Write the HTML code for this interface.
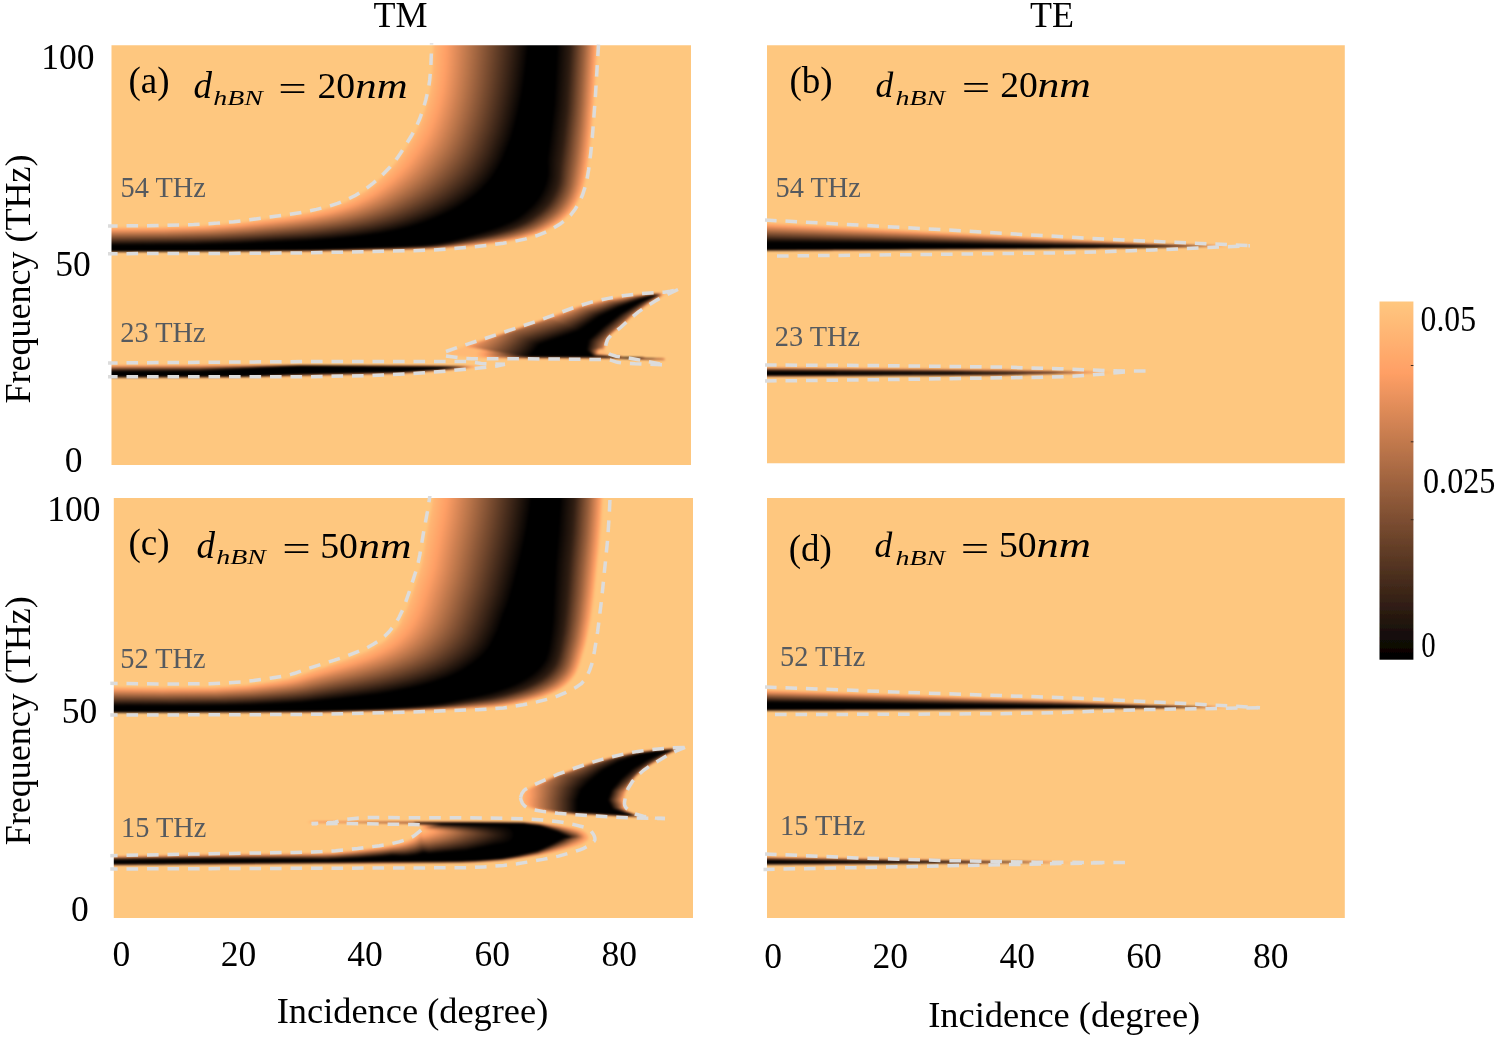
<!DOCTYPE html>
<html lang="en"><head><meta charset="utf-8"><title>Figure</title>
<style>
html,body{margin:0;padding:0;background:#fff;}
body{width:1498px;height:1038px;overflow:hidden;}
svg{display:block;position:absolute;left:0;top:0;}
text{font-family:"Liberation Serif","Times New Roman",serif;fill:#000;}
.t{font-size:36px;}
.k{font-size:35.5px;}
.g{font-size:29px;fill:#565a5e;}
.e{font-size:36px;}
.i{font-style:italic;}
.s{font-size:22px;font-style:italic;}
.p{font-size:37px;}
.dash{fill:none;stroke:#dcdcdc;stroke-width:3.5;stroke-dasharray:11.6 8.9;}
</style></head>
<body>
<svg width="1498" height="1038" viewBox="0 0 1498 1038">
<defs>
<filter id="bl" x="-2%" y="-2%" width="104%" height="104%" color-interpolation-filters="sRGB"><feGaussianBlur stdDeviation="0.8"/></filter>
<filter id="tb" x="-5%" y="-20%" width="110%" height="140%"><feGaussianBlur stdDeviation="0.45"/></filter>
<filter id="db" x="-2%" y="-2%" width="104%" height="104%"><feGaussianBlur stdDeviation="0.35"/></filter>
<linearGradient id="cb" x1="0" y1="1" x2="0" y2="0"><stop offset="0" stop-color="#000"/><stop offset="0.8" stop-color="#ff9f65"/><stop offset="1" stop-color="#ffc77f"/></linearGradient>
<clipPath id="cpa"><rect x="111.5" y="45.2" width="579.5" height="419.8"/></clipPath>
<clipPath id="cda"><rect x="108" y="43.2" width="584.5" height="423.8"/></clipPath>
<clipPath id="cpb"><rect x="767" y="45.2" width="577.8" height="418"/></clipPath>
<clipPath id="cdb"><rect x="763.5" y="43.2" width="582.8" height="422"/></clipPath>
<clipPath id="cpc"><rect x="113.8" y="497.9" width="579.2" height="420"/></clipPath>
<clipPath id="cdc"><rect x="110.3" y="495.9" width="584.2" height="424"/></clipPath>
<clipPath id="cpd"><rect x="767" y="497.9" width="577.8" height="420"/></clipPath>
<clipPath id="cdd"><rect x="763.5" y="495.9" width="582.8" height="424"/></clipPath>
</defs>
<g clip-path="url(#cpa)"><g filter="url(#bl)">
<rect x="103.5" y="37.2" width="595.5" height="435.8" fill="#fec77f"/>
<path fill="#ffc57e" d="M433 40.5l1 -0.4 6 0 115 -0.1 40 0 2 0.1 1.5 0.4 -0.5 4.3 -0.5 13.7 -0.5 4.4 -1.5 28.6 -0.5 3.7 -0.5 11.3 -0.5 3.5 -0.5 9.5 -0.5 3.6 -0.5 8.4 -0.5 3 -0.5 7.5 -0.5 2.6 -0.5 6.4 -0.5 2.5 -0.5 6 -0.5 1.9 -0.5 5.6 -0.5 1.5 -0.5 4.5 -0.5 1.6 -0.5 3.9 -0.5 1.2 -0.5 3.3 -0.5 0.9 -0.5 2.6 -0.5 0.9 -1.4 5.1 -0.6 0.9 -0.6 2.1 -0.4 0.4 -1.5 4.1 -0.5 0.5 -0.5 1.5 -0.5 0.4 -1.5 3.1 -3.1 4.5 -3.8 4.5 -4.1 4 -6 4.5 -8 5 -9.5 4.7 -12 4 -15 3.6 -14 2.4 -20 2.6 -14 1.1 -6 0.9 -5.7 0.2 -15.3 1.3 -7.1 0.2 -1.9 0.4 -8 0.4 -2 0 -1 -0.3 -7 0.4 -9 0 -3 0.5 -2 -0.4 -5 0.4 -4 -0.4 -2 0.5 -9 -0.1 -2 0.3 -2 -0.2 -1 0.3 -3 -0.3 -1 0.4 -5 0 -1 -0.4 -2 0.5 -6 -0.1 -1 0.4 -0.7 -0.3 -1.3 -0.1 -1 0.4 -0.7 -0.3 -1.3 0 -2 0.4 -1 -0.4 -2 0.4 -1 -0.4 -1 0.4 -11 0.1 -1 0.3 -1 -0.3 -1.4 0 -0.6 0.3 -0.6 -0.3 -1.4 0 -1 0.4 -1 -0.4 -2 0.4 -1 -0.4 -1 0.4 -2 -0.4 -1 0.4 -3 0 -1 -0.2 -2 0.2 -1 -0.4 -1 0.4 -12 -0.1 -1 0.2 -28 0 -1 0.2 -1 -0.2 -11 0 -1 0.2 -5 -0.2 -1 0.2 -1 -0.2 -1 0.2 -1 -0.2 -1 0.3 -1 -0.3 -9 0 -1 0.3 -1 -0.3 -1 0.4 -1 -0.4 -1 0.3 -1 -0.3 -1 0.2 -1.4 -0.2 -0.6 0.3 -1 -0.3 -1 0.3 -3.4 -0.3 -0.6 0.3 -1.2 -0.3 -4.8 0 -1 0.3 -0.7 -0.3 -1.3 0.3 -1 -0.3 -1 0.4 -1 -0.4 -1 0.2 -2.5 -0.2 -0.5 0.3 -0.5 -0.3 -1.5 0.3 -1 -0.3 -1 0.3 -4 -0.3 -1 0.4 -1 -0.4 -1 0.2 -1.3 -0.2 -0.7 0.3 -0.7 -0.3 -2.3 0.2 -1 -0.2 -1 0.3 -0.7 -0.3 -1.3 0.3 -1 -0.3 -1 0.3 -2 -0.2 -1 0.3 -1 -0.4 -1 0.4 -1 -0.4 -2 0.3 -1 -0.3 -1 0.3 -51 0.2 -13 0 -0.9 -0.5 0 -23 0.3 -1.5 0.6 -0.3 52 -0.1 6 -0.4 15 -0.1 5 -0.5 11 -0.1 2 -0.3 5 -0.2 1 -0.3 6 -0.2 2 -0.4 4 0 2 -0.4 10 -0.6 1 -0.4 5 -0.1 2 -0.5 3 0 2 -0.5 3 -0.1 1 -0.3 3 -0.1 4 -1 6 -0.5 4 -0.8 8 -0.7 1 -0.4 3 -0.1 2 -0.5 12 -1.5 1 -0.5 5 -0.9 6 -0.7 3 -0.8 5.6 -0.7 2.4 -0.8 9 -1.6 2 -1 3 -0.5 7 -2 9 -3 6.4 -2.6 1.2 -1 5.4 -2.6 11.1 -6.4 5.1 -3.5 6.9 -5.5 0.4 -1.5 3.6 -3 5.9 -5.7 8 -8.8 4.2 -5.5 6 -9 8.8 -14.2 4.1 -7.8 0.4 -1.5 0.5 -0.5 0.4 -1.5 0.9 -1.5 0.1 -1 0.7 -1 0.5 -2 0.4 -0.4 1.6 -5.1 0.6 -1 0.4 -2 0.5 -1 0.4 -2 0.7 -1.5 0.3 -2 0.7 -2 0.3 -2 0.6 -1.5 0.4 -2.5 0.7 -2 0.3 -3 0.7 -2 0.3 -4 0.7 -3.5 0.3 -6 0.7 -5.5zM669.2 292l1.9 0 -9.1 4.6 -5 2.9 -10 6.4 -8 5.5 -0.4 0.6 -1.6 1 -0.3 0.5 -2.7 1.9 -0.4 0.6 -2.6 2 -0.3 0.5 -0.7 0.4 -0.4 0.6 -0.6 0.3 -1.6 1.7 -1.4 1 -0.2 0.5 -0.9 0.5 -0.2 0.5 -0.7 0.4 -1.4 1.6 -10.6 8.4 -1.3 1.6 -0.7 0.3 -0.2 0.7 -0.9 0.5 -0.3 1 -0.7 0.5 -0.4 1.5 -0.5 0.2 -0.3 2.3 -0.7 1 -0.3 4 -0.7 0.5 0.9 2.5 2.7 3 0.5 1.5 0.7 0.5 1.2 0 0.9 0.5 10.1 0 1 0.5 11 0.1 1 0.4 10 0 1 0.5 10 0 1.8 0.5 6.2 0 1 0.5 -0.1 1 -0.9 0.5 -8 -0.1 -2 -0.4 -11 -0.1 -3 -0.4 -11 -0.1 -2 -0.4 -11 -0.1 -3 -0.4 -3.1 0 -0.2 0.5 -0.7 0.3 -20 -0.3 -100 -0.3 -24 -1 -14 -1.5 -4 -0.4 -0.3 -0.3 -0.1 -3 0.4 -0.8 15 -5.3 1 -0.7 74.3 -24.7 23.7 -8.5 15 -5.7 8 -2.5 13 -3.5 9 -2 26 -4.1 22 -2 7 -0.1 3 0.1zM197.2 365l0.8 -0.4 121 0 2 0 1 0.4 73 0.1 5 0 1 0.4 71 0.1 10 0.4 0.7 0.5 -10.9 1.5 -0.8 0.3 -8.5 0.7 -1.5 0.4 -3.4 0.1 -1.6 0.4 -3.4 0.1 -1.6 0.4 -10.5 0.6 -1.5 0.4 -5 0.1 -1 0.3 -5.5 0.2 -1.5 0.4 -11 0.6 -1 0.3 -5.5 0.2 -1.5 0.4 -4.9 0.1 -2.1 0.4 -38.1 0.6 -4.9 0.4 -17.9 0.1 -5.1 0.4 -17.6 0.1 -5.4 0.4 -20.2 0.1 -5.8 0.4 -27.4 0.1 -6.6 0.4 -32.9 0.1 -19.1 0.4 -55 0.1 -38 0 -1 -0.5 0.1 -11.5 0 -0.5 0.9 -0.4z"/>
<path fill="#ffc17b" d="M433.1 40.5l0.9 -0.4 8 0 113 -0.1 40 0 2 0.1 1.3 0.4 -2.9 49.5 -3 41 -3 28 -3 19 -2 8.5 -2 6 -2.9 7 -3.2 6 -3.8 5.5 -3 3.5 -4.2 4 -5.9 4.5 -4.7 3 -6.7 3.8 -9 4 -11 3.4 -11 2.6 -16 2.8 -21 2.7 -13 1.1 -6 0.8 -22 1.6 -6.4 0.2 -1.6 0.4 -27 0.5 -3 0.4 -2 -0.3 -5 0.4 -4 -0.4 -2 0.4 -3 -0.1 -8 0.4 -2 -0.2 -1 0.2 -3 -0.2 -1 0.3 -2 -0.1 -3 0.2 -1 -0.4 -2 0.5 -6 -0.1 -1 0.4 -0.6 -0.3 -1.4 -0.1 -1 0.4 -0.6 -0.3 -1.4 0 -2 0.3 -1 -0.3 -2 0.4 -1 -0.4 -2 0.4 -1 -0.2 -2 0.2 -7 0 -1 0.3 -2 -0.3 -1 0.3 -2 -0.2 -1 0.4 -1 -0.4 -2 0.3 -1 -0.3 -1 0.3 -2 -0.3 -1 0.3 -2 -0.2 -1 0.3 -1 -0.3 -2 0.3 -1 -0.4 -1 0.4 -2 -0.2 -1 0.2 -4 -0.2 -4 0.2 -1 -0.2 -1 0.2 -29 0.2 -33 -0.1 -1 0.3 -1 -0.3 -1 0.3 -1 -0.3 -1 0.2 -1 -0.2 -3 0.2 -1 -0.2 -5 0.2 -6 -0.2 -1 0.3 -0.6 -0.3 -1.4 0.2 -1 -0.2 -1 0.3 -1 -0.3 -4 0.2 -3 -0.2 -1 0.3 -0.9 -0.3 -3.1 0 -1 0.3 -1 -0.3 -3 0.2 -4 -0.2 -1 0.3 -0.6 -0.3 -1.4 0.2 -1.5 -0.2 -0.5 0.2 -2 -0.2 -1 0.3 -1 -0.3 -1 0.3 -0.8 -0.3 -2.2 0.2 -1 -0.2 -1 0.3 -1 -0.2 -10 0.2 -40 0.1 -13 0 -0.9 -0.4 0 -22.5 0.1 -1.5 0.8 -0.7 52 -0.2 7 -0.4 14 -0.1 6 -0.4 10 -0.1 2 -0.4 5 -0.1 1 -0.4 6 -0.1 2 -0.4 5 -0.2 2 -0.3 9 -0.6 1 -0.3 5 -0.2 2 -0.4 3 -0.1 2 -0.4 7 -0.6 4 -0.9 2 -0.1 2 -0.4 2 -0.1 4 -0.7 8 -0.8 1 -0.4 3 -0.1 2 -0.5 6 -0.6 6 -0.9 1 -0.5 8 -1.3 3 -0.2 3 -0.8 5.9 -0.8 2.1 -0.7 7 -1.2 2 -0.5 2 -0.9 3 -0.6 9 -2.6 6 -2 7.5 -3 1.2 -1 6.3 -3 10.2 -6 5.1 -3.5 6.9 -5.5 0.1 -1 0.4 -0.5 9.3 -8.5 8 -8.9 5 -6.6 5.3 -8 8.7 -14.1 4.2 -7.9 3.8 -9.2 3.2 -9.3 3 -11 2 -9.5 1.1 -7.5 0.9 -11.5zM667.3 292.5l1.7 -0.3 0.6 0.3 -8.6 4.5 -12 7.5 -8 5.4 -7.2 5.6 -13.1 12 -8.7 6.8 -1.5 1.7 -0.5 0.3 -0.3 0.7 -0.8 0.5 -0.4 1 -0.6 0.5 -0.2 1 -0.7 0.7 -0.4 2.3 -0.7 1 -0.2 4 -0.9 0.5 0.9 2.5 2.7 3 0.6 1.5 0.7 0.5 1.3 0.1 0.9 0.4 10.1 0 1 0.5 10 0 1 0.1 1 0.4 10 0 1 0.5 10 0 1.7 0.5 6.3 0 1 0.5 -0.1 1 -0.9 0.4 -8 -0.1 -2 -0.3 -11 -0.1 -3 -0.4 -10 -0.1 -3 -0.4 -11 -0.1 -3 -0.4 -3.2 0 -0.8 0.8 -9.9 -0.3 -108.1 -0.3 -28 -1.4 -16 -1.7 -0.3 -0.6 0 -2.5 0.3 -0.6 15.3 -5.4 0.7 -0.7 74.4 -24.8 12.8 -4.5 25.8 -9.7 8 -2.5 12 -3.1 10 -2.3 26 -4.1 23 -2.1 6 -0.1 3 0.3zM197.3 365l0.7 -0.4 118 0 5 0 1 0.4 70 0.1 8 0 1 0.4 69 0.2 10 0.3 2 0.2 0.4 0.3 -11.4 1.7 -13.6 1.3 -1.4 0.4 -3.5 0.1 -1.5 0.4 -10.6 0.6 -1.4 0.3 -5.1 0.2 -1.9 0.4 -4.6 0.1 -1.4 0.3 -5 0.2 -1 0.3 -5 0.2 -2 0.4 -4.7 0.1 -1.3 0.3 -5 0.2 -2 0.4 -14 0.1 -7 0.3 -16 0.2 -6 0.3 -17 0.2 -5 0.3 -19.2 0.2 -5.8 0.4 -20 0.1 -6 0.3 -26.8 0.2 -7.2 0.4 -111 0.6 -33 0 -0.9 -0.5 0 -11.5 0.1 -0.5 0.8 -0.4z"/>
<path fill="#ffbd79" d="M433.4 40.5l1.6 -0.3 11 -0.1 85 -0.1 61 0.1 4 0 1.8 0.4 -2.6 46 -3 42 -3 28.5 -2 14 -2 10.5 -2.1 7.5 -1.9 5.5 -2.9 6.5 -3.1 5.5 -4 5.5 -3.1 3.5 -3.9 3.5 -6.1 4.5 -9.2 5.5 -8.9 4.1 -11 3.6 -15 3.5 -21 3.3 -19 2.3 -15 1.4 -21 1.6 -6 0.2 -1 0.2 -16.5 0.3 -1.5 0.3 -12 0.3 -4 -0.2 -3 0.4 -4 -0.4 -2 0.4 -3 -0.2 -2 0.3 -12 0 -1 0.3 -3 -0.2 -2 0.3 -1 -0.3 -2 0.4 -2 -0.3 -1 0.3 -3 -0.1 -1 0.3 -2 -0.2 -5 0.3 -1 -0.3 -2 0.4 -1 -0.4 -2 0.4 -1 -0.3 -2 0.4 -1 -0.2 -12 0.2 -1 0.3 -1 -0.3 -2 0.3 -1 -0.3 -1 0.3 -2 -0.3 -2 0.3 -1 -0.2 -1 0.3 -1 -0.3 -2 0.3 -1 -0.4 -1 0.4 -2 -0.3 -1 0.4 -1 -0.4 -2 0.4 -1 -0.4 -1 0.3 -3 0.1 -1 -0.4 -1 0.4 -4 -0.2 -1 0.2 -60 0.2 -59 -0.1 -52 0.4 -13 0 -0.8 -0.4 0 -21 0.2 -3 0.6 -0.5 52 -0.3 37 -1 7 -0.5 2 -0.4 5 -0.1 9 -0.9 4 -0.1 2 -0.4 14 -1.1 7 -0.9 2 -0.1 4 -0.9 2 0 28 -3.7 6 -0.9 1 -0.4 20 -3.2 7 -1.4 18 -5 6 -2 8 -3.2 1 -0.9 8.2 -4.1 9.1 -5.5 5 -3.5 6.2 -5 0.1 -1 10.7 -10 8 -9 6.8 -9.5 9.1 -14.5 3.8 -6.5 3.2 -6.5 4 -10 3 -9 2.9 -11.5 1.5 -7 0.7 -4.5 1.2 -14.5 0.7 -15zM654.6 293l6.4 -0.2 2 0.4 1.9 0.8 -0.9 0.5 -0.2 0.5 -1.3 1 -8.5 5 -9 6 -8 5.8 -8 6.7 -8.6 8 -8.4 6.7 -3.3 3.3 -1.7 2.8 -1.2 3.7 -0.5 4 -1.3 0.5 0.1 0.5 1 2.5 2.9 3.5 1.4 1 1.6 0.1 0.7 0.4 10.3 0.1 1 0.4 10 0.1 2 0.4 9 0 1 0.1 1 0.4 9 0 3 0.5 6 0 0.9 0.5 -0.2 1 -0.7 0.4 -33 -1.1 -4 -0.3 -9 -0.1 -5 -0.4 -3 -0.1 -1 0.6 -87 -0.2 -34 -0.5 -8 -0.4 -5 -0.8 -14 -0.7 -13 -1.5 -0.5 -0.4 0 -1.5 0.5 -0.7 16.7 -5.8 -1.3 -0.5 74.5 -25 42.1 -15.2 15 -4.1 13 -2.9 25 -3.9zM197.6 365l0.4 -0.2 110 -0.2 13 0.2 1 0.2 62 0.1 16 0.2 1 0.2 61 0.2 16 0.4 3.2 0.4 -11.2 1.7 -19 2 -51 4 -93 2.1 -51.6 0.7 -9.4 0.4 -140 0.5 -0.9 -0.4 -0.1 -0.5 0.2 -10.5 0.2 -1 0.6 -0.3z"/>
<path fill="#ffb976" d="M433.7 40.5l17.3 -0.4 80 -0.1 59 0.1 5 0 2.5 0.4 -3.2 54.5 -2.5 33.5 -3.2 30 -1.6 11.5 -1.7 9.5 -1.9 7.5 -2.4 7 -2.6 6 -3 5.5 -3.4 5 -3.9 4.5 -4.3 4 -5.4 4 -9.4 5.7 -9 4.2 -11 3.6 -13 3.1 -15 2.7 -19 2.4 -21 2.2 -30 2.2 -17 0.4 -4 0.3 -13 0.1 -3 0.2 -4 -0.2 -2 0.4 -3 -0.3 -2 0.3 -16 0.2 -2 0.3 -1 -0.4 -2 0.4 -2 -0.3 -1 0.3 -12 0.1 -2 0.3 -1 -0.3 -2 0.3 -1 -0.2 -2 0.3 -1 -0.3 -2 0.3 -10 0.1 -1 0.2 -1 -0.2 -6 0 -7 0.3 -1 -0.3 -1 0.3 -2 -0.2 -1 0.3 -1 -0.3 -2 0.3 -1 -0.3 -1 0.2 -3 0.1 -1 -0.3 -1 0.3 -2 -0.2 -1 0.2 -1 -0.3 -1 0.3 -3 0 -1 -0.2 -1 0.2 -134 0.2 -45 0.3 -0.7 -0.3 -0.2 -1 0.1 -18.5 0.2 -3.5 0.2 -1 0.4 -0.3 52 -0.4 38 -1.1 38 -2.9 13 -1.5 4 -0.8 23 -2.7 1 -0.4 10 -1.2 3 -0.8 3 -0.2 17 -2.9 1 -0.4 9 -1.8 3.3 -1.1 8.7 -2.2 8 -2.6 9 -3.5 1 -0.8 8.6 -4.4 6.8 -4 5.9 -4 7 -5.5 0.4 -0.5 0.2 -1 3.7 -3 5.7 -5.5 8.2 -9 5 -6.5 6.9 -10.5 8 -13 4.1 -8 4 -10 2.9 -9 3 -11.5 1.9 -9.5 1.2 -10 0.8 -14zM656 293l6 0.1 1.8 0.9 0 0.5 -1 1 -13.8 8.6 -12 8.5 -8 6.8 -7.7 7.1 -9.3 7.5 -3 3 -2 3 -1.2 3.5 -0.8 4.5 -1.6 1 0 0.5 0.2 1 1.2 2 2.4 2.5 0.8 0.2 1 0.8 2 0.2 0.6 0.3 9.4 0.1 2 0.4 10 0.1 2 0.4 9 0.1 2 0.4 9 0.1 3 0.5 6 0 0.9 0.4 -0.3 1 -0.6 0.3 -19 -0.5 -32 -1.4 -3 0 -1 0.5 -1 0 -48 -0.3 -33 0.2 -36 -0.5 -10 -0.6 -3 -0.5 -3 -0.8 -13 -0.7 -13 -1.4 -0.6 -0.3 0.1 -1 0.5 -0.2 16.6 -5.8 -0.6 -0.8 -0.7 -0.2 84.7 -28.7 26 -9.7 7 -2.2 12 -3.2 13 -3.1 26 -4zM197.9 365l104.1 -0.3 20 0.4 135 0.6 19 0.4 4.2 0.4 -10.2 1.6 -20 2.1 -52 4 -155 3.1 -137 0.6 -0.8 -0.4 -0.1 -0.5 0.1 -10 0.3 -1.5 0.5 -0.2 91 -0.1z"/>
<path fill="#ffb573" d="M434.3 40.5l20.7 -0.4 76 -0.1 57 0.1 7 0.1 2.1 0.3 -3.2 54.5 -2.5 33.5 -3.3 31.5 -1.6 11 -1.7 9 -1.9 7.5 -2.4 7 -2.6 6 -3.1 5.5 -3.5 5 -3.5 4 -4.5 4 -5.3 4 -9.1 5.5 -8.4 4 -10.4 3.5 -11.8 3 -14.3 2.7 -16 2.2 -27 2.9 -18 1.4 -18 1.1 -11 0.1 -4 0.3 -20 0.2 -3 0.3 -2 -0.3 -2 0.3 -16 0.2 -2 0.3 -1 -0.3 -2 0.3 -2 -0.2 -2 0.3 -2 -0.2 -1 0.3 -2 -0.2 -8 0.4 -1 -0.2 -2 0.3 -1 -0.3 -2 0.3 -1 -0.2 -2 0.2 -2 -0.1 -9 0.4 -14 0.1 -1 -0.2 -1 0.2 -2 -0.2 -1 0.3 -1 -0.3 -2 0.3 -1 -0.3 -4 0.3 -1 -0.3 -1 0.3 -2 -0.2 -1 0.3 -1 -0.3 -1 0.3 -3 0 -1 -0.3 -1 0.3 -134 0.2 -45 0.3 -0.6 -0.3 -0.3 -1 0.1 -17 0.3 -4.5 0.5 -1.6 56 -0.5 35 -1.1 2 -0.3 18 -1.1 22 -2 47 -6.1 2 -0.6 4 -0.4 14 -2.5 3.4 -0.8 2.6 -0.3 2 -0.7 4 -0.6 14 -3.9 9 -3.1 6 -2.4 8.6 -4.5 9.3 -5.5 5 -3.5 6.9 -5.5 0.2 -0.5 10.1 -9.5 7.8 -8.5 4.9 -6.5 0.2 -0.6 0.9 -0.9 2.1 -3.6 0.8 -0.9 0.2 -0.6 0.8 -0.9 0.2 -0.8 0.8 -0.7 0.3 -1 0.6 -0.5 0.3 -1 0.7 -0.5 0.3 -1 0.6 -0.5 0.4 -1.1 1.8 -2.4 0.2 -0.9 0.7 -0.6 0.3 -1 0.7 -0.5 0.3 -1.1 1.7 -2.4 0.3 -1.1 0.6 -0.4 0.4 -1.4 0.7 -0.6 0.3 -1.2 0.7 -0.8 0.3 -1.4 0.6 -0.6 0.4 -1.6 0.7 -0.9 0.3 -1.6 0.8 -0.9 0.2 -1.5 0.8 -1 0.2 -1.6 0.7 -0.9 0.3 -1.7 0.8 -1.3 0.2 -1.7 0.8 -1.3 0.2 -1.7 0.7 -1.3 0.3 -2.1 0.7 -1.4 0.3 -2.3 0.7 -1.2 0.3 -2.7 0.7 -1.3 0.3 -3.1 0.7 -1.4 0.3 -3.3 0.7 -1.7 0.3 -5.1 0.8 -3.4 0.2 -7.5 0.7 -4.5zM658 293l4 0.2 1.5 0.8 0.1 0.5 -1 1 -13.6 8.4 -12 8.6 -6 4.9 -9.9 9.1 -9.1 7.3 -3 3.1 -2 2.9 -1.4 3.7 -0.8 4.5 -1.8 1 -2.1 0 -0.9 0.5 -0.3 1.5 -0.8 0.5 0 1.5 -0.9 0.5 -0.1 0.5 9.1 1.1 1.9 0.9 3.1 0.5 9 0.1 2 0.4 9 0.1 3 0.4 9 0.1 2 0.4 8 0.1 4 0.5 6 0 0.8 0.4 -0.3 1 -0.5 0.2 -18 -0.4 -33 -1.4 -3 0 -2 0.5 -48 -0.4 -30 0.2 -32 -0.4 -13 -0.5 -6 -0.8 -2.8 -1 0.6 -3 1 -2 1.4 -2 -1.2 -0.5 -2 0 -1 -0.5 -2 0 -1 -0.5 -3 0 -1 -0.5 -2 -0.1 -0.9 -0.9 40.6 -14 43.3 -14.5 28 -10.4 8 -2.4 22 -5.4 26 -4zM223 365l77 -0.3 22 0.4 134 0.7 20 0.4 3.3 0.3 -10.3 1.6 -19 2.1 -45 3.5 -9 0.4 -155 3.2 -135 0.6 -0.7 -0.4 -0.2 -0.5 0.1 -9.5 0.2 -1.5 0.6 -0.6 91 -0.1 1 -0.2z"/>
<path fill="#ffb171" d="M436.2 40.5l22.8 -0.3 72 -0.2 55 0.1 9 0.1 1.8 0.3 -3.2 54.5 -2.5 33.5 -3.4 31.5 -1.7 11.5 -1.7 9 -1.9 7.5 -2.5 7 -2.6 6 -3.3 5.6 -3.5 4.9 -3.6 4 -5.2 4.5 -5.7 4 -9 5.3 -8.3 3.7 -11.7 3.7 -13 3.1 -17 2.8 -17 2.1 -25 2.5 -24 1.7 -23 0.8 -18 0.1 -3 0.3 -2 -0.2 -2 0.3 -3 -0.2 -15 0.6 -1 -0.2 -6 0.3 -2 -0.2 -1 0.3 -2 -0.2 -17 0.6 -2 -0.2 -9 0.4 -18 0 -1 0.2 -1 -0.2 -2 0.3 -1 -0.3 -4 0.3 -1 -0.3 -1 0.3 -2 -0.2 -1 0.2 -1 -0.2 -4 0.2 -1 -0.2 -1 0.2 -179 0.5 -0.9 -0.7 0.2 -18 0.2 -3.5 0.5 -1.9 53 -0.5 39 -1.1 16 -1.1 21 -1.8 40 -4.9 30 -4.7 13 -2.6 11.2 -2.9 9.8 -3.1 9.7 -3.9 8.1 -4 7.6 -4.5 7.2 -5 8 -6.5 8.6 -8 6.9 -7.5 5.5 -7 5.7 -8.5 9.1 -14.5 4.2 -8 4 -9.5 3.2 -9.5 3.2 -11.5 2.1 -9.5 1.1 -8.5 1 -11.5zM651.8 293.5l5.2 -0.4 4 0.1 2 0.7 0.3 0.6 -0.9 1 -12.4 7.6 -13 9.2 -5 4.1 -12.3 11.1 -8.7 7.1 -3 3.3 -1.2 2.1 -1.3 3.5 -0.8 4.5 -1.7 0.9 -2.4 0.1 -0.8 0.5 -1.1 2 0 1.5 -0.7 0.4 -0.5 0.6 9.5 1.1 1.7 0.9 3.3 0.6 9 0 2 0.5 9 0 3 0.5 8 0 3 0.5 8 0 4 0.5 6 0 0.8 0.4 -0.1 0.5 -0.7 0.7 -51 -1.8 -3 -0.1 -2 0.5 -48 -0.4 -30 0.3 -30 -0.5 -13 -0.5 -6 -0.6 -3.6 -1.1 0.9 -3.5 2.1 -3.5 -1.4 0 -1 -0.6 -2 0 -1 -0.5 -2 0 -1 -0.5 -3 0 -1 -0.5 -2 -0.1 -0.4 -0.3 0.2 -0.5 1.2 -0.4 39 -13.6 43.5 -14.5 27.5 -10.2 5 -1.6 11 -2.9 14 -3.3 27 -4.2zM251.7 365l48.3 -0.2 22 0.3 122 0.6 29 0.4 5.5 0.4 -8.5 1.4 -21 2.3 -45 3.5 -9 0.4 -156 3.2 -133 0.5 -0.7 -0.3 -0.2 -0.5 0.1 -9 0.3 -2 0.5 -0.6z"/>
<path fill="#ffad6e" d="M438.3 40.5l23.7 -0.3 69 -0.1 54 0 11.5 0.4 -3.3 55 -2.4 33 -3.4 31.5 -1.7 11.5 -1.8 9.5 -2 7.5 -2.5 7 -2.8 6 -3.2 5.5 -3.7 5 -3.8 4 -4.9 4.2 -6.2 4.3 -8.7 5 -8.1 3.6 -12 3.7 -13 3 -16.1 2.7 -16.9 2.1 -25 2.5 -24 1.7 -23 0.8 -23 0.3 -3 0.2 -2 -0.1 -15 0.5 -1 -0.2 -6 0.3 -2 -0.1 -1 0.2 -2 -0.1 -8 0.3 -38 0.5 -1 0.2 -4 -0.2 -4 0.2 -1 -0.2 -1 0.2 -4 -0.2 -4 0.3 -1 -0.3 -1 0.3 -1 -0.2 -8 0.2 -170 0.5 -0.8 -0.7 0.1 -17.5 0.2 -3.5 0.5 -2 54 -0.5 41 -1.3 35 -2.7 42 -5.2 29 -4.5 13.4 -2.8 10.6 -2.7 10 -3.3 8.9 -3.5 8.1 -4 8.5 -5 7.8 -5.5 8.5 -7 7.5 -7 7 -7.5 5.1 -6.5 5.8 -8.5 8.5 -13.5 4.6 -8.5 4 -9.5 3.4 -10 3.2 -11.5 2.1 -9.5 1.2 -8.5 1 -11.5zM652.7 293.5l7.3 -0.3 2 0.3 0.9 0.5 0.2 0.5 -0.9 1 -12.2 7.4 -13 9.3 -5 4.1 -11.3 10.2 -9.7 8 -3 3.3 -1.3 2.2 -1.5 4 -0.7 4 -1.5 0.9 -2.6 0.1 -0.8 0.5 -1.1 2 0 1.5 -1.4 1 9.9 1.2 1.6 0.8 3.4 0.6 8 0 3 0.5 9 0 3 0.5 8 0 3 0.5 8 0 3 0.4 7 0.1 0.7 0.4 -0.1 0.5 -0.6 0.6 -54 -1.8 -2 0.4 -48 -0.3 -30 0.2 -28 -0.4 -14 -0.6 -6 -0.7 -3.5 -0.9 1 -3.5 1.8 -3 -0.3 -0.5 -2 -0.1 -1 -0.5 -2 0 -1 -0.5 -2 0 -1 -0.5 -3 0 -1 -0.6 -2.2 -0.3 0.2 -0.3 38 -13.4 46 -15.3 26 -9.7 6 -1.9 25 -6.3 26 -4zM267.7 365l32.3 -0.2 142 0.9 29 0.5 6.8 0.3 -7.8 1.3 -21 2.3 -49 3.8 -163 3.4 -131 0.5 -0.6 -0.3 -0.2 -0.5 0.1 -9 0.2 -1.5 0.5 -0.9z"/>
<path fill="#ffa96c" d="M440.4 40.5l24.6 -0.3 66 -0.1 54 0 11.1 0.4 -3.2 54.5 -2.4 33 -3.5 32 -1.7 11.5 -1.8 9.5 -2 7.5 -2.7 7.5 -2.8 6 -3.3 5.5 -3.8 5 -3.9 4 -5 4.1 -6 4.1 -8.4 4.8 -7.9 3.5 -11.7 3.7 -13 3 -15 2.5 -18 2.3 -25 2.6 -24 1.7 -23 0.8 -102 1.9 -199 0.6 -0.8 -0.6 0.1 -16.5 0.3 -4 0.4 -2.1 55 -0.5 41 -1.3 35 -2.8 43.6 -5.3 17.2 -2.5 12.2 -2.1 13 -2.8 9.9 -2.6 9.3 -3 8.9 -3.5 8.1 -4 8.8 -5.1 8 -5.6 8.4 -6.8 7.1 -6.5 7.1 -7.5 5.9 -7.5 6.2 -9 8 -12.5 4.3 -8 4 -9.5 3.5 -10 3.1 -11 2.2 -10 1.3 -9 1.1 -11.5zM653.6 293.5l6.4 -0.2 2 0.4 0.9 0.8 -0.9 1 -11 6.6 -14 9.9 -5 4.1 -11.4 10.4 -9.6 7.8 -3 3.3 -1.5 2.4 -1.5 4.4 -0.6 3.6 -1.4 0.9 -2.8 0.1 -0.8 0.5 -1.1 2 0.1 1.5 -1.4 1 10 1.3 1.5 0.7 3.5 0.6 8 0 3 0.5 9 0 3 0.5 8 0 3 0.5 8 0 3 0.5 7 0.1 0.7 0.3 -0.1 0.5 -0.6 0.5 -54 -1.7 -2 0.3 -48 -0.3 -30 0.2 -26 -0.4 -14 -0.5 -6 -0.6 -4.3 -1 1 -3.5 1.8 -3 -1.5 -0.6 -2 0 -1 -0.5 -2 0 -1 -0.5 -2 -0.1 -1 -0.5 -3 0 -1 -0.5 -2.1 -0.3 40.1 -14.2 44 -14.7 27 -10 4 -1.3 12 -3.2 14 -3.3 26 -4.1zM277.9 365l22.1 -0.1 140 0.9 37.1 0.7 -7.1 1.2 -20 2.2 -50 3.9 -166 3.5 -128 0.5 -0.5 -0.3 -0.4 -1 0.2 -8.5 0.3 -1.5 0.4 -0.8z"/>
<path fill="#ffa569" d="M442.5 40.5l25.5 -0.3 63 -0.1 52 0 12.8 0.4 -3.2 54.5 -2.5 33 -1.8 18.5 -1.9 15.5 -1.4 9.4 -1.9 10.1 -2.1 7.5 -2.7 7.5 -2.9 6 -3.4 5.5 -3.5 4.5 -3.9 4 -5.5 4.5 -6 4 -7.9 4.5 -8.2 3.6 -12.9 3.9 -13.4 3 -15.4 2.5 -17.3 2.2 -24 2.4 -23 1.6 -23 0.8 -102 2 -199 0.6 -0.8 -0.6 0.1 -16 0.7 -6.3 55 -0.4 41 -1.3 35 -2.7 44 -5.3 17.5 -2.5 12.5 -2.2 12 -2.5 11 -2.8 9.3 -3 8.9 -3.5 8.3 -4 8.7 -5 7.8 -5.3 8.3 -6.7 7.3 -6.5 7.3 -7.5 6 -7.5 6.4 -9 8 -12.5 4.4 -8 4.2 -10 3.3 -9.5 3.2 -11 2.3 -10.5 1.5 -10.5 1 -10zM654.3 293.5l5.7 -0.1 2 0.4 0.8 0.7 -1 1 -10.8 6.5 -14 9.9 -5 4.1 -11.6 10.5 -9.4 7.7 -3 3.2 -1.6 2.6 -1.4 3.9 -0.8 4.1 -1.2 0.8 -3.1 0.2 -0.7 0.5 -1.1 2 0.1 1.5 -1.3 1 10.1 1.4 1.3 0.6 3.7 0.6 8 0 3 0.5 8 0 4 0.5 8 0 3 0.5 8 0 3 0.5 7 0.1 0.6 0.3 -0.6 1 -54 -1.8 -2 0.4 -48 -0.3 -30 0.2 -25 -0.5 -14 -0.5 -6 -0.6 -4.1 -0.9 1 -3.5 1.8 -3 -1.7 -0.1 -1 -0.5 -2 0 -1 -0.6 -2 0 -1 -0.5 -2 0 -1 -0.5 -3 -0.1 -1 -0.5 -1.6 -0.2 42.2 -15 40.1 -13.5 1.3 -0.2 27 -10.1 5 -1.5 13 -3.4 13 -3.1 26 -4zM284.9 365l155.1 0.8 36.4 0.7 -6.4 1.1 -20 2.3 -50 3.9 -168 3.5 -126 0.4 -0.5 -0.2 -0.3 -1 0.1 -8 0.2 -1.5 0.5 -1.2 94 -0.2z"/>
<path fill="#ffa167" d="M444.5 40.5l86.5 -0.4 50 0.1 14.4 0.3 -3.1 54 -2.3 31.3 -3 28.9 -2 14.3 -2 11.2 -1.9 7.3 -2.1 6.4 -2.9 6.6 -3.1 5.4 -4 5.6 -3.7 4 -5.3 4.5 -6 4.2 -9 5.1 -8.4 3.7 -11.2 3.5 -15.4 3.5 -12 2 -20 2.6 -24 2.4 -24 1.7 -22 0.7 -102 2 -199 0.6 -0.7 -0.5 0 -15 0.7 -6.9 55 -0.4 42 -1.3 35 -2.7 46 -5.5 16 -2.3 13 -2.3 12 -2.5 10 -2.6 10 -3.2 9 -3.6 8 -3.8 8.6 -4.9 7.4 -5 10 -7.9 7.3 -6.6 6.8 -7 5.6 -7 7.1 -10 7.5 -11.5 4.1 -7.5 4.1 -9.5 3.5 -10 3.2 -11 2.3 -10.5 1.4 -9 1.2 -12zM655 293.5l5 -0.1 2 0.5 0.6 0.6 -0.9 1 -10.7 6.4 -13 9.1 -6 4.8 -11.7 10.7 -9.3 7.6 -3 3.2 -1.7 2.7 -1.3 3.5 -0.9 4.5 -1.1 0.8 -3.3 0.2 -0.7 0.5 -1.1 2 0.1 1.5 -1.2 1 10.2 1.5 1.2 0.5 2.8 0.5 9 0.1 3 0.5 8 0 4 0.5 8 0 3 0.5 8 0.1 3 0.4 7 0.1 0.6 0.3 -0.6 0.9 -54 -1.7 -2 0.3 -48 -0.3 -30 0.2 -24 -0.4 -14 -0.6 -6 -0.6 -4 -0.8 0.8 -3 1.8 -3 -0.6 -0.5 -2 -0.1 -1 -0.5 -2 -0.1 -1 -0.5 -2 0 -1 -0.5 -2 -0.1 -1 -0.5 -3 0 -1 -0.6 -0.9 -0.1 41.9 -15 40 -13.5 1 -0.1 27 -10 4 -1.3 12 -3.2 15 -3.6 26 -4zM228.3 365.5l71.7 -0.5 140 0.8 35.5 0.7 -5.5 1 -20 2.3 -50 3.9 -167 3.5 -127 0.5 -0.8 -0.7 0.1 -8 0.3 -2 0.4 -1z"/>
<path fill="#fc9d64" d="M446.6 40.5l84.4 -0.4 49 0.1 15.1 0.3 -4.1 68.4 -2 23.6 -2 19 -2 15.3 -3 16 -2 7.1 -3 7.9 -3 5.8 -3 4.7 -3 3.8 -4 4.1 -5 4.1 -6 4.2 -8 4.6 -9 3.9 -9.5 3 -12.4 3 -17 3 -19.1 2.5 -24.9 2.5 -23.1 1.7 -22 0.7 -102 2 -199 0.6 -0.7 -0.5 0.1 -14.5 0.6 -7 56 -0.4 42 -1.4 35.2 -2.7 47.8 -5.7 16 -2.3 13 -2.3 12 -2.6 9.8 -2.6 9.1 -3 8.1 -3.2 9 -4.3 9 -5.1 8 -5.5 9.3 -7.4 7.7 -7 5.8 -6 5.8 -7 7.5 -10.5 6.5 -10 4.4 -8 4.2 -9.5 3.7 -10.5 3.2 -11 2.4 -10.5 1.6 -11 1.1 -11zM655.7 293.5l4.3 0 1.8 0.5 0.6 0.5 -0.9 1 -12.4 7.5 -12.1 8.7 -5.9 4.8 -10.4 9.5 -9.7 8 -3 3.1 -1.8 2.9 -1.3 3.5 -0.9 4.5 -1 0.8 -3.5 0.2 -0.8 0.5 -1 2 0.1 1.5 -1 1 2.2 0.5 8 1 1.1 0.5 2.9 0.5 9 0.1 3 0.5 8 0 4 0.5 8 0 3 0.5 8 0.1 3 0.4 7 0.1 0.6 0.3 -0.6 0.9 -15 -0.3 -39 -1.4 -2 0.2 -48 -0.3 -30 0.2 -23 -0.4 -14 -0.6 -6 -0.6 -3.8 -0.7 0.8 -3 1.8 -3 -0.8 0 -1 -0.6 -2 0 -1 -0.6 -2 0 -1 -0.5 -2 -0.1 -1 -0.5 -2 0 -1 -0.5 -3 -0.1 -1.4 -0.6 41.4 -14.9 40 -13.4 1.3 -0.2 30.7 -11.2 14 -3.8 14 -3.2 25 -3.9zM239.5 365.5l60.5 -0.5 140 0.9 34.1 0.6 -4.5 1 -19.6 2.3 -50 3.9 -170 3.5 -124 0.5 -0.8 -0.7 0 -0.5 0.1 -7.5 0.7 -2.9z"/>
<path fill="#f59962" d="M448.7 40.5l82.3 -0.4 47 0.1 16.4 0.3 -3.4 58.5 -2.2 28.5 -1.8 18.5 -2 16.1 -1.6 10.4 -1.9 9.5 -1.8 7 -2.8 7.5 -2.9 6 -3.1 5 -3.9 5 -4 4 -6 4.8 -6 3.9 -8.7 4.8 -8.7 3.5 -11.9 3.5 -13.7 3 -15.6 2.5 -15.4 2 -24.7 2.5 -22.3 1.6 -22 0.7 -102 2 -199 0.7 -0.7 -0.5 0.1 -14 0.6 -7.1 56 -0.5 42 -1.3 35 -2.6 48 -5.6 16 -2.3 13 -2.2 12 -2.5 10 -2.7 10 -3.2 8 -3.1 9 -4.2 9 -5.1 8.3 -5.6 9 -7 6.7 -5.8 7 -7.1 5.6 -6.6 7.4 -10 7.3 -11 4.4 -8 4.4 -10 3.9 -11 3 -10.5 2.3 -10 1.7 -11.5 1.1 -11zM656.4 293.5l3.6 0.1 1.6 0.4 0.7 0.5 -1 1 -12.3 7.5 -12 8.5 -6 4.9 -10.5 9.6 -9.5 7.8 -3 3.2 -1.9 3 -1.3 3.5 -1 4.5 -0.8 0.7 -3.7 0.3 -0.8 0.5 -1 2 0.1 1.5 -0.9 1 0.3 0.3 10 1.3 0.9 0.4 3.1 0.5 9 0.2 3 0.4 8 0 4 0.5 7 0 4 0.5 7 0 4 0.5 7 0.1 0.5 0.3 -0.5 0.8 -14 -0.2 -40 -1.5 -2 0.3 -48 -0.3 -31 0.2 -22 -0.5 -13 -0.6 -6 -0.5 -3.6 -0.7 0.8 -3 1.8 -3 -2 -0.1 -1 -0.5 -2 -0.1 -1 -0.5 -2 0 -1 -0.6 -2 0 -1 -0.5 -2 0 -1 -0.6 -3 0 -0.6 -0.6 34.6 -12.7 46 -15.5 1.7 -0.3 30.3 -11.1 16 -4.2 12 -2.8 26 -4.1zM248.4 365.5l51.6 -0.4 140 0.8 32.7 0.6 -0.6 0.5 -2.1 0.4 -20 2.3 -50 3.9 -171 3.6 -123 0.4 -0.7 -0.6 -0.1 -0.5 0.2 -7.5 0.6 -2.7 94 -0.3z"/>
<path fill="#ef955f" d="M450.8 40.5l80.2 -0.4 46 0.1 16.8 0.3 -3.4 58 -2.2 29 -2 19.5 -1.8 14.5 -1.7 11 -2.1 10.5 -2.1 7.5 -2.5 6.6 -3 5.9 -3.6 5.5 -3.6 4.5 -4.2 4 -5.6 4.4 -6.3 4.1 -8.4 4.5 -7.4 3 -11.5 3.5 -13.2 3 -17.2 2.9 -20 2.5 -20.6 2.1 -21.4 1.5 -22 0.8 -102 2 -199 0.7 -0.6 -0.5 0 -13 0.6 -7.7 56 -0.5 42 -1.2 35 -2.6 48 -5.5 17 -2.4 13 -2.2 12 -2.5 10 -2.6 10 -3.2 8 -3.1 8.7 -4 9.3 -5.1 8 -5.3 8.1 -6.1 7.9 -6.7 7 -6.8 6.4 -7.5 7.8 -10.5 7.1 -10.5 4.4 -8 4.3 -9.9 4 -11.6 3 -10.5 2.2 -9.5 1.7 -11.5 1.2 -10.5 1 -16zM651.9 294l6.1 -0.5 3 0.4 1.1 0.6 -0.9 1 -10.2 6 -14 9.9 -6 4.9 -10.6 9.7 -9.4 7.7 -3 3.1 -2 3.1 -1.3 3.6 -1 4.5 -0.7 0.7 -4 0.3 -0.7 0.5 -1 2 0.2 1.5 -0.9 1 0.4 0.4 10 1.2 4 0.9 8 0.1 4 0.5 8 0.1 4 0.4 7 0 4 0.5 7 0.1 4 0.5 7 0.1 0.5 0.2 -0.5 0.8 -19 -0.4 -35 -1.3 -2 0.3 -49 -0.4 -29 0.2 -34 -1 -7 -0.6 -3.4 -0.6 0.8 -3 1.5 -2.5 -0.9 -0.5 -2 -0.1 -1 -0.5 -2 -0.1 -1 -0.5 -2 -0.1 -1 -0.5 -2 0 -1 -0.6 -2 0 -1 -0.5 -2.9 -0.1 1.4 -1 2.4 -1 28.1 -10.4 48 -16.2 2 -0.4 29 -10.7 13 -3.5 15 -3.6 26 -4.2zM255.6 365.5l44.4 -0.4 138 0.8 31 0.5 2.3 0.1 0.3 0.5 -21.6 2.7 -50 3.9 -173 3.6 -121 0.4 -0.7 -0.6 -0.1 -0.5 0.2 -7 0.6 -3.1 94 -0.3z"/>
<path fill="#e9915d" d="M452.9 40.5l78.1 -0.4 45 0.1 17.1 0.3 -3.6 60.5 -2 26 -1.8 18.5 -1.9 15.5 -1.7 11 -2.1 10.5 -2 7.5 -2.6 7 -3.1 6 -3.6 5.5 -3.7 4.5 -4.2 4 -5.8 4.5 -6.2 4 -7.8 4.2 -8.1 3.3 -11.9 3.6 -13 2.9 -16 2.6 -21 2.7 -20.6 2.2 -20.4 1.5 -22 0.7 -102 2.1 -199 0.6 -0.6 -0.4 0 -12.5 0.6 -7.8 57 -0.5 42 -1.3 35 -2.6 48 -5.4 16 -2.2 13.2 -2.2 12.2 -2.5 9.9 -2.5 9.7 -3 8.1 -3 9.9 -4.5 9 -4.8 8 -5.2 10 -7.5 7.1 -6 6.7 -6.5 6.9 -8 6.4 -8.5 7.5 -11 4.5 -8 4.7 -10.5 4 -11.5 2.9 -10 2.3 -10 1.9 -12 1.1 -10.5 1.2 -16.5zM652.5 294l5.5 -0.4 2 0.2 1.9 0.7 -0.2 0.5 -0.7 0.5 -12 7.3 -12 8.5 -6 4.9 -10.7 9.8 -9.3 7.6 -3 3.1 -2 3 -1.2 2.8 -1.5 6 -4.5 0.5 -0.7 0.5 -1 2 0 2 -0.5 0.5 0.4 0.4 10 1.3 4 0.9 8 0 4 0.5 8 0.1 4 0.4 7 0 4 0.5 7 0.1 4 0.5 7 0.1 0.4 0.2 -0.4 0.7 -19 -0.3 -36 -1.3 -1 0.2 -48 -0.3 -30 0.2 -33 -1 -7 -0.6 -3.3 -0.6 0.9 -3 1.6 -2.5 -1.2 0 -1 -0.6 -2 0 -1 -0.6 -2 0 -1 -0.6 -2 0 -1 -0.5 -2 -0.1 -1 -0.5 -2 0 -1 -0.6 -1 0 3.9 -2.5 25.5 -9.5 48.7 -16.5 1.9 -0.3 29 -10.8 28 -7.1 26 -4.2zM261.5 365.5l38.5 -0.4 136 0.8 31 0.5 3 0.1 1.1 0.5 -21.1 2.6 -50 3.9 -174 3.7 -120 0.4 -0.7 -0.6 0 -0.5 0.1 -7 0.6 -3 94 -0.2z"/>
<path fill="#e28d5a" d="M454.9 40.5l76.1 -0.4 43 0.1 18.4 0.3 -3.5 60.5 -2 26 -2 19.5 -1.8 14.5 -1.9 12 -2.1 10.5 -1.9 7 -2.5 6.5 -3.1 6 -3.6 5.5 -3.8 4.5 -4.2 4 -5.9 4.5 -6.1 3.9 -7.5 4.1 -7.5 3.1 -11 3.4 -12 2.8 -16 2.8 -17 2.4 -22.5 2.5 -17.5 1.5 -29 1.2 -102 2 -197 0.7 -2 0 -0.6 -0.4 0 -12 0.6 -7.9 57 -0.5 42 -1.3 36 -2.6 49 -5.5 15 -2 14 -2.4 11.5 -2.3 11.5 -3 10 -3.1 8 -3.1 10 -4.6 8 -4.4 7.5 -4.8 9.5 -7 9 -7.6 6.5 -6.4 6 -7 7.6 -10 6.2 -9 4.5 -8 4.7 -10.5 4 -11.5 3 -10 2.4 -10.5 1.9 -12 1.2 -10.5 1.2 -16.5zM653 294l5 -0.4 2 0.2 1.7 0.7 -0.1 0.5 -0.7 0.5 -10.2 6 -13.7 9.7 -6 4.9 -11.5 10.4 -8.5 7 -3 3.1 -2 2.9 -1.3 3 -1.5 6 -4.6 0.5 -0.8 0.5 -0.9 2 0.1 2 -0.5 0.5 0.5 0.5 10 1.2 4 0.9 8 0.1 4 0.4 8 0.1 4 0.4 7 0.1 4 0.5 7 0 4 0.5 7 0.1 0.4 0.2 -0.4 0.7 -19 -0.4 -36 -1.3 -1 0.3 -48 -0.4 -30 0.2 -32 -1 -7 -0.6 -3.1 -0.5 0.5 -2 1.6 -3 0 -0.5 -2 -0.1 -1 -0.5 -2 -0.1 -1 -0.5 -2 -0.1 -1 -0.5 -2 -0.1 -1 -0.5 -2 0 -1 -0.5 -2 -0.1 0 -0.5 5 -3.5 19 -7.1 19 -6.7 33.5 -11.2 1.5 -0.2 29.1 -10.8 13.9 -3.7 15 -3.6 25 -4zM266.5 365.5l33.5 -0.4 140 0.9 28 0.5 2.6 0.5 -20.6 2.6 -50 3.9 -174 3.7 -120 0.3 -0.6 -0.5 -0.1 -0.5 0.1 -6.5 0.6 -3.3 94 -0.3z"/>
<path fill="#dc8958" d="M457 40.5l74 -0.3 42 0 18.8 0.3 -3.7 62 -1.9 24.5 -2 19 -1.8 14.5 -1.7 11.5 -2.3 11.5 -1.9 7 -2.5 6.5 -3.1 6 -3.7 5.5 -3.3 4 -4.8 4.5 -5.1 4 -6.1 4 -7.9 4.3 -7.8 3.2 -12.2 3.7 -11 2.6 -15 2.6 -17 2.4 -23.6 2.7 -17.6 1.5 -27.8 1.1 -99 2 -191 0.8 -11 0 -0.6 -0.4 0 -11 0.6 -8.6 57 -0.4 42 -1.2 36 -2.6 52 -5.7 13 -1.8 14 -2.4 11 -2.2 12 -3 10 -3.1 8 -3 9.8 -4.5 8.4 -4.5 10.1 -6.5 8 -6 7.8 -6.5 6.8 -6.5 6.9 -8 8 -10.5 5.4 -8 4.5 -8 4.5 -10 4.3 -12 2.9 -10 2.5 -10.5 1.9 -12 1.2 -10.5 1.3 -17zM653.6 294l3.4 -0.3 2 0.1 2 0.4 0.5 0.3 0 0.5 -12.5 7.5 -12 8.6 -6 4.8 -11.6 10.6 -8.4 6.8 -3 3.1 -2.1 3.1 -1.6 4 -1.1 5 -4.9 0.5 -0.7 0.5 -0.9 2 0.2 2 -0.5 0.5 0.6 0.5 10 1.3 4 0.8 8 0.1 4 0.5 7 0 5 0.5 8 0 3 0.5 8 0.1 3 0.4 7 0.1 0.3 0.2 -0.3 0.6 -19 -0.3 -36 -1.3 -1 0.2 -48 -0.3 -30 0.2 -31 -1 -9.9 -1.1 0.7 -2.5 1.5 -2.5 -1.3 -0.6 -2 0 -1 -0.6 -2 0 -1 -0.6 -2 0 -1 -0.5 -2 -0.1 -1 -0.5 -2 -0.1 -1 -0.5 -0.7 0 7 -5 15.7 -6 18 -6.4 34.8 -11.6 1.2 -0.1 29.5 -10.9 13.5 -3.6 15 -3.6 26 -4.2zM270.8 365.5l29.2 -0.3 140 0.8 27 0.5 3.1 0.5 -20.1 2.5 -50 3.9 -175 3.8 -119 0.3 -0.6 -0.5 -0.1 -0.5 0.1 -6.5 0.6 -3.2 94 -0.3z"/>
<path fill="#d68555" d="M459.1 40.5l71.9 -0.3 41 0 19.1 0.3 -3.7 62 -1.8 24 -2.2 20.5 -1.9 15.5 -2.3 14 -1.7 8 -1.9 6.5 -2.5 6.5 -3.2 6 -3.4 5 -3.3 4 -4.3 4 -5.1 4 -6.8 4.5 -7.3 4 -7.7 3.2 -12 3.7 -11 2.6 -15 2.7 -17 2.4 -24 2.8 -18.4 1.6 -26.6 1 -99 2.1 -187 0.7 -15 0.1 -0.5 -0.4 -0.1 -10.5 0.6 -8.7 57 -0.4 43 -1.3 35 -2.5 31 -3.1 24 -2.8 15 -2.2 14 -2.4 11 -2.4 10 -2.6 10 -3.2 8.6 -3.4 8.7 -4 8.7 -4.8 8.1 -5.2 8.9 -6.5 7.9 -6.5 6.8 -6.5 8.2 -9.5 8.3 -11 4.9 -7.5 4.3 -8 4.3 -10 4.2 -12 2.8 -10 2.2 -9.5 1.8 -11.5 1.4 -11.5 1.2 -16zM654.1 294l2.9 -0.3 2 0.1 2 0.5 0.4 0.7 -12.4 7.4 -12 8.6 -6 4.8 -11.2 10.2 -8.8 7.2 -3 3.1 -2.2 3.2 -1.9 5 -0.8 4 -5 0.5 -0.7 0.5 -0.9 2 0.2 2 -0.3 0.5 0.6 0.6 10 1.2 4 0.8 8 0.1 4 0.5 7 0 5 0.5 8 0 3 0.5 8 0.1 3 0.4 7 0.2 0.3 0.1 -0.3 0.6 -19 -0.3 -36 -1.4 -1 0.3 -48 -0.3 -30 0.1 -30 -1 -9.7 -1 0.7 -2.5 1.5 -2.5 -1.5 -0.1 -1 -0.5 -2 -0.1 -1 -0.5 -2 -0.1 -1 -0.5 -2 -0.1 -1 -0.5 -2 0 -1 -0.6 -2 0 0 -0.3 7.1 -5.2 3.7 -2 25.2 -9.3 38 -12.7 1.2 0 3.8 -1.3 25 -9.4 29 -7.4 26 -4.2zM274.4 365.5l25.6 -0.3 140 0.9 25.6 0.4 4 0.5 -19.6 2.5 -50 3.9 -175 3.7 -119 0.4 -0.6 -0.5 -0.1 -0.5 0.1 -6 0.6 -3.5 94 -0.3z"/>
<path fill="#cf8152" d="M461.2 40.5l69.8 -0.3 40 0 19.4 0.3 -3.6 62 -1.9 24 -2.1 20.5 -2 15 -2.3 14.5 -1.5 7.5 -2 6.9 -2.4 6.1 -3.1 6 -3.7 5.5 -3.4 4 -4.4 4.1 -5 3.9 -6.9 4.5 -8.1 4.3 -8 3.2 -11 3.4 -11.3 2.6 -14.7 2.6 -18 2.6 -23 2.7 -18.6 1.6 -25.7 1 -98.7 2.1 -187 0.7 -15 0 -0.5 -0.3 -0.1 -9.5 0.6 -9.3 57 -0.4 43 -1.3 35 -2.4 55 -5.9 13 -1.7 16 -2.7 11 -2.3 11 -2.9 10 -3.1 9 -3.5 8 -3.6 9 -4.9 8.7 -5.5 8.4 -6 7.9 -6.4 7.5 -7.1 7.5 -8.5 8.8 -11.5 5.3 -8 4.2 -8 4.2 -9.5 4.3 -12.5 2.7 -9.5 2.2 -9.5 1.9 -11.5 1.4 -12 1.3 -16.5zM654.5 294l2.5 -0.3 2 0.2 2 0.6 0.3 0.5 -12.3 7.3 -12 8.6 -6 4.8 -11.3 10.3 -8.7 7.1 -3 3 -2.3 3.4 -1.9 5 -0.8 4 -5 0.5 -0.9 0.5 -0.8 2 0.3 2 -0.3 0.5 0.7 0.7 14 1.9 8 0.1 4 0.5 7 0 5 0.5 7 0 4 0.5 8 0.1 3 0.5 7 0.1 0.2 0.1 -0.2 0.5 -19 -0.2 -36 -1.4 -1 0.2 -48 -0.3 -30 0.2 -28.9 -1 -9.7 -1 0.8 -2.5 1.1 -2 -0.3 -0.5 -2 -0.1 -1 -0.5 -2 -0.1 -1 -0.6 -2 0 -1 -0.5 -2 -0.1 -1 -0.5 -2 -0.1 -1.5 -0.5 10.2 -7.5 2.1 -1 25.2 -9.2 35 -11.6 1.6 -0.2 3.4 -1.1 25 -9.5 29.2 -7.4 8.8 -1.3 17 -2.9zM277.6 365.5l22.4 -0.3 140 0.9 24.2 0.4 4.9 0.5 -19.1 2.4 -50 3.9 -175 3.8 -119 0.4 -0.6 -0.5 -0.1 -0.5 0.1 -6 0.6 -3.4 94 -0.3z"/>
<path fill="#c97d50" d="M463.2 40.5l67.8 -0.3 40 0 18.7 0.3 -3.6 62 -1.8 23.5 -2.2 20.5 -2 15.5 -2.2 14 -1.6 8 -1.8 6.5 -2.3 6 -3.1 6 -3.7 5.5 -3.3 4 -4.2 4 -5.1 4 -6.8 4.5 -8.2 4.5 -7.4 3 -11.2 3.5 -12.2 2.9 -14 2.5 -21.6 3.1 -21.1 2.5 -18.2 1.5 -26.6 1 -92.5 2 -135 0.7 -71 0.1 -0.5 -0.3 -0.1 -9 0.6 -9.4 58 -0.4 43 -1.3 34 -2.3 37 -3.7 21 -2.4 15 -2.2 14 -2.4 11 -2.4 11.4 -3 9.6 -3.1 8.5 -3.4 9.5 -4.4 8.3 -4.6 9.7 -6.3 7.8 -5.7 9 -7.5 6 -6 7.8 -9 6.8 -9 5.7 -8.5 4.2 -8 4.1 -9.5 4.2 -12 2.7 -9.5 2.3 -10 1.9 -11.5 1.5 -12 1.3 -16.5zM655 294l4 -0.1 1.9 0.6 0.2 0.5 -12.1 7.3 -12 8.5 -6 4.8 -11.4 10.4 -8.6 7 -3 3 -2.1 3 -2.1 5 -1 4.5 -4.8 0.4 -1.1 0.6 -0.8 2 0.3 2 -0.2 0.5 0.8 0.7 14 1.9 8 0.1 4 0.5 7 0 5 0.5 7 0 4 0.5 7 0 4 0.6 7 0.1 0.2 0.1 -0.2 0.4 -19 -0.2 -36 -1.3 -1 0.2 -48 -0.3 -30 0.1 -27.3 -0.9 -10.1 -1 0.7 -2.5 1.3 -2 -1.6 -0.6 -2 0 -1 -0.6 -2 -0.1 -1 -0.5 -2 0 -1 -0.6 -2 0 -1 -0.6 -2 0 11.8 -9 2 -1 22.2 -8.1 35 -11.6 3 -0.5 6 -2 10.2 -3.8 10.8 -4.5 28 -7.2 10 -1.4 17 -3zM280.4 365.5l19.6 -0.3 140 0.9 22.9 0.4 5.7 0.5 -18.6 2.4 -50 3.9 -175 3.8 -119 0.3 -0.6 -0.4 0 -0.5 0 -5.5 0.6 -3.7 94 -0.4z"/>
<path fill="#c27a4d" d="M465.3 40.5l65.7 -0.3 58.1 0.3 -3.7 63.5 -1.8 22 -2.2 20.5 -1.9 15 -2.6 16 -1.6 8 -1.8 6 -2.7 6.5 -3.1 5.5 -3.8 5.5 -3.6 4 -4.4 4 -5.9 4.4 -6.5 4.1 -7.8 4 -7.8 3 -11.8 3.5 -11 2.5 -17.1 3 -21 2.9 -20 2.3 -16 1.3 -27 1 -94 2 -132 0.6 -71 0.2 -0.4 -0.3 -0.2 -8 0.6 -10 58 -0.4 43 -1.3 35 -2.3 37 -3.7 20.5 -2.3 15.5 -2.2 13 -2.2 12 -2.5 11 -2.9 10 -3.2 10 -3.9 7.7 -3.6 8.3 -4.5 10 -6.3 8 -5.8 7.9 -6.4 6.3 -6 8.1 -9 7.8 -10 5 -7.5 5.1 -9.5 3.9 -9 4.4 -12.5 2.7 -9.5 2.3 -10 2 -11.5 1.5 -12 1.4 -17zM655.4 294l3.6 0 1.6 0.5 0.4 0.5 -12 7.2 -12 8.5 -6 4.8 -11.6 10.5 -8.4 6.9 -3 3 -2.2 3.1 -2.2 5 -0.6 3.2 -0.6 1.3 -4.4 0.4 -1.3 0.6 -0.8 2 0.3 2.5 0.8 0.8 14 1.8 8 0.1 4 0.5 7 0 5 0.5 7 0 4 0.5 7 0.1 4 0.5 7 0.1 0 0.4 -19 -0.1 -36 -1.3 -1 0.2 -48 -0.4 -30 0.2 -26 -0.9 -10.2 -1 0.7 -2.5 1.3 -2 -1.8 -0.1 -1 -0.5 -2 -0.1 -1 -0.5 -2 -0.1 -1 -0.5 -2 -0.1 -1 -0.5 -2 -0.1 -1.3 -0.5 13.1 -10 2 -1 17.2 -6.3 37 -12.3 2.6 0.1 6.4 -2.1 14 -5.4 3.4 -1.5 2.6 -1.5 15 -3.5 14 -4.1 10 -1.3 17 -3.2zM282.9 365.5l17.1 -0.2 140 0.8 22 0.4 6 0.5 -18 2.3 -50 3.9 -175 3.9 -119 0.3 -0.5 -0.4 -0.1 -0.5 0 -5.5 0.6 -3.6 94 -0.3z"/>
<path fill="#bc764b" d="M467.4 40.5l63.6 -0.3 57.4 0.3 -3.7 63.5 -1.7 21.5 -2.2 20.5 -2 15.5 -2.5 15.5 -1.7 8.5 -2 6.5 -2.5 6 -3.4 6 -3.5 5 -3.2 3.5 -4.9 4.5 -5.4 4 -6.7 4.3 -8 4.1 -8.2 3.1 -10.8 3.2 -12.2 2.8 -16.8 2.9 -23 3.3 -17 1.9 -16 1.3 -30 1.1 -96 2 -182 0.8 -16 0 -0.4 -0.3 -0.2 -7 0.6 -10.6 58 -0.5 43 -1.2 35 -2.3 37 -3.5 21 -2.4 15 -2 14 -2.4 11 -2.3 12 -3 10 -3.2 8.2 -3.1 9 -4 9.4 -5 11.4 -7.2 8.7 -6.3 8.3 -7 6 -6 7.5 -8.5 7.6 -10 4.9 -7.5 3.9 -7.5 3.8 -8.5 4.6 -13 2.7 -9.5 2.4 -10 2 -12 1.5 -11.5 1.5 -18zM655.8 294l3.2 0.1 1.4 0.4 0.5 0.5 -11.9 7.1 -12 8.5 -6 4.8 -11.7 10.6 -8.3 6.8 -3 3 -2.1 2.7 -2.3 5 -0.6 3.1 -1 1.9 -4 0.3 -1.6 0.7 -0.6 2.5 0.3 2 0.3 0.5 0.6 0.3 14 1.8 8 0.1 4 0.5 7 0 5 0.5 7 0 4 0.5 7 0.1 4 0.5 7 0.1 0 0.3 -19 0 -36 -1.3 -79 -0.1 -24 -0.8 -11.1 -1 0.6 -2 1.2 -2 -0.7 -0.5 -2 -0.1 -1 -0.6 -2 0 -1 -0.6 -2 0 -1 -0.6 -2 0 -1 -0.6 -2 0 14.7 -11.5 2 -1 16.3 -5.9 35 -11.6 1 -0.1 2 0.6 3.1 -1 13.9 -5.2 7 -3 4 -2.1 13 -2.9 14.4 -4.3 9.6 -1.2 17.1 -3.3zM285.1 365.5l14.9 -0.2 140 0.9 21 0.3 6.5 0.5 -17.5 2.3 -50 3.9 -175 3.8 -119 0.4 -0.5 -0.4 -0.1 -0.5 0.1 -5.5 0.5 -3.5 94 -0.3z"/>
<path fill="#b67248" d="M469.5 40.5l61.5 -0.3 56.7 0.3 -3.6 63 -1.8 22 -2.2 20.5 -1.9 15 -2.5 16 -1.8 8.5 -2 6.5 -2.5 6 -3.1 5.5 -3.9 5.5 -4.2 4.5 -4.6 4 -5.5 4 -6.4 4 -7.7 3.9 -9 3.4 -10 2.9 -12.4 2.8 -17.6 3.1 -21 2.9 -17 2 -16 1.3 -30 1.1 -96 2.1 -127 0.6 -71 0.2 -0.4 -0.3 -0.2 -6.5 0.6 -10.7 59 -0.5 44 -1.2 38 -2.6 32 -3.1 24 -2.6 15 -2.1 15 -2.6 12 -2.7 11 -2.9 9 -2.9 10.2 -4.1 7.8 -3.6 8.9 -4.9 9.1 -5.7 8.8 -6.3 8.2 -6.7 6.9 -6.8 8 -9 6.9 -9 4.6 -7 4.2 -8 4 -9 4.8 -13.5 2.5 -9 2.4 -10 2 -12 1.7 -12.5 1.4 -17zM656.2 294l2.8 0.1 1.2 0.4 0.5 0.5 -11.7 7 -12.1 8.5 -5.9 4.8 -11.3 10.2 -10.7 9.1 -2.1 2.4 -2.2 3.5 -1.3 3 -0.4 2.3 -1.5 2.7 -3.5 0.3 -1.8 0.7 -0.7 2 0.7 3 0.8 0.4 14 1.8 8 0 4 0.5 7 0 5 0.5 7 0 4 0.5 7 0.1 4 0.5 7 0.3 -6 0.2 -13 -0.1 -36 -1.4 -79 0 -24 -0.9 -9.9 -0.9 0.6 -2 1.2 -2 -0.9 0 -1 -0.6 -2 -0.1 -1 -0.5 -2 -0.1 -1 -0.5 -2 -0.1 -1 -0.5 -2 -0.1 -1 -0.5 12.7 -10 2.5 -2.5 13.8 -5.1 36 -11.9 2 -0.5 2 0.6 1.7 -0.1 2.3 -0.7 13.9 -5.3 6.9 -3 3.6 -2 14.6 -3.4 13.5 -4.1 10.5 -1.4 15.5 -3.1zM287.1 365.5l12.9 -0.2 140 0.9 20 0.3 7 0.5 -17 2.2 -50 3.9 -175 3.9 -119 0.4 -0.5 -0.4 -0.1 -0.5 0 -5 0.6 -3.8 94 -0.4z"/>
<path fill="#af6e46" d="M471.6 40.5l59.4 -0.3 56 0.3 -3.6 63 -1.8 21.5 -2.1 20.5 -2 15.5 -2.7 17 -1.7 8 -1.8 6 -2.6 6 -3.1 5.5 -3.6 5.1 -4.5 4.9 -4.5 3.8 -5.7 4.2 -6.4 4 -6.9 3.5 -9.3 3.5 -10.1 3 -12.6 2.9 -15 2.6 -23.9 3.5 -16.7 2 -15.4 1.3 -34.4 1.2 -91.6 1.9 -127 0.7 -71 0.1 -0.4 -0.2 -0.1 -6.5 0.5 -10.4 59 -0.4 44 -1.2 38 -2.6 32 -2.9 24 -2.6 15 -2.1 15 -2.5 11 -2.3 12 -3.1 10 -3.2 10 -3.9 8 -3.6 9 -4.9 9 -5.6 9 -6.2 8.6 -7 6.3 -6 7.7 -8.5 7.8 -10 5 -7.5 3.9 -7.5 4 -9 4.8 -13.5 2.6 -9 2.4 -10 2.2 -12.5 1.6 -12.5 1.6 -17.5zM656.7 294l2.3 0.2 1 0.3 0.6 0.5 -11.8 7 -10 7 -7 5.5 -12.2 11 -10.7 9 -3.2 4 -1.1 2 -0.6 1.8 -0.6 0.7 -0.4 1.9 -2.1 3.6 -2.9 0.2 -1 0.6 -1.1 0.2 -0.6 2 0.8 3 0.9 0.5 14 1.7 8 0 4 0.5 7 0 5 0.5 7 0 4 0.5 7 0.1 4 0.5 7 0.3 -6 0.2 -13 -0.2 -36 -1.3 -79 -0.1 -22 -0.8 -10.7 -0.9 0.6 -2 1.1 -2 -2 -0.1 -1 -0.6 -2 0 -1 -0.6 -2 0 -1 -0.6 -2 0 -1 -0.6 -1.8 0 11.4 -9 5.4 -5 13 -4.6 33 -10.8 3 -0.8 4 0.7 2 -0.6 14 -5.4 7 -3 4 -2.2 14 -3.3 14 -4.3 10 -1.4 16 -3.3zM288.9 365.5l11.1 -0.2 140 0.9 19 0.3 7.6 0.5 -16.6 2.2 -50 3.9 -175 3.9 -119 0.4 -0.5 -0.4 -0.1 -0.5 0.1 -5 0.5 -3.7 94 -0.3z"/>
<path fill="#a96a43" d="M473.6 40.5l57.4 -0.3 55.4 0.3 -3.7 63 -1.6 20.5 -2.3 21.5 -1.9 15 -2.9 18 -1.5 7.5 -2.1 6.5 -2.4 5.5 -3.4 6 -3.7 5 -3.9 4.2 -4.4 3.8 -5.6 4.1 -7 4.4 -7 3.5 -9 3.4 -10.6 3.1 -10.9 2.5 -17.5 3.1 -23 3.4 -16.5 2 -14.5 1.2 -25 1 -93 2.1 -118 0.7 -88 0.2 -0.3 -0.2 -0.2 -6 0.5 -10.5 59 -0.4 44 -1.2 38 -2.5 33 -3 23 -2.4 15 -2 15.1 -2.5 12 -2.5 11.8 -3 9.6 -3 10.5 -4 7.9 -3.5 9.1 -4.8 9.4 -5.7 8.7 -6 8.8 -7 6.9 -6.5 8.2 -9 7 -9 5 -7.5 4.1 -7.5 3.9 -9 4.9 -13.5 2.6 -9 2.5 -10.5 2.5 -14 1.4 -11 1.6 -17.5zM652.7 294.5l4.3 -0.5 2 0.3 1.4 0.7 -11.7 7 -12 8.5 -6.8 5.5 -10.4 9.5 -8.6 7 -3 3 -2.3 3 -1.1 2 -0.5 1.6 -0.6 0.4 -0.4 1.4 -2.6 4.6 -2.4 0.2 -1 0.6 -1.3 0.2 -0.6 2.5 0.9 2.5 0.8 0.5 14.2 1.7 8 0.1 4 0.4 7 0 5 0.5 7 0.1 4 0.4 7 0.1 3 0.5 7.7 0.2 -5.7 0.3 -13 -0.2 -36 -1.3 -79 -0.1 -21 -0.8 -10.5 -0.9 0.6 -2 0.9 -1.5 -1 -0.6 -2 -0.1 -1 -0.5 -2 -0.1 -1 -0.5 -2 -0.1 -1 -0.5 -2 -0.1 -0.8 -0.5 12.3 -10 5.6 -5 12.8 -4.5 23.3 -7.5 10.8 -2.7 2 0 2 0.5 15.3 -5.8 11.6 -5.5 13.1 -3.2 14 -4.3 10 -1.5 16.6 -3.5zM290.9 365.5l149.1 0.7 18 0.3 8.1 0.5 -16.1 2.1 -50 3.9 -100 2.2 -50 1.4 -25 0.4 -119 0.3 -0.5 -0.8 0 -5 0.5 -3.5 94 -0.4z"/>
<path fill="#a36641" d="M475.7 40.5l55.3 -0.3 54.7 0.3 -3.6 63 -1.7 20.5 -2.2 21 -1.9 15 -2.9 18 -1.5 7.5 -1.9 6.3 -2.7 6.2 -3.1 5.5 -3.6 5 -4.2 4.5 -5.3 4.5 -7 5 -5 3 -7 3.5 -8.1 3 -10 3 -12.7 3 -19.7 3.5 -21.6 3.1 -15.5 1.9 -15.5 1.2 -33 1.2 -86 1.9 -124 0.7 -79 0.2 -0.3 -0.2 -0.2 -1 0 -5 0.5 -10.1 59 -0.4 44 -1.2 24 -1.3 16 -1.3 34 -3 24 -2.6 16 -2.2 12 -2 12 -2.5 12 -3.1 10.4 -3.3 10.6 -4.1 9.5 -4.4 9.1 -5 9.4 -5.9 8.7 -6.1 7.3 -6 6.7 -6.5 8.1 -9 6.6 -8.5 4.6 -7 5 -9.5 3.4 -8 4.6 -13 2.8 -10 2.5 -11 2.1 -12 1.5 -11 1.7 -18zM653.1 294.5l3.9 -0.4 2 0.3 1.2 0.6 -11.7 7 -10.6 7.5 -8.2 6.5 -10.3 9.5 -10.7 9 -2.9 3.5 -1.2 2 -0.6 1.8 -0.9 0.7 -3.3 6 -1.8 0.2 -1 0.5 -1.6 0.3 -0.6 2 0.5 2 1 1.5 13.7 1.6 9 0.2 4 0.4 7 0 5 0.5 7 0.1 4 0.5 7 0 3 0.5 6.9 0.2 -4.9 0.2 -13 -0.1 -36 -1.3 -79 -0.2 -19 -0.7 -11.4 -0.9 0.7 -2 0.9 -1.5 -1.2 -0.1 -1 -0.5 -2 -0.1 -1 -0.6 -2 0 -1 -0.6 -2 0 -1 -0.6 -1.5 0 11.6 -9.5 6.1 -5.5 2.4 -1.5 2.3 -1 5.9 -2 12.4 -4 22.8 -6.1 2 -0.4 2 0.6 2 -0.3 14 -5.5 7 -3.2 4 -2.1 14 -3.6 13 -4.1 10 -1.6 14.1 -3.2zM293.2 365.5l146.8 0.8 17 0.2 8.6 0.5 -16.6 2.2 -49 3.8 -100 2.2 -50 1.4 -25 0.3 -119 0.4 -0.5 -0.8 0 -5 0.5 -3.4 94 -0.4z"/>
<path fill="#9c623e" d="M477.8 40.5l53.2 -0.3 54 0.3 -3 52.9 -2 27.6 -4.1 36 -2.8 19 -2.1 10.5 -2.1 6.5 -2.8 6 -3.1 5.2 -4 5.3 -4 4 -4.1 3.5 -4.9 3.6 -7 4.4 -6.8 3.5 -9.2 3.5 -8.2 2.5 -12.4 3 -19.1 3.5 -23.3 3.5 -16.5 2 -12.5 1 -25 1.1 -93 2.1 -127 0.8 -79 0.2 -0.3 -0.2 -0.2 -1 0 -5 0.5 -9.7 59 -0.4 44 -1.2 24 -1.3 16 -1.2 38 -3.4 21 -2.2 15 -2 12 -2 13 -2.7 12 -3 10.9 -3.4 10.1 -3.9 9.1 -4.1 9.4 -5 9.5 -5.8 8.9 -6.2 7.1 -5.7 7.2 -6.8 6.9 -7.5 8 -10 4.3 -6.5 5 -9.5 3.3 -7.5 5.1 -14 2.8 -10 2.5 -10.5 2.3 -13 1.4 -11 1.8 -18zM653.4 294.5l3.6 -0.4 2 0.3 1.1 0.6 -11.8 7 -10.6 7.5 -8.2 6.5 -10.3 9.5 -7.4 6 -3.2 3 -3 3.5 -1.2 2 -0.4 1.4 -1 0.6 -3.7 6.5 -1.3 0.1 -1 0.6 -1.9 0.3 -0.5 2 0.5 2 0.8 1.5 4.1 0.5 11 1.2 8 0.1 4 0.5 7 0 5 0.5 7 0 4 0.5 7 0 3 0.6 6.2 0.1 -17.2 0.1 -36 -1.4 -79 -0.1 -19 -0.7 -10.2 -0.9 0.5 -1.5 0.8 -1.5 -0.1 -0.5 -2 -0.1 -1 -0.6 -2 -0.1 -1 -0.5 -2 -0.1 -1 -0.5 -2 -0.1 -0.6 -0.5 9.7 -8 7.2 -6.5 4.2 -2.5 4.7 -2 22.7 -6.5 15.6 -4 2.5 0.6 0.7 -0.1 14.3 -5.6 12 -5.8 13 -3.3 14 -4.5 11 -1.8 12.7 -3zM295.1 365.5l144.9 0.8 16 0.2 9.2 0.5 -18.2 2.3 -47 3.6 -100 2.2 -50 1.4 -25 0.4 -119 0.4 -0.5 -0.8 0 -5 0.5 -3.2 94 -0.4z"/>
<path fill="#965e3c" d="M479.9 40.5l51.1 -0.2 53.2 0.2 -3.6 62.5 -1.3 17 -2.5 23.5 -1.8 14.4 -3.1 20.6 -1.5 7.5 -2.1 6.5 -2.3 5.1 -3.1 5.4 -3.9 5.5 -4 4.2 -5 4.3 -7 5 -5 3 -6.9 3.5 -7.8 3 -9.8 3 -12.5 3 -19 3.5 -23.1 3.5 -16.4 2 -13.5 1.1 -23 0.9 -93 2.2 -127 0.8 -79.2 0 -0.3 -1 0 -5 0.5 -9.3 60 -0.4 44 -1.2 39 -2.4 34 -2.9 25 -2.6 16 -2.1 12 -2 13 -2.6 12 -3 11 -3.4 9.7 -3.6 9.3 -4.1 10 -5.3 9 -5.4 9.1 -6.2 7.6 -6 8.4 -8 6.9 -7.5 7.8 -10 3.6 -5.5 4.8 -9 3.4 -8 5.4 -15 2.8 -10 2.3 -10 2.2 -12.5 1.6 -11.5 1.7 -18zM653.8 294.5l3.2 -0.3 2 0.3 0.9 0.5 -12.5 7.5 -9.9 7 -7 5.5 -11.4 10.5 -7.5 6 -3.2 3 -3 3.5 -1.4 2.7 -1.6 1.3 -3.6 6.5 -3.9 1 -0.5 2 0.5 2 0.9 1.5 4.2 0.6 7 0.5 4 0.6 8 0.1 4 0.5 7 0 5 0.5 7 0 4 0.5 7 0.1 3 0.5 5.4 0.1 -16.4 0 -36 -1.3 -79 -0.2 -17 -0.6 -11 -0.9 0.5 -1.5 0.8 -1.5 -1.3 -0.6 -2 -0.1 -1 -0.5 -2 -0.1 -1 -0.6 -2 0 -1 -0.6 -1.3 0 11.3 -9.5 5.5 -5 4.1 -2.5 4.7 -2 22.5 -6.5 15.4 -4 0.8 -0.1 2 0.6 1 -0.2 14 -5.7 11.4 -5.6 14.6 -3.9 12 -4 11 -1.8 13.3 -3.3zM296.9 365.5l143.1 0.8 24.7 0.7 -8.7 1.3 -11 1.1 -45 3.4 -100 2.2 -50 1.5 -25 0.4 -119 0.4 -0.5 -0.8 0 -5 0.5 -3.1 94 -0.4z"/>
<path fill="#8f5a39" d="M482 40.5l49 -0.2 52.4 0.2 -3.5 62 -1.4 17 -4.2 37 -3.2 21.5 -1.3 7 -1.6 5.5 -2.5 6 -3.3 6 -3.5 5 -3.9 4.3 -4.8 4.2 -5.3 4 -7 4.5 -6.8 3.5 -8.1 3.2 -10.8 3.3 -12.2 2.9 -16.5 3.1 -24.5 3.8 -17 2.1 -13 1.1 -24.3 1 -91.7 2.2 -118 0.7 -88.2 0.1 -0.3 -1 0 -5 0.5 -8.9 60 -0.4 44 -1.2 39 -2.3 34 -2.9 25 -2.5 16 -2.1 12 -1.9 13 -2.5 12 -2.9 11.4 -3.4 9.7 -3.5 9.9 -4.3 10 -5.2 9 -5.3 9.3 -6.2 8.3 -6.5 6.5 -6 7.6 -8 7.7 -9.5 4.6 -7 5.1 -9.5 3.3 -7.5 5.4 -15 2.9 -10.5 2.3 -10 2.3 -12.5 1.5 -11.5 1.9 -18.5zM654.2 294.5l2.8 -0.3 1.8 0.3 0.9 0.5 -12.5 7.5 -9.8 7 -7.1 5.5 -11.1 10 -0.2 0.5 -4.6 3.5 -5.6 5 -2.4 2.5 -1.1 1.5 -0.3 1 -3.3 3 -3.4 6.5 -1.3 0.6 -2.4 0.4 -0.5 2 0.6 2 0.9 1.5 2.4 0.4 9 0.7 4 0.6 8 0.1 4 0.5 7 0 5 0.5 7 0 4 0.5 7 0.1 3 0.5 4.7 0.1 -15.7 0 -36 -1.3 -79 -0.2 -16 -0.6 -10.8 -0.9 0.5 -1.5 0.9 -1.5 -1.6 -0.1 -1 -0.6 -2 0 -1 -0.6 -2 -0.1 -1 -0.5 -2 -0.1 -0.4 -0.5 9.4 -8 6.6 -6 4.1 -2.5 4.3 -1.9 22 -6.4 16 -4.2 2 0.2 2 -0.1 13 -5.4 12 -5.9 14 -3.9 13 -4.2 10 -1.7 14 -3.5zM298.4 365.5l141.6 0.8 24.3 0.7 -8.3 1.2 -12.4 1.3 -43.6 3.3 -100 2.2 -50 1.5 -25 0.4 -119 0.4 -0.5 -0.8 0.1 -5 0.4 -3 94 -0.4z"/>
<path fill="#895637" d="M484 40.5l47 -0.2 51.6 0.2 -3.6 62 -1.3 16.5 -4.1 37 -3.5 23.5 -1.2 6 -2 6.5 -2.5 5.5 -3.8 6.5 -3.5 4.5 -4.4 4.5 -4.7 4 -6.3 4.5 -6.7 4 -6.2 3 -9.6 3.5 -10.3 3 -11.9 2.7 -21 3.8 -22.8 3.5 -12.2 1.4 -13 1.1 -25 1 -90 2.1 -104 0.7 -102.2 0.2 -0.2 -1 0 -5 0.4 -8.5 59 -0.4 45 -1.1 40 -2.4 38 -3.2 21 -2.1 27.3 -3.8 13.1 -2.5 12.6 -2.9 10.4 -3.1 10.6 -3.7 10 -4.3 10 -5.1 9.3 -5.4 10.7 -7.1 7.5 -5.9 7.6 -7 7.9 -8.5 7.1 -9 3.9 -6 4.8 -9 3.5 -8 5.3 -14.5 2.9 -10.5 2.3 -10 2.4 -13 1.6 -11.5 1.9 -18.5zM654.5 294.5l2.5 -0.2 1.5 0.2 1 0.5 -12.5 7.5 -15.7 11.5 -14.4 13 -4.5 3.5 -3.9 3.5 -2.2 2.5 -0.3 0.6 -0.6 0.4 -0.4 0.9 -3.9 3.6 -3.4 6.5 -0.7 0.5 -2.7 0.5 -0.4 2 0.6 2 0.9 1.5 0.6 0.2 11 0.9 4 0.6 8 0.1 4 0.5 7 0 4 0.5 8 0 4 0.5 7 0.1 2 0.5 4.9 0.1 -14.9 0 -36 -1.3 -79 -0.3 -14 -0.5 -11.7 -0.9 1.1 -2.5 -0.4 -0.5 -2 -0.2 -1 -0.5 -2 -0.1 -1 -0.6 -2 0 -1 -0.6 -1 0 15.7 -14 4 -2.5 4.3 -1.9 22 -6.4 16 -4.3 3.6 0.1 13.1 -5.5 12.2 -6 10.1 -2.8 16 -5.3 10 -1.7 14 -3.5zM299.8 365.5l140.2 0.9 23.9 0.6 -10.8 1.5 -12.1 1.2 -41 3 -100 2.2 -50 1.6 -25 0.3 -119 0.4 -0.4 -0.7 0 -5 0.4 -2.8 94 -0.4z"/>
<path fill="#835234" d="M486.1 40.5l44.9 -0.2 50.8 0.2 -3.6 62 -1.2 16 -4.3 37.5 -3.3 23 -1.3 6.5 -1.9 6 -2.4 5.5 -3.4 6 -3.7 5 -3.8 4 -5.3 4.5 -6.6 4.8 -6.1 3.7 -6.1 3 -9.8 3.7 -10 2.9 -13 3 -22 4 -21 3.3 -13 1.5 -14 1.1 -29 1.1 -87 2 -101 0.7 -102.2 0.2 -0.2 -1 0 -5 0.4 -8.2 62 -0.4 28 -0.5 17 -0.6 40 -2.5 38 -3.1 22 -2.2 17 -2.3 12 -2 15 -3.1 11 -2.8 11 -3.5 11 -4.2 9.9 -4.6 8.1 -4.4 8.6 -5.1 10.4 -7.1 6 -4.9 8.1 -7.5 6.5 -7 7.2 -9 3.6 -5.5 5.4 -10 3.2 -7.5 5.5 -15 3 -10.5 2.3 -10 2.4 -13 1.6 -11.5 1.9 -19zM654.8 294.5l2.2 -0.2 1.3 0.2 1 0.5 -12.6 7.5 -1.7 1.5 -10.8 7.5 -5.1 4 -21.8 19.5 -1.3 1.8 -5.5 5.2 -3.5 7 -3 0.5 -0.3 2 1 2.5 0.6 1 0.7 0.3 11 0.9 4 0.6 8 0 4 0.5 7 0 4 0.5 8 0 3 0.4 8 0.2 1.1 0.1 0.9 0.4 4.1 0.1 -14.1 0 -36 -1.4 -79 -0.2 -12 -0.5 -12.5 -0.9 1.2 -2.5 -0.7 0 -1 -0.6 -2 -0.1 -1 -0.6 -2 -0.1 -1 -0.5 -2 -0.1 -0.2 -0.5 15 -13.5 4 -2.5 4.2 -1.8 22 -6.6 17 -4.5 2.1 0.4 12.9 -5.5 12 -6 12 -3.5 14 -4.7 10 -1.9 14 -3.6 7.6 -1.3zM281 366l19 -0.5 140 0.9 23.5 0.6 -13.5 1.8 -10 0.9 -40 3 -100 2.2 -50 1.5 -25 0.4 -119 0.4 -0.4 -0.7 0 -5 0.4 -2.7 94 -0.4z"/>
<path fill="#7c4e31" d="M488.2 40.5l42.8 -0.2 50 0.2 -3.5 61.5 -1.3 16.5 -4.2 37 -3.6 24.5 -1.2 6 -1.8 5.5 -2.7 6 -3.5 6 -3.4 4.5 -4.4 4.5 -4.8 4 -6.2 4.5 -6.4 3.9 -6.4 3.1 -9.4 3.5 -10.1 3 -12.1 2.8 -22 4.1 -21 3.3 -13 1.6 -14 1.1 -29 1.1 -87 2.1 -92 0.6 -111.1 0.3 -0.3 -1 0 -5 0.4 -7.8 62 -0.4 45 -1.1 24 -1.3 17 -1.2 37 -2.9 22 -2.2 18 -2.4 14 -2.3 14 -2.9 9.9 -2.5 11.1 -3.5 11 -4.1 10 -4.6 8 -4.2 9 -5.3 9 -6 8 -6.3 7.6 -7 6.6 -7 7.6 -9.5 4.7 -7.5 4 -7.5 3.3 -7.5 5.5 -15 2.9 -10.5 2.5 -10.5 2.4 -13 1.7 -11.5 1.9 -19zM655.1 294.5l1.9 -0.2 2.1 0.7 -12.7 7.5 -17.8 13 -18.4 16.5 -10.3 10 -3.4 7 -2.8 0.5 -0.3 2 1.4 3 0.3 0.5 0.9 0.4 11 0.8 4 0.6 8 0 4 0.5 7 0 4 0.5 8 0 4 0.5 7 0.1 1 0.1 1 0.5 2.5 0 -12.5 -0.1 -36 -1.3 -79 -0.3 -12 -0.4 -11.3 -0.9 1.2 -2.5 -1.9 -0.1 -1 -0.6 -2 -0.1 -1 -0.5 -2 -0.1 -1 -0.6 -0.9 0 15.5 -14 3.4 -2.1 4 -1.7 22.5 -6.7 16.5 -4.5 2 0.3 13 -5.6 12.1 -6.2 12.9 -3.7 13 -4.5 10 -1.9 14 -3.6 7.1 -1.3zM282.5 366l17.5 -0.5 140 0.9 23 0.6 -13 1.8 -10 0.9 -40 2.9 -100 2.2 -50 1.6 -25 0.4 -119 0.4 -0.4 -0.7 0 -5 0.4 -2.5 94 -0.5z"/>
<path fill="#764a2f" d="M490.3 40.5l40.7 -0.2 49.1 0.2 -3.4 61.5 -1 13 -3.9 35 -4.1 29.5 -1 5.5 -1.9 6 -2.4 5.5 -3.4 6 -3.7 5 -3.8 4 -5.2 4.5 -6.2 4.5 -6.4 4 -6.1 3 -9.6 3.7 -11 3.2 -12 2.9 -21 3.9 -20.3 3.3 -13.7 1.7 -14 1.1 -29 1.2 -84 2 -79 0.6 -127.1 0.4 -0.3 -1 0 -5 0.4 -7.4 62 -0.4 45 -1.1 41 -2.4 40 -3.1 22 -2.2 17 -2.3 12.9 -2.1 14.6 -3 11.5 -2.9 11.2 -3.6 8.8 -3.3 10 -4.5 10 -5.2 10 -6 9.4 -6.5 7.6 -6.2 7.1 -6.8 6 -6.5 6.3 -8 4.5 -7 4.6 -8.5 3 -7 5.5 -15 3 -10.5 2.5 -10.5 2.5 -13.5 1.7 -11.5 2.1 -19.5zM655.4 294.5l1.6 -0.1 1.8 0.6 -0.4 0.5 -7.5 4 -4.8 3 -18.1 13 -14.7 13 -13.6 13 -1.5 2.5 -2.2 5 -2.6 0.5 -0.2 2 0.8 2 1 1.5 1 0.4 11 0.8 4 0.6 8 0.1 4 0.4 7 0 4 0.5 8 0 4 0.5 7.9 0.2 -0.9 0.5 -8 -0.1 -36 -1.3 -79 -0.3 -10 -0.4 -12.1 -0.9 1.1 -2.5 -3 -0.2 -1 -0.6 -2 -0.1 -1 -0.5 -2 -0.1 0 -0.4 14.7 -13.6 3.3 -2 4 -1.8 22 -6.6 16.7 -4.6 2.3 0.1 12 -5.3 13 -6.6 12 -3.6 13 -4.5 10 -2 14 -3.7 7.5 -1.4zM283.9 366l16.1 -0.4 140 0.8 22.4 0.6 -12.4 1.7 -10 0.9 -40 3 -100 2.2 -50 1.6 -25 0.4 -119 0.4 -0.4 -0.7 0 -4.5 0.4 -2.9 94 -0.4z"/>
<path fill="#70462c" d="M492.4 40.5l86.9 0 -3.5 61.5 -0.9 13 -3.8 34.5 -4.1 30 -1.2 6 -1.8 5.5 -2.4 5.5 -3.2 5.5 -3.6 5 -4.3 4.5 -5.2 4.5 -5.5 4 -6.8 4.3 -7.7 3.7 -9.3 3.4 -9 2.7 -12 2.9 -21.1 4 -21.2 3.5 -12.7 1.6 -14 1.1 -29 1.2 -84.8 2.1 -70.2 0.5 -135.1 0.5 -0.3 -1 0 -5 0.4 -7 64 -0.4 27 -0.5 20 -0.7 25 -1.4 31 -2.2 27 -2.2 19 -2 14 -1.8 13 -2.1 16 -3.2 11 -2.8 11 -3.4 9 -3.3 10 -4.4 10 -5.2 10 -5.8 8 -5.3 9.2 -7.3 6.4 -6 7.4 -7.9 6.1 -7.6 4.5 -7 4.6 -8.5 3 -7 5.6 -15 3.2 -11 2.4 -10.5 2.9 -15 1.5 -10.5 2 -19.5zM655.8 294.5l1.6 0 1.2 0.5 -0.4 0.5 -7.5 4 -4.9 3 -15 10.5 -3.3 2.5 -14.5 12.7 -14.1 13.3 -3.5 7.5 -2.3 0.5 -0.1 1 -0.1 1 0.9 2 1.2 1.7 1 0.3 11 0.7 4 0.6 8 0.1 4 0.4 7 0 4 0.5 8 0.1 4 0.4 7.7 0.2 -0.7 0.4 -8 0 -37 -1.4 -78 -0.3 -9 -0.3 -12 -0.9 1 -2 -1 -0.6 -3 -0.2 -1 -0.5 -2 -0.1 -1 -0.6 -0.6 0 14.5 -13.5 3.1 -2 3.3 -1.5 22.7 -6.9 16.4 -4.6 2.5 0 12.1 -5.5 12.6 -6.5 10.4 -3.1 14 -5 13 -2.8 11 -3.1 7.9 -1.5zM285.2 366l14.8 -0.4 140 0.9 21.7 0.5 -10.4 1.5 -11.3 1.1 -40 2.9 -100 2.2 -50 1.7 -25 0.4 -119 0.4 -0.4 -0.7 0 -4.5 0.4 -2.8 94 -0.4z"/>
<path fill="#69422a" d="M494.4 40.5l84.1 0 -3.4 61 -1 13 -3.6 33 -4.3 31.5 -1.1 6 -2.1 6.5 -2.5 5.5 -3.5 5.9 -3.5 4.6 -4.5 4.5 -6 5 -6.4 4.5 -5.6 3.3 -7 3.2 -10 3.7 -9.9 2.8 -12.1 2.8 -19.3 3.7 -20.7 3.5 -13 1.6 -14 1.1 -28 1.1 -89 2.2 -188.2 1 -12.8 0 -0.3 -0.5 0.3 -12.1 76 -0.6 24 -0.6 24 -1 24 -1.5 46 -3.5 19 -1.9 20 -2.7 13 -2.2 12 -2.5 9 -2.2 9 -2.7 8.8 -3 7.2 -2.9 10 -4.6 8 -4.2 8.3 -4.8 9.7 -6.5 8.2 -6.5 7 -6.5 6.1 -6.5 6.5 -8 4.8 -7.5 4.5 -8.5 2.9 -6.5 5.8 -15.5 3 -10.5 2.6 -11 2.8 -15 1.5 -10.5 2.1 -19.5zM656.5 294.5l1.8 0.5 -0.3 0.5 -7.6 4 -5 3 -11.6 8 -6.8 5 -12.2 10.5 -16.5 15.5 -3.4 7.5 -2.1 0.5 -0.1 0.5 0 1.5 0.9 2 1 1.5 0.9 0.5 11.5 0.7 4 0.6 8 0.1 4 0.4 7 0 4 0.5 8 0.1 3 0.4 8.6 0.2 -0.6 0.3 -8 0.1 -37 -1.4 -78 -0.3 -6 -0.3 -13.8 -0.9 1 -2 -1.2 -0.1 -1 -0.6 -3 -0.1 -1 -0.6 -2 -0.1 14 -13.5 3.1 -2 3.2 -1.5 21.7 -6.6 17 -4.9 2.4 0 11.6 -5.3 13 -6.8 10 -3.1 14.7 -5.3 12.3 -2.7 11 -3.1 11.4 -2.2zM286.4 366l13.6 -0.4 140 0.9 20.9 0.5 -5.8 1 -15.1 1.5 -40 3 -100 2.2 -50 1.6 -25 0.4 -119 0.4 -0.3 -0.6 0 -4.5 0.3 -2.6 94 -0.5z"/>
<path fill="#633e27" d="M496.5 40.5l81.2 0 -3.4 61 -1 13 -3.6 32.5 -3 21 -1.4 12 -1 5 -1.9 6 -2.5 5.5 -3.5 6 -3.4 4.5 -4.4 4.5 -5.9 5 -6.4 4.5 -5.8 3.5 -7.5 3.5 -9.7 3.5 -10.3 2.9 -11 2.6 -19 3.7 -21 3.6 -13 1.7 -14 1.1 -32 1.3 -87 2.1 -196.7 1 -2.3 0 -0.3 -0.5 0.3 -11.7 76 -0.6 24 -0.6 24 -1 24 -1.4 44 -3.3 22 -2.1 19 -2.5 13.8 -2.3 10.2 -2 8 -1.9 10 -2.8 10.2 -3.3 7.7 -3 10.1 -4.6 8.6 -4.4 10.3 -6 7.5 -5 7.6 -6 9.3 -8.5 6.8 -7.5 5 -6.5 4.5 -7 4.3 -8 3 -7 5.6 -15 3.2 -11 2.5 -10.5 3 -15.5 1.5 -10.5 2.2 -20zM652.5 295l3.5 -0.4 1 0 1.1 0.4 -0.3 0.5 -12.7 7 -18.1 12.6 -15.1 12.9 -14.3 13.5 -3.2 7.5 -1.9 0.5 -0.1 1 0 1 1 2 1.6 2 5.1 0.5 6.9 0.2 4 0.6 8 0.1 4 0.4 7 0.1 4 0.4 8 0.1 3 0.4 8.4 0.2 -0.4 0.2 -8 0.1 -37 -1.3 -83 -0.6 -13.6 -0.9 0.7 -1.5 -0.1 -0.5 -2 -0.2 -1 -0.6 -3 -0.1 -1.4 -0.6 13.6 -13 2 -1.5 3.8 -1.8 23 -7.2 16 -4.5 3 -0.4 10.8 -5.1 13.2 -7 11 -3.5 13 -4.8 11 -2.4 12 -3.4 8.8 -1.9zM287.6 366l12.4 -0.3 140 0.8 20 0.5 -4 0.8 -16 1.7 -40 2.9 -100 2.2 -50 1.7 -25 0.4 -119 0.4 -0.3 -0.6 0 -4.5 0.3 -2.5 94 -0.4z"/>
<path fill="#5c3a25" d="M498.6 40.5l78.3 0 -3.4 61 -1 12.5 -3.3 30 -3.2 23.5 -1.4 12 -0.9 5 -1.7 5.5 -2.4 5.5 -3.1 5.5 -3.6 5 -4.2 4.5 -5.1 4.5 -6 4.5 -7.6 4.7 -7 3.3 -10 3.7 -10 2.9 -11 2.6 -19 3.8 -21 3.7 -13 1.7 -14 1.1 -37.8 1.5 -84.2 2 -196 1 -0.3 -0.5 0.3 -11.3 76 -0.6 24 -0.5 24 -1 24 -1.4 44 -3.2 22 -2.1 19.1 -2.4 13.9 -2.3 12 -2.3 10 -2.4 8 -2.3 9 -2.9 7.5 -2.8 10.5 -4.7 8.6 -4.3 10.4 -5.9 7.7 -5.1 8.4 -6.5 7.2 -6.5 6.2 -6.5 6.6 -8 4.6 -7 4.6 -8.5 2.9 -6.5 6.1 -16 3.2 -11 2.6 -11 3 -15.5 1.6 -10.5 2.2 -20zM652.8 295l3.2 -0.4 1.8 0.4 -0.2 0.5 -12.9 7 -18.2 12.5 -15.2 13 -13.8 13 -1.4 2.5 -2.2 5.5 -1.7 0.5 -0.1 0.5 0.1 1.5 1 2 1.8 2.1 12 0.7 4 0.5 8 0.1 4 0.5 7 0 4 0.4 8 0.1 3 0.4 8.3 0.2 -0.3 0.2 -8 0.1 -37 -1.4 -80 -0.4 -10.5 -0.5 -4.9 -0.5 0.7 -1.5 -1.3 -0.6 -2 -0.2 -1 -0.6 -3 -0.1 13.3 -13 2 -1.5 3.7 -1.8 22 -6.9 18 -5.2 1.7 -0.1 10.3 -4.9 13.1 -7.1 12.9 -4.3 11.2 -4.2 10.8 -2.5 12 -3.5 9.3 -2zM288.7 366l11.3 -0.3 140 0.9 19.2 0.4 -3.2 0.8 -16 1.7 -40 2.9 -100 2.2 -50 1.7 -25 0.4 -119 0.4 -0.3 -0.6 0 -4.5 0.3 -2.3 94 -0.5z"/>
<path fill="#563622" d="M500.7 40.5l75.4 0 -3.4 60.5 -1 12.5 -3.2 30 -3.4 24 -1.2 12 -1 5 -1.9 6 -2 4.5 -3.4 6 -3.6 5 -4 4.3 -4.8 4.2 -5.9 4.5 -8 5 -8.3 3.8 -8.7 3.2 -10.3 3 -11 2.7 -18 3.6 -21 3.7 -13 1.8 -14 1.1 -32 1.4 -65 1.7 -27.3 0.5 -193.7 0.9 -0.3 -0.4 0.3 -10.9 76 -0.6 24 -0.5 24 -1 24 -1.3 47 -3.3 19 -1.8 20 -2.5 14 -2.3 12 -2.3 18 -4.5 12 -3.9 7.7 -3.1 7.3 -3.2 9 -4.5 10.3 -5.8 7.7 -5 8.5 -6.5 8.9 -8 6.9 -7.5 4.4 -5.5 4.9 -7.5 4.4 -8 3 -6.6 6.1 -15.9 3.2 -11 2.6 -11 3.2 -16 1.5 -10.5 2.4 -20.5zM653.1 295l2.9 -0.3 1.5 0.3 -0.1 0.5 -13 7 -18.5 12.5 -15.3 13 -13.8 13 -0.9 1.5 -2.5 6.5 -1.4 0.4 -0.2 0.6 0.1 1.5 1.1 2 1.6 2 0.4 0.1 12 0.7 4 0.5 8 0.1 3 0.4 8 0.1 3 0.4 9 0.1 2 0.4 9 0.3 -8 0.2 -37 -1.4 -80 -0.5 -14.2 -0.9 0.8 -1.5 -1.6 -0.1 -1 -0.6 -2 -0.2 -1 -0.5 -1.2 -0.1 13.2 -13 2 -1.3 3 -1.5 23 -7.2 17 -5 1.4 0 10.2 -5 13.4 -7.3 12 -4.1 12 -4.5 10 -2.4 12 -3.5 9.7 -2.2zM289.7 366l10.3 -0.3 140 0.9 18.4 0.4 -0.9 0.5 -1.5 0.2 -16 1.7 -40 2.9 -100 2.2 -50 1.8 -25 0.4 -119 0.4 -0.3 -0.6 0 -4.5 0.3 -2.2 94 -0.5z"/>
<path fill="#503220" d="M502.8 40.5l72.4 0 -3.3 60.5 -0.9 12 -3.4 30.5 -3.2 23.5 -1.2 12 -1.1 5.5 -2.1 6.5 -2.6 5.5 -3.3 5.5 -3.4 4.5 -4.4 4.5 -5.3 4.5 -7.7 5.5 -6 3.5 -8.3 3.7 -9.4 3.3 -10.8 3 -10.8 2.5 -21 4.2 -15.6 2.8 -12.4 1.7 -14 1.2 -32 1.3 -65 1.8 -28 0.5 -190 0.9 -3 0 -0.2 -0.4 0.2 -10.6 76 -0.5 24 -0.5 24 -1 24 -1.3 47 -3.2 20 -1.8 19 -2.3 14 -2.2 12 -2.2 10 -2.3 9 -2.4 12 -3.9 7.3 -2.8 7.7 -3.3 10.5 -5.2 10.5 -5.9 8.4 -5.6 6.6 -5 8.9 -8 7.1 -7.5 5.1 -6.5 4.5 -7 5.1 -9.5 2.4 -5.5 5.9 -15.5 3.2 -11 2.7 -11 3.1 -16 1.6 -10.5 2.4 -20.5zM653.4 295l2.6 -0.2 1.2 0.2 0 0.5 -13.1 7 -15.2 10 -3.5 2.5 -15.5 13 -13.8 13 -3.3 8 -0.8 0.3 -0.6 0.7 0.2 1.5 1.1 2 1.7 2 0.6 0.2 12 0.6 4 0.6 7 0 4 0.4 8 0.1 3 0.4 9 0.1 2 0.4 9 0.2 -8 0.3 -37 -1.4 -78 -0.4 -10.1 -0.5 -5 -0.5 0.5 -1 -0.4 -0.6 -2 -0.1 -1 -0.6 -2.1 -0.2 -0.2 -0.5 12.5 -12.5 2.2 -1.5 2.6 -1.3 22 -7 17.7 -5.2 1.3 0 10 -5 13.5 -7.5 10.5 -3.6 13 -5 10 -2.5 13 -3.8 9.1 -2.1zM290.8 366l9.2 -0.3 140 0.9 17.6 0.4 -0.5 0.5 -1.1 0.2 -16 1.7 -40 2.9 -100 2.2 -50 1.7 -25 0.4 -119 0.5 -0.3 -0.6 0.3 -6.5 94 -0.5z"/>
<path fill="#492e1d" d="M504.8 40.5l69.6 0 -4.1 71.5 -3.5 31 -3.2 23.5 -1.2 12.5 -0.9 5 -1.9 6 -2.8 6 -3.2 5.5 -3.4 4.5 -4.8 5 -4.7 4 -7.7 5.6 -6 3.5 -8.7 3.9 -9.3 3.3 -11 3.1 -10 2.3 -21 4.3 -16.5 3 -11.5 1.6 -14 1.2 -32 1.4 -77 2 -118 0.9 -91 0.3 -0.2 -0.4 0.2 -10.2 80 -0.6 24 -0.5 26 -1.1 68 -4.3 23.5 -2.3 17.5 -2.2 23 -4 9 -2 14 -3.9 8.8 -2.9 9.2 -3.7 8.4 -3.8 9.6 -4.9 10 -5.7 6.5 -4.4 7.7 -6 8.8 -8 6 -6.5 5.5 -7 6.1 -10 3.3 -6.5 6.6 -16.5 1.8 -5 3.6 -13 2.7 -12 2.4 -12 1.9 -13 2.1 -18.5zM653.6 295l2.4 -0.2 1 0.2 -0.1 0.5 -12.3 6.5 -15.6 10.1 -4.1 2.9 -15.6 13 -13.9 13 -3.1 8 -1.2 1 0.3 1.5 1.1 2 1.7 2 0.8 0.3 4 0.3 8 0.2 3 0.5 8 0.1 4 0.5 8 0 3 0.4 9 0.1 2 0.4 8.3 0.2 -7.3 0.2 -37 -1.4 -78 -0.4 -13.9 -0.9 0.6 -1 -0.7 -0.1 -1 -0.6 -2 -0.2 -1 -0.5 -0.9 -0.1 12.2 -12.5 2.1 -1.5 2.6 -1.3 22 -7 17.5 -5.2 1.5 -0.1 9.4 -4.9 13.6 -7.7 23.6 -8.8 8.4 -2.1 14 -4.1 9.5 -2.3zM292 366l8 -0.2 140 0.8 16.8 0.4 -0.1 0.5 -0.7 0.1 -16 1.7 -40 2.9 -100 2.2 -50 1.8 -25 0.4 -119 0.4 -0.2 -0.5 0.2 -6.4 94 -0.5z"/>
<path fill="#432a1b" d="M506.9 40.5l66.7 0 -4.1 71 -3.4 31 -3.3 23.5 -1.1 12.5 -1 5.5 -1.9 6 -2.8 6 -3.3 5.5 -3.4 4.5 -4.3 4.5 -5 4.3 -7.9 5.7 -5.9 3.5 -8.2 3.7 -9 3.2 -10.8 3.1 -11.2 2.7 -23 4.7 -14.4 2.6 -11 1.5 -13.6 1.2 -32 1.4 -77 2.1 -118 0.8 -91 0.3 -0.2 -0.3 0.2 -9.8 80 -0.6 24 -0.5 26 -1 38 -2.2 31 -2.1 23 -2.2 18 -2.3 23 -3.9 12 -2.7 11 -3 7 -2.3 11 -4.2 8.3 -3.7 10.1 -5 8.6 -4.9 8.5 -5.6 8.9 -7 7.2 -6.5 5.6 -6 6 -7.5 5.8 -9.5 3.7 -7 8.3 -21.5 4.1 -14.5 2.5 -11 2.3 -12 2 -13 2.2 -19zM653.9 295l2.1 -0.1 0.6 0.1 0.1 0.5 -12.5 6.5 -15.2 9.8 -4.7 3.2 -15.1 12.5 -14.5 13.5 -2.9 8 -1 1 0.3 1.5 1.2 2 1.7 2 1 0.3 4 0.4 8 0.1 3 0.5 8 0.1 4 0.5 8 0 3 0.5 9 0 2 0.5 7.5 0.1 -6.5 0.2 -37 -1.4 -78 -0.4 -12.7 -0.9 0.6 -1 -1.9 -0.2 -1 -0.6 -2.1 -0.2 0.1 -0.5 11.5 -12 1.5 -1.2 2.4 -1.3 22.6 -7.3 17.2 -5.2 1.8 -0.3 12 -6.4 10.9 -6.3 23.1 -8.8 10.3 -2.7 11.7 -3.6 9.9 -2.4zM293.1 366l6.9 -0.2 140 0.9 16 0.3 0.4 0.5 -16.4 1.8 -40 2.9 -100 2.2 -50 1.8 -25 0.4 -119 0.4 -0.2 -0.5 0.2 -6.3 94 -0.5z"/>
<path fill="#3d2618" d="M509 40.5l63.8 0 -4.1 71 -3.5 31 -3.2 23.4 -1 12.1 -1 5.5 -1.7 5.5 -2.4 5.5 -3 5.5 -3.6 5 -4.7 5 -5.2 4.5 -7.5 5.5 -5.9 3.5 -8.7 4 -8.3 3 -10.2 3 -11.8 2.9 -35.2 7.1 -14.3 2 -12.5 1.1 -32 1.4 -77 2.1 -118 0.9 -91 0.3 -0.2 -0.3 0.2 -9.4 85 -0.6 45.6 -1.5 68.4 -4.1 24 -2.3 17.4 -2.1 12.6 -1.9 13.9 -2.6 10.8 -2.5 9.3 -2.6 7 -2.2 11 -4.1 11 -4.9 7.4 -3.7 9 -5 7.1 -4.5 8.5 -6.4 9 -7.9 6 -6.4 5.8 -7.3 3.9 -6 5.4 -10 2.2 -5 6.5 -17 4.1 -14.5 2.6 -11.5 2.4 -12 2 -13 2.2 -19zM654.2 295l2.1 0 0.2 0.5 -12.6 6.5 -17.9 11.4 -17.5 14.1 -14.4 13.5 -2.8 8 -0.9 1 0.4 1.5 1.3 2 1.7 2 1.2 0.4 4 0.3 8 0.1 3 0.5 8 0.1 4 0.5 8 0 3 0.5 9 0 2 0.5 6.7 0.1 -5.7 0.2 -37 -1.4 -78 -0.5 -11.5 -0.8 0.3 -0.5 -0.8 -0.6 -2 -0.2 -1 -0.7 -0.7 0 11.9 -12.5 3.3 -2 21.5 -7 20 -6 8.4 -4.5 13.7 -8 22.9 -8.9 11 -3.1 11.4 -3.5 12.1 -3zM294.1 366l5.9 -0.2 140 0.9 14.7 0.3 1.3 0.5 -16 1.7 -40 2.9 -100 2.2 -50 1.9 -25 0.4 -119 0.4 -0.2 -0.5 0.2 -6.1 94 -0.5z"/>
<path fill="#362216" d="M511.1 40.5l60.9 0 -4.1 70.5 -3.4 31 -3.3 23.5 -1 12.5 -1.1 6 -1.8 5.5 -2.4 5.5 -3.2 5.5 -3.7 4.9 -4.4 4.6 -4.6 4 -8 5.9 -6 3.6 -8 3.6 -9.2 3.4 -10.8 3.2 -10 2.4 -23 4.9 -13.1 2.5 -10 1.5 -15.9 1.5 -32 1.4 -77 2.2 -123 0.9 -86 0.3 -0.1 -0.3 0.1 -9 86 -0.7 46 -1.4 67 -4 24 -2.1 18 -2.2 23 -3.7 13 -2.8 11 -2.9 8.5 -2.7 9.4 -3.5 11.1 -4.8 8 -4 10 -5.5 6.5 -4.2 8.7 -6.5 8.5 -7.5 6.2 -6.5 5.6 -7 6.2 -10 3.2 -6 2.4 -5.5 6.3 -16.5 3.3 -11.5 3.2 -13.5 2.7 -13.5 2 -13 2.3 -19.5zM654.5 295l1.5 0 0.3 0.5 -12.8 6.5 -17.4 11 -2.3 1.5 -15.9 13 -14.1 13 -0.7 1.5 -2.5 7.5 -0.5 0.5 0.4 1.5 1.4 2 1.7 2 1.4 0.5 4 0.3 8 0.1 3 0.5 8 0 3 0.4 9 0.1 3 0.5 9 0.1 1 0.3 7 0.2 -5 0.2 -37 -1.4 -78 -0.6 -10.3 -0.7 0.3 -0.5 -1 -0.1 -1 -0.7 -2 -0.2 0 -0.4 11.4 -12.1 3.2 -2 21.4 -7.1 20 -6.1 11 -6.1 11 -6.6 22 -8.7 23 -6.9 11.8 -3zM295 366l5 -0.2 140 0.9 13.5 0.3 0.9 0.5 -14.4 1.7 -40 2.9 -100 2.2 -50 1.8 -25 0.4 -119 0.5 -0.2 -0.5 0.2 -6 94 -0.5z"/>
<path fill="#301e13" d="M513.2 40.5l57.9 0 -4 70 -4 35.5 -2.5 17.5 -1.3 15.5 -0.9 4.5 -1.4 4.8 -3 6.7 -3 5.2 -3 4.2 -4.8 5.1 -5.1 4.5 -7.1 5.3 -7 4.2 -7.8 3.5 -8.2 3 -9.9 3 -11.9 3 -33.3 7 -13.2 2 -16.3 1.5 -36.4 1.6 -71 1.9 -130 1 -79 0.2 -0.1 -0.2 0.1 -8.6 86 -0.7 46 -1.4 67.4 -3.8 23.6 -2.1 19 -2.2 12 -1.7 14 -2.5 11.4 -2.5 9.4 -2.5 11.2 -3.5 11 -4.3 9.4 -4.2 8.6 -4.3 9 -5 7 -4.7 7.9 -6 8.1 -7.1 5.1 -5.4 6.4 -8 5.9 -9.5 3.7 -7 8.4 -21.5 4.1 -14.5 3.3 -14.5 2.5 -13 1.8 -12.5 2 -17zM654.8 295l1.3 0.5 -13.8 7 -18.3 11.5 -16.8 13.5 -14.1 13 -3 9 -0.4 0.5 0.5 1.5 1.5 2 1.7 2 1.3 0.5 4.3 0.4 8 0 3 0.5 9 0.1 2 0.4 9 0 3 0.5 9 0.1 1 0.4 6.2 0.1 -4.2 0.1 -43 -1.5 -72 -0.4 -9.1 -0.7 0.1 -0.5 -2 -0.3 -1.5 -0.7 11.1 -12 1.2 -1 1.8 -1 21.4 -7.1 20 -6.2 21.5 -12.7 22.2 -9 22.3 -6.8 12.1 -3.2zM295.9 366l144.1 0.8 12.2 0.2 0.6 0.5 -1.6 0.5 -11.2 1.1 -40 2.9 -100 2.2 -50 1.9 -25 0.4 -119 0.4 -0.2 -0.4 0.2 -5.8 94 -0.6z"/>
<path fill="#291a10" d="M515.2 40.5l54.6 0 -4 69.5 -3.3 30 -3.3 23.5 -0.8 13 -1.1 6.5 -1.7 5.5 -2.6 5.8 -3.3 5.7 -3.7 5 -6 6 -6.1 5 -6.4 4.5 -4.3 2.5 -7.6 3.5 -8.6 3.2 -10.8 3.3 -9.9 2.5 -34.8 7.5 -13.2 2 -15.3 1.4 -36 1.6 -71 2 -139 1 -70 0.2 -0.1 -0.2 0.1 -8.2 87 -0.7 45 -1.3 68 -3.8 24 -2 19 -2.2 12 -1.7 16 -2.8 10.3 -2.3 11.7 -3.1 8 -2.6 11 -4.2 9.4 -4.1 8.6 -4.2 9.5 -5.3 7.6 -5 8.9 -6.8 6.4 -5.7 5.6 -5.8 5.8 -7.2 6.3 -10 3.7 -7 8.5 -21.5 4.2 -15 3.3 -14.5 2.5 -13 1.9 -12.5 2 -17zM651.3 295.5l3.7 -0.4 0.9 0.4 -14 7 -18.5 11.5 -16.9 13.5 -14.1 13 -3.1 9.5 0.6 1.5 1.5 2 2.6 2.5 5 0.4 8 0 3 0.5 9 0.1 2 0.4 9 0 3 0.5 9.2 0.1 -0.2 0.4 -40 -1.3 -72 -0.5 -7.9 -0.6 -1.1 -0.8 -2 -0.2 11.3 -12.5 2.4 -1.5 41.3 -13.5 21 -12.7 22 -9.1 21.4 -6.7zM296.8 366l143.2 0.8 11 0.2 0.2 0.5 -0.6 0.5 -10.6 1.1 -40 2.9 -100 2.2 -50 1.9 -25.6 0.4 -41.4 0.2 -77 0.1 -0.1 -0.3 0.1 -5.7 94 -0.5z"/>
<path fill="#23160e" d="M517.3 40.5l50.6 0 -3.7 66.5 -3.8 33.5 -3 22 -0.7 13.5 -1.1 6.5 -1.9 6 -3 6.5 -3.3 5.5 -3.5 4.5 -6.1 6 -5.4 4.5 -6.4 4.5 -5.3 3 -8.7 3.9 -10.2 3.6 -10.8 3.1 -16 3.9 -19 4.3 -12 2.2 -12.4 1.5 -12.6 1 -32 1.4 -76 2.1 -144 1 -60.1 0 0.1 -7.9 87 -0.6 45 -1.2 68 -3.7 24 -2 19 -2.1 17 -2.4 12 -2.1 12 -2.7 10 -2.7 8 -2.5 11.1 -4.1 9.3 -4 9.3 -4.5 9.1 -5 6.3 -4 8.8 -6.5 8.1 -7 5.4 -5.5 6.1 -7.5 6.3 -10 3.7 -7 8.6 -21.5 4.2 -15 3.4 -14.5 2.6 -13.5 1.9 -12.5 2.1 -17.5zM651.6 295.5l3.4 -0.3 0.7 0.3 -14.2 7 -18.7 11.5 -16.8 13.4 -14.3 13.1 -2.8 9.5 0.7 1.5 1.6 2 1.9 2 0.9 0.6 5 0.4 8 -0.1 2 0.5 9 0 3 0.5 9 0.1 2 0.4 10.1 0.1 -0.1 0.2 -10 -0.1 -30 -1.1 -72 -0.4 -6.7 -0.6 -1.3 -0.3 -1.2 -0.7 10.6 -12 2.3 -1.5 41.1 -13.5 21 -13 21.4 -9 21.7 -7zM297.5 366l142.5 0.8 9.6 0.2 0 1 -9.6 1 -40 2.9 -100 2.2 -50 2 -67 0.5 -77 0.2 -0.1 -0.3 0.1 -5.6 94 -0.5z"/>
<path fill="#1d120b" d="M519.4 40.5l46.6 0 -3.6 66 -3.8 33 -3 22 -0.6 14 -1 6.5 -2.1 6.5 -3.1 6.5 -3 5 -3.6 4.5 -4.9 5 -6.3 5.4 -6 4.3 -5.8 3.3 -8.2 3.8 -7 2.6 -10 3.2 -14 3.6 -21 5 -11.1 2.3 -12.9 1.9 -11.7 1.1 -36.3 1.7 -39 1.3 -45 1 -150.1 1 -46 0 0.1 -7.5 87 -0.6 45 -1.2 68 -3.5 25 -2 19 -2.1 16 -2.2 12 -2.1 13 -2.8 9.7 -2.5 8.3 -2.6 11 -4 10 -4.2 8.9 -4.2 9.1 -4.9 7.2 -4.6 9.8 -7.3 6.6 -5.7 5.4 -5.5 6.2 -7.5 6.3 -10 3.7 -7 7 -17 1.8 -4.9 4.3 -15.1 3.3 -14.5 2.6 -13.5 2 -13 2.1 -17zM651.9 295.5l2.1 -0.2 1.4 0.2 -14.3 7 -18.9 11.5 -16.4 13 -14.7 13.5 -2.6 9.5 1.2 2 3.8 4 5.2 0.5 -0.7 0.4 -68 -0.4 -5 -0.3 -2.9 -0.7 10.5 -12 2.2 -1.5 40.7 -13.5 21.5 -13.5 21 -9 21 -6.8zM599.1 356.5l7.9 -0.1 2 0.5 9 0.1 3 0.4 9 0.1 1 0.4 10.9 0.1 -0.9 0.2 -9 -0.1 -20 -0.9 -12 -0.2zM298.3 366l141.7 0.9 8 0.1 0 1 -8.1 1 -39.9 2.8 -100 2.3 -50 2 -67 0.5 -77 0.2 -0.1 -0.3 0.1 -5.4 94 -0.6z"/>
<path fill="#160e09" d="M521.5 40.5l42.6 0 -3.6 65.5 -3.8 33 -2.9 21.5 -0.5 15.5 -1.3 6.5 -2 6 -2.9 6 -3 5 -3.5 4.5 -4.6 4.7 -6.1 5.3 -6.1 4.5 -6.8 3.9 -10 4.4 -12 4.2 -11 3.1 -22 5.5 -12 2.7 -9.9 1.7 -10.1 1.2 -11 0.9 -43.9 1.9 -72.1 1.9 -68.3 0.6 -127.7 0.5 0 -7.1 87 -0.5 46 -1.3 68 -3.4 24 -1.9 19 -2 17 -2.3 12 -2 11 -2.3 11 -2.7 9 -2.7 11 -4 10 -4.1 9 -4.2 11.1 -6 6.9 -4.5 8.8 -6.5 6.4 -5.5 5.8 -5.9 5.8 -7.1 6.4 -10 3.8 -7 7 -17 1.8 -5 4.3 -15 3.4 -15 2.7 -13.5 2 -13 2.1 -17.5zM652.2 295.5l1.8 -0.2 1.2 0.2 -14.5 7 -19.1 11.5 -16.5 13 -14.3 13 -0.4 0.5 -2.4 9.5 2.7 3.5 2.6 2.5 4.6 0.5 -3.9 0.3 -63 -0.3 -6 -0.4 -1 -0.6 10.3 -12 1.5 -1 40.5 -13.5 20.9 -13.5 20.8 -9.1 21 -7.1zM599.3 356.5l7.7 -0.1 2 0.5 9 0.1 3 0.4 9.3 0.1 -0.3 0.4 -12 -0.4 -18 -0.6zM299 366l141 0.9 6.4 0.1 0 1 -1.9 0.5 -5.3 0.5 -38.2 2.7 -97 2.2 -54 2.1 -67 0.6 -77 0.1 -0.1 -0.2 0.1 -5.3 94 -0.5z"/>
<path fill="#100a06" d="M523.6 40.5l38.6 0 -3.5 65 -3.8 32.5 -2.9 21.5 -0.4 16 -1.1 6 -1.8 5.5 -3 6.5 -3.6 6 -3.1 3.9 -4.9 5.1 -5.8 5 -6.8 5 -6.1 3.5 -9.4 4.2 -12.2 4.3 -10.8 3.1 -22 5.7 -11.4 2.7 -10.6 1.9 -11 1.3 -9 0.7 -33.1 1.6 -71.9 2.1 -92 0.9 -115 0.5 0 -6.7 87 -0.5 46 -1.2 68 -3.3 25 -1.9 21 -2.2 16 -2.2 11 -1.8 10.8 -2.2 12.2 -3 11 -3.4 8.6 -3.1 11.4 -4.7 10 -4.7 8.4 -4.6 9.6 -6.3 8.2 -6.2 5.6 -5 6.7 -7 4 -5 6.4 -10 3.8 -7 8.9 -22 4.4 -15.5 3.5 -15 2.7 -13.5 1.9 -13 2.3 -18zM652.5 295.5l2.5 0 -14.7 7 -19.2 11.5 -16.7 13 -14.3 13 -0.3 0.5 -2.3 9.5 3 3.5 2.6 2.5 3.8 0.5 -2.9 0.3 -54.3 -0.3 -14.3 -0.5 10.1 -12 1.4 -1 40.1 -13.5 21.5 -14 20.5 -9.1 20 -6.9zM599.4 356.5l7.6 0 1 0.4 10 0.1 2 0.4 10.1 0.1 -0.1 0.2 -12 -0.2 -4 -0.3 -10.5 -0.2 -3.5 -0.2zM299.6 366l140.4 0.9 4.8 0.1 0 1 -0.8 0.5 -5.5 0.5 -37.5 2.7 -99 2.1 -49 1.9 -3 0.3 -67 0.6 -77.1 -0.1 0.1 -5.1 94 -0.6z"/>
<path fill="#0a0604" d="M525.6 40.5l34.7 0 -3.3 62.5 -4 34.5 -2.9 21.5 -0.3 17 -1 5 -1.5 5 -2.4 5.5 -3.1 5.5 -2.9 4 -3.4 4 -4.5 4.3 -7 5.9 -5 3.5 -6 3.3 -10.2 4.5 -11.5 4 -30.3 8.4 -10.8 2.6 -8.2 1.6 -9.7 1.4 -10.4 1 -29.9 1.6 -75 2.4 -49 0.6 -161 0.9 0 -6.3 87 -0.5 46 -1.2 71 -3.3 22 -1.7 22 -2.2 18 -2.5 12 -2 13 -2.8 9.9 -2.5 11.1 -3.6 10 -3.7 11 -4.7 7.3 -3.5 9.7 -5.4 7.8 -5.1 8.2 -6.2 7 -6.3 6 -6.5 3.5 -4.5 6.1 -9.5 4 -7.5 8.7 -21.5 4.5 -15.5 3.6 -15.5 2.7 -13.5 2 -13 2.3 -18zM652.8 295.5l1.9 0 -14.8 7 -18.9 11.1 -17.2 13.4 -14.4 13 -2.3 10 5.7 6 3.2 0.5 -48 0 -20.8 -0.5 9.8 -11.8 0.9 -0.7 40.1 -13.6 21 -14.1 20.5 -9.3 20.1 -7zM599.6 356.5l7.4 0 1 0.4 10.2 0.1 -0.2 0.5 -2 -0.4 -11.8 -0.1zM288.5 366.5l11.5 -0.4 140 0.8 3.2 0.1 0 1 -0.1 0.5 -5.2 0.5 -36.9 2.6 -101 2.2 -28 1.3 -8 0.1 -3 0.3 -9 0.2 -3.2 0.3 -65.8 0.5 -77 0 0 -5 94 -0.6z"/>
<path fill="#000000" d="M527.7 40.5l30.7 0 -3.4 64 -3.8 32 -2.9 21.5 -0.2 4 0.3 9 -0.2 4.5 -1 5 -1.4 4.5 -1.6 4 -3.4 6.5 -2.7 4 -3.8 4.5 -4.5 4.5 -7 6 -4.9 3.5 -6.3 3.5 -9.6 4.3 -11 4 -9 2.7 -25.2 7 -8.1 2 -8.7 1.7 -10 1.3 -11 1 -16.3 1 -35.7 1.2 -2 0.2 -2 -0.1 -2 0.3 -13 0.2 -1 0.2 -12 0.3 -1 0.2 -2 -0.2 -1 0.3 -1 -0.3 -2 0.3 -13 0.1 -6 0.3 -1 -0.2 -2 0.3 -1 -0.2 -2 0.2 -34 0.2 -1 0.2 -1 -0.2 -1 0.2 -12 -0.1 -58 0.6 -89 0.3 0 -5.7 88 -0.5 44 -1.1 66 -2.8 27 -2 23 -2.2 27 -3.8 13 -2.5 13.1 -3.2 8.9 -2.7 9 -3.1 11 -4.4 12 -5.6 9.5 -5.2 7.7 -5 8 -6 5.8 -5 6.3 -6.5 4.5 -5.5 6.8 -10.5 4.2 -8 8.5 -21 4.4 -15.5 3.6 -15 2.8 -14 2.1 -13.5 2.2 -18zM651.6 296l1.4 -0.3 0.3 0.3 -13.8 6.5 -19.6 11.5 -16.8 13 -14.4 13 -2.2 10 4.9 5 0.8 0.5 0.2 0.5 0.6 0.3 2.2 0.2 -39 0 -27.2 -0.5 10 -12 40 -13.7 20.8 -14.3 20.2 -9.3 20.1 -7.2zM599.8 356.5l7.2 0 1 0.5 10 0 -13 0 -1 -0.3zM289.3 366.5l10.7 -0.2 69 0.2 17 0.4 54 0.1 1.6 0 0 1.5 -4.6 0.5 -6 0.2 -1 0.3 -5 0.1 -2 0.4 -5 0.1 -2 0.4 -5 0.1 -2 0.4 -5 0.1 -3 0.5 -35 0.6 -7 0.4 -15 0.1 -7 0.3 -16 0.2 -7 0.3 -14 0.1 -4 0.4 -9 0.2 -3 0.3 -9 0.1 -3 0.4 -9 0.1 -2.2 0.4 -9.8 0.1 -3.7 0.4 -46.3 0.2 -18 0.3 -77 0 0 -4.7 94 -0.6 51 -2.7 7 -0.2 3 -0.4 7 -0.1 2 -0.3 7 -0.1 3 -0.4 7 -0.1z"/>
</g></g>
<g clip-path="url(#cda)" class="dash" filter="url(#db)">
<path d="M106 226 L157.9 225.6 L193.8 224.6 L217.7 223.1 L233.6 221.7 L245.5 220.3 L289 214.5 L302.7 212.2 L316.4 209.4 L328 206.5 L337.6 203.4 L346.8 199.7 L355.7 195.2 L364.2 190 L372.2 184 L381.2 176.1 L389.6 167.5 L394.8 161.4 L400.5 153.3 L411.1 136.3 L415.9 127.6 L419.8 118.5 L423.2 109 L425.9 99.4 L428.6 87.7 L429.7 79.9 L430.8 67.9 L431.4 52 L431.6 40"/>
<path d="M106 253.7 L229.9 253.4 L305.8 252.9 L407.7 250.8 L431.7 250.1 L449.7 248.9 L473.5 246.8 L489.5 245.1 L503.3 243.2 L515.1 241.2 L525 239.1 L536.5 235.8 L543.9 233 L551.2 229.5 L559.7 224.3 L566.2 219.4 L570.5 215.3 L575.3 209 L579.4 202 L582.6 194.8 L585.1 187.1 L587 179.3 L588.7 169.5 L590.7 153.6 L592.3 137.7 L595.2 99.8 L598.8 40"/>
<path d="M106 363 L323.5 361.4 L421.4 361.4 L467.2 361.6 L481.1 363.4 L495 364 L505 364.2"/>
<path d="M106 376.8 L297.8 376.8 L329.8 376.4 L369.7 375.5 L409.6 373.9 L445.5 371.2 L489.2 367 L497.1 365.9 L505 364.4"/>
<path d="M446 351.5 L461 346.2 L481.9 339.5 L538.6 320.5 L576.1 306.7 L591.3 302.1 L606.9 298.6 L622.6 295.8 L640.4 293.6 L664.3 292.2 L670.2 291.2 L678 289.5"/>
<path d="M446 356 L461.9 358.1 L471.8 358.8 L527.7 358.8 L607.5 359.6 L611.4 360.4 L617.2 362.3 L621.1 362.9 L635.1 363.7 L667 364.8"/>
<path d="M678 289.5 L667.2 294.5 L656.8 300.1 L646.6 306.3 L638.5 311.9 L630.9 318.2 L620.6 327.5 L610.9 335.5 L608.4 338.4 L607.4 339.9 L606.2 343.4 L605.5 347.4 L605.7 349.3 L606.7 351.2 L608.1 352.9 L609.6 354 L611 354.7 L616.2 356.2 L632.8 358.7 L660 364"/>
</g>
<g clip-path="url(#cpb)"><g filter="url(#bl)">
<rect x="759" y="37.2" width="593.8" height="434" fill="#fec77f"/>
<path fill="#ffc57e" d="M761 222.6l0 -0.3 2 0.4 6 0 2 0.4 6 0 2 0.4 4 0 2 0.4 6 0 2 0.4 6 0 2 0.4 6 0 2 0.4 14 0.4 2 0.4 4 0 2 0.4 6 0 2 0.4 6 0 2 0.4 6 0 2 0.4 14 0.4 2 0.4 4 0 2 0.4 6 0 2 0.4 6 0 2 0.4 14 0.4 2 0.4 4 0 2 0.4 6 0 2 0.4 4 0 2 0.4 6 0 2 0.4 4 0 2 0.4 6 0 2 0.4 4 0 2 0.4 6 0 2 0.4 4 0 2 0.4 6 0 2 0.4 4 0 2 0.4 6 0 2 0.4 4 0 2 0.4 6 0 2 0.4 4 0 2 0.4 4 0 2 0.4 6 0 2 0.4 4 0 2 0.4 6 0 2 0.4 4 0 2 0.4 6 0 2 0.4 6 0 2 0.4 6 0 2 0.4 6 0 2 0.4 6 0 2 0.3 6 0.1 2 0.3 6 0.1 2 0.3 6 0.1 2 0.3 6 0.1 2 0.3 6 0.1 2 0.3 6 0.1 2 0.3 6 0.1 2 0.3 6 0.1 2 0.3 10 0.1 2 0.3 10 0.1 2 0.3 10 0.1 2 0.3 10 0.1 2 0.3 10 0.1 2 0.3 10 0.1 2 0.3 9.6 0.4 -3.6 0.3 -14.8 0.1 -3.2 0.3 -15.2 0.1 -2.8 0.3 -15.8 0.1 -4.2 0.3 -14.5 0.1 -3.5 0.3 -63.7 0.5 -6.3 0.3 -87.7 0.5 -10.3 0.3 -49.7 0.1 -10.3 0.3 -49.7 0.1 -10.3 0.3 -49.7 0.1 -10.3 0.3 -46 0.1zM761 367.4l0 -0.3 10 0 2 0.3 46 0.1 2 0.3 46 0.1 2 0.3 46 0.1 2 0.3 46 0.1 2 0.3 38 0.1 2 0.3 28 0.5 2 0.3 14 0.1 2 0.3 14 0.1 2 0.3 28 0.5 2 0.3 14 0.1 2 0.4 4.6 0.3 -34.6 1.1 -12.2 0.1 -3.8 0.3 -12 0.1 -4 0.3 -43.8 0.9 -4.2 0.3 -151.4 0.5 -18.6 0.3 -72 0.1z"/>
<path fill="#ffc17b" d="M761 222.6l0 -0.3 2 0.4 6 0 2 0.4 6 0 2 0.4 4 0 2 0.4 6 0 2 0.4 6 0 2 0.4 6 0 2 0.4 14 0.4 2 0.4 4 0 2 0.4 6 0 2 0.4 6 0 2 0.4 6 0 2 0.4 14 0.4 2 0.4 4 0 2 0.4 6 0 2 0.4 6 0 2 0.4 14 0.4 2 0.4 4 0 2 0.4 6 0 2 0.4 4 0 2 0.4 6 0 2 0.4 4 0 2 0.4 6 0 2 0.4 4 0 2 0.4 6 0 2 0.4 4 0 2 0.4 6 0 2 0.4 4 0 2 0.4 6 0 2 0.4 4 0 2 0.4 6 0 8 0.8 4 0 2 0.4 6 0 8 0.8 6 0 2 0.4 12 0.4 2 0.4 6 0 2 0.4 6 0 2 0.4 6 0 2 0.4 6 0 2 0.4 6 0 2 0.4 6 0 2 0.4 6 0 2 0.4 6 0 2 0.4 6 0 2 0.4 6 0 2 0.4 6 0 2 0.3 6 0.1 2 0.3 10 0.1 2 0.3 10 0.1 2 0.3 10 0.1 2 0.3 10 0.1 2 0.3 10 0.1 2 0.3 10 0.1 2 0.4 9.2 0.3 -23.2 0.7 -13.6 0.1 -4.4 0.3 -14.2 0.1 -3.8 0.3 -14.8 0.1 -3.2 0.3 -64.3 0.5 -7.7 0.3 -86.6 0.5 -11.4 0.3 -48.6 0.1 -11.4 0.3 -48.6 0.1 -11.4 0.3 -48.6 0.1 -11.4 0.3 -44 0.1zM761 367.4l0 -0.3 10 0 2 0.4 46 0 2 0.3 46 0.1 2 0.3 46 0.1 2 0.3 46 0.1 2 0.3 38 0.1 2 0.4 28 0.4 2 0.3 14 0.1 2 0.3 14 0.1 2 0.3 28 0.5 2 0.3 14 0.1 2 0.5 3.8 0.2 -115.8 3.1 -240 0.9z"/>
<path fill="#ffbd79" d="M761 222.6l8 0.2 2 0.4 6 0 8 0.8 6 0 2 0.4 6 0 2 0.4 6 0 2 0.4 6 0 2 0.4 6 0 8 0.8 6 0 2 0.4 6 0 2 0.4 6 0 2 0.4 14 0.4 8 0.8 6 0 2 0.4 6 0 2 0.4 14 0.4 8 0.8 6 0 8 0.8 6 0 8 0.8 6 0 8 0.8 6 0 8 0.8 6 0 8 0.8 6 0 8 0.8 6 0 8 0.8 4 0 2 0.3 6 0.1 8 0.7 6 0.1 2 0.3 12 0.5 2 0.3 6 0.1 2 0.3 6 0.1 2 0.3 6 0.1 2 0.3 6 0.1 2 0.3 6 0.1 2 0.3 6 0.1 2 0.3 6 0.1 2 0.3 6 0.1 2 0.3 6 0.1 2 0.3 6 0.1 2 0.3 6 0.1 10 0.7 10 0.1 2 0.3 10 0.1 2 0.3 10 0.1 2 0.3 32 0.8 11.4 0.7 -77.4 1.9 -74 0.8 -318 2.1zM761 367.4l0 -0.2 10 0 2 0.3 46 0.1 2 0.3 46 0.1 2 0.3 46 0.1 2 0.3 84 0.5 4 0.3 28 0.5 2 0.3 74 1.7 5 0.6 -113 3.1 -240 0.9z"/>
<path fill="#ffb976" d="M761 222.6l2 0.3 6 0 2 0.4 6 0 8 0.8 6 0 2 0.4 6 0 2 0.4 22 0.8 8 0.8 6 0 2 0.4 6 0 2 0.4 22 0.8 8 0.8 6 0 2 0.4 22 0.8 8 0.8 6 0 8 0.8 6 0 8 0.7 6 0.1 8 0.7 6 0.1 8 0.7 6 0.1 8 0.7 6 0.1 8 0.7 6 0.1 14 1.1 6 0.1 8 0.7 6 0.1 16 1.1 96 4.7 68 2 9.7 0.7 -77.7 1.8 -74 0.8 -316 2.1zM761 367.4l238 1.9 108 2.7 3.9 0.2 0.6 0.4 -112.5 3 -238 0.9z"/>
<path fill="#ffb573" d="M761 223l0 -0.2 138 7.1 156 9 96 4.7 68 2 8 0.6 -76 1.8 -78 0.8 -312 2.1zM761 367.4l238 2 111 2.8 -0.8 0.4 -2.2 0.1 -108 2.9 -238 0.9z"/>
<path fill="#ffb171" d="M761 223.4l0 -0.2 138 7 156 8.8 96 4.6 68 2 6.4 0.6 -76.4 1.8 -78 0.8 -310 2.1zM761 367.8l0 -0.4 238 2.1 110 2.7 -2 0.4 -16 0.5 -92 2.4 -238 1z"/>
<path fill="#ffad6e" d="M761 223.8l138 6.7 156 8.6 96 4.6 66 1.9 6.9 0.6 -74.9 1.7 -80 0.9 -308 2.1zM761 367.8l0 -0.3 238 2 108.9 2.7 -2.9 0.4 -14 0.4 -92 2.5 -238 1z"/>
<path fill="#ffa96c" d="M761 224.2l138 6.6 156 8.4 96 4.5 66 1.9 5.4 0.6 -73.4 1.7 -82 0.9 -306 2zM761 367.8l238 1.8 107.8 2.6 -3.7 0.4 -14.1 0.4 -90 2.4 -238 1z"/>
<path fill="#ffa569" d="M761 224.6l138 6.5 156 8.3 96 4.3 66 2 3.9 0.5 -73.9 1.7 -82 0.8 -304 2.1zM761 367.8l238 1.9 106.5 2.5 -4.2 0.4 -16.3 0.5 -86 2.3 -238 1z"/>
<path fill="#ffa167" d="M761 225l140 6.5 154 8 96 4.3 66 1.9 1.6 0.1 0.8 0.4 -68.4 1.6 -86 0.9 -304 2.1zM761 368.2l0 -0.4 238 2 105.2 2.4 -4.7 0.4 -18.5 0.6 -82 2.1 -238 1.1z"/>
<path fill="#fc9d64" d="M761 225.4l140 6.4 154 7.9 94 4.1 68 1.9 1 0.1 0 0.4 -67 1.5 -88 1 -302 2.1zM761 368.2l0 -0.3 238 1.9 103.7 2.4 -4.8 0.4 -20.9 0.7 -78 2 -238 1.1z"/>
<path fill="#f59962" d="M761 225.8l140 6.3 154 7.7 94 4 68.3 2 -0.7 0.4 -77.6 1.7 -82 0.8 -296 2zM761 368.2l0 -0.2 238 1.9 102.2 2.3 -4.9 0.4 -21.3 0.7 -76 2 -238 1z"/>
<path fill="#ef955f" d="M761 226.2l140 6.2 154 7.6 94 3.9 67.6 1.9 -1.3 0.4 -78.3 1.7 -82 0.8 -294 2zM761 368.2l238 1.8 100.5 2.2 -4.8 0.4 -21.7 0.7 -74 2 -238 1z"/>
<path fill="#e9915d" d="M761 227l0 -0.4 138 6 156 7.5 94 3.9 66.8 1.8 -1.9 0.4 -78.9 1.7 -80 0.8 -294 2zM761 368.2l238 1.9 98.8 2.1 -4.6 0.4 -22.2 0.7 -72 1.9 -238 1.1z"/>
<path fill="#e28d5a" d="M761 227.4l0 -0.4 138 5.9 156 7.4 94 3.7 66 1.8 -2.4 0.4 -77.6 1.6 -80 0.9 -294 2zM761 368.6l0 -0.3 238 1.9 97 2 -4.2 0.4 -20.8 0.7 -72 1.9 -238 1.1z"/>
<path fill="#dc8958" d="M761 227.8l0 -0.3 138 5.7 156 7.2 94 3.7 65.1 1.7 -2.7 0.4 -62.4 1.5 -94 0.9 -294 2zM761 368.6l0 -0.3 238 1.9 95.1 2 -3.7 0.4 -21.4 0.7 -70 1.9 -238 1z"/>
<path fill="#d68555" d="M761 228.2l0 -0.3 138 5.6 156 7.1 94 3.6 64.1 1.6 -3 0.4 -61.1 1.4 -94 1 -294 2zM761 368.6l238 1.7 93.1 1.9 -3.1 0.4 -20 0.7 -70 1.8 -238 1.1z"/>
<path fill="#cf8152" d="M761 228.6l0 -0.3 138 5.5 156 6.9 94 3.5 63.1 1.6 -3.2 0.4 -59.9 1.4 -94 1 -294 2zM761 368.6l238 1.8 91.1 1.8 -2.4 0.4 -18.7 0.6 -70 1.9 -238 1.1z"/>
<path fill="#c97d50" d="M761 229l0 -0.2 138 5.3 156 6.7 94 3.5 62 1.5 -3.4 0.4 -58.6 1.4 -94 1 -294 2zM761 369l0 -0.4 190 1.4 50 0.5 87 1.7 -1.6 0.4 -17.4 0.6 -70 1.9 -238 1.1z"/>
<path fill="#c27a4d" d="M761 229.4l0 -0.2 138 5.2 156 6.6 94 3.4 60.8 1.4 -3.4 0.4 -57.4 1.4 -94 0.9 -294 2zM761 369l0 -0.3 190 1.4 50 0.5 84.9 1.6 -0.8 0.4 -16.1 0.6 -70 1.9 -238 1z"/>
<path fill="#bc764b" d="M761 229.8l0 -0.2 138 5.1 156 6.4 94 3.3 59.6 1.4 -3.3 0.4 -56.3 1.3 -94 1 -294 2zM761 369l0 -0.2 238 1.8 84.7 1.6 0.2 0.4 -84.9 2.4 -238 1.1z"/>
<path fill="#b67248" d="M761 230.2l138 4.8 156 6.3 94 3.2 58.3 1.3 -3.2 0.4 -53.1 1.3 -96 1 -294 2zM761 369l238 1.7 82.4 1.5 1.3 0.4 -83.7 2.4 -238 1.1z"/>
<path fill="#af6e46" d="M761 230.6l138 4.7 156 6.1 94 3.2 56.8 1.2 -2.8 0.4 -52 1.3 -96 1 -294 2zM761 369l238 1.8 80.2 1.4 2.3 0.4 -82.5 2.4 -238 1.1z"/>
<path fill="#a96a43" d="M761 231l138 4.6 156 6 94 3 55.3 1.2 -2.5 0.4 -50.8 1.2 -96 1 -294 2zM761 369.4l0 -0.3 190 1.3 108 1.4 17.9 0.4 3.5 0.4 -81.4 2.3 -238 1.1z"/>
<path fill="#a36641" d="M761 231.4l140 4.6 154 5.7 94 3 53.8 1.1 -2.1 0.4 -49.7 1.2 -96 1 -294 2zM761 369.4l0 -0.2 190 1.2 108 1.5 15.5 0.3 4.7 0.4 -80.2 2.3 -238 1.1z"/>
<path fill="#9c623e" d="M761 231.8l140 4.5 154 5.6 94 2.9 52.1 1 -1.5 0.4 -48.6 1.2 -96 1 -294 2zM761 369.4l190 1.1 108 1.4 14 0.3 5.1 0.4 -79.1 2.3 -238 1.1z"/>
<path fill="#965e3c" d="M761 232.2l140 4.4 154 5.4 94 2.8 50.3 1 -0.7 0.4 -47.6 1.2 -96 1 -294 2zM761 369.4l190 1.2 108 1.4 18 0.6 -78 2.3 -238 1.1z"/>
<path fill="#8f5a39" d="M761 233l0 -0.4 66 2 74 2.3 154 5.3 94 2.7 48.4 0.9 0.1 0.4 -48.5 1.2 -94 1 -294 1.9zM761 369.8l0 -0.4 190 1.3 108 1.3 16.9 0.6 -76.9 2.2 -238 1.1z"/>
<path fill="#895637" d="M761 233.4l0 -0.4 80 2.4 214 6.9 94 2.7 46.5 0.8 0.9 0.4 -47.4 1.1 -94 1 -294 2zM761 369.8l0 -0.3 190 1.2 108 1.4 15.9 0.5 -75.9 2.2 -238 1.1z"/>
<path fill="#835234" d="M761 233.8l0 -0.3 92 2.6 202 6.4 94 2.5 44.4 0.8 2 0.4 -46.4 1.1 -94 1 -294 2zM761 369.8l0 -0.2 190 1.2 108 1.3 14.8 0.5 -74.8 2.2 -238 1.1z"/>
<path fill="#7c4e31" d="M761 234.2l0 -0.3 100 2.7 194 6 94 2.5 42.3 0.7 3.1 0.4 -45.4 1.1 -94 1 -294 2zM761 369.8l190 1.1 108 1.3 13.7 0.4 -73.7 2.1 -238 1.2z"/>
<path fill="#764a2f" d="M761 234.6l0 -0.3 110 2.9 184 5.6 94 2.4 40 0.6 4.4 0.4 -44.4 1.1 -94 1 -294 1.9zM761 369.8l190 1.2 120.2 1.6 -72.2 2.1 -238 1.2z"/>
<path fill="#70462c" d="M761 235l0 -0.2 116 2.9 178 5.2 94 2.3 37.7 0.6 5.6 0.4 -43.3 1 -94 1 -294 2zM761 370.2l0 -0.3 188 1.1 119.5 1.6 -69.5 2.1 -238 1.1z"/>
<path fill="#69422a" d="M761 235.4l0 -0.2 138 3.4 156 4.5 94 2.2 35.4 0.5 7 0.4 -42.4 1 -94 1 -294 2zM761 370.2l0 -0.2 188 1.1 116.7 1.5 -6.8 0.4 -59.9 1.7 -238 1.1z"/>
<path fill="#633e27" d="M761 235.8l0 -0.2 138 3.3 156 4.3 94 2.2 34 0.4 7.4 0.4 -41.4 1 -94 1 -294 2zM761 370.2l188 1 113.8 1.4 -5.1 0.4 -58.7 1.6 -238 1.2z"/>
<path fill="#5c3a25" d="M761 236.2l138 3 156 4.2 94 2 34 0.5 6.4 0.3 -40.4 1 -94 1 -294 2zM761 370.2l188 1 110.5 1.4 -3.3 0.4 -57.2 1.6 -238 1.2z"/>
<path fill="#563622" d="M761 236.6l138 2.9 156 4 133.4 2.7 -39.4 0.9 -94 1 -294 2zM761 370.6l0 -0.4 190 1.1 100.2 1.3 0 0.4 -56 1.6 -234.2 1.1z"/>
<path fill="#503220" d="M761 237l138 2.8 156 3.9 132.5 2.5 -38.5 0.9 -94 1 -294 2zM761 370.6l0 -0.3 190 1.1 68.5 0.8 22.9 0.4 0 0.4 -2.6 0.4 -48.6 1.2 -230.2 1.1z"/>
<path fill="#492e1d" d="M761 237.4l138 2.7 156 3.7 131.5 2.4 -37.5 0.9 -94 1 -294 2zM761 370.6l0 -0.2 190 1.1 82.6 1.1 0 0.8 -24.6 0.9 -21.9 0.3 -226.1 1.1z"/>
<path fill="#432a1b" d="M761 237.8l140 2.6 154 3.6 130.6 2.2 -36.6 0.9 -94 1 -294 2zM761 370.6l190 1 73.8 1 0 0.8 -1.4 0.4 -10.4 0.1 -3 0.3 -26.8 0.4 -222.2 1.1z"/>
<path fill="#3d2618" d="M761 238.2l140 2.5 154 3.4 129.7 2.1 -35.7 0.9 -94 0.9 -294 2zM761 370.6l188 1 51 0.6 16 0.4 0 1.2 -5 0.1 -2.1 0.3 -29.7 0.4 -218.2 1z"/>
<path fill="#362216" d="M761 239l0 -0.4 50 0.8 90 1.6 154 3.3 128.8 1.9 -34.8 0.8 -94 1 -294 2zM761 371l0 -0.3 190 1 42.4 0.5 13.8 0.4 0 1.2 -0.2 0.4 -31.6 0.4 -214.4 1z"/>
<path fill="#301e13" d="M761 239.4l0 -0.4 52 0.9 88 1.4 154 3.1 127.8 1.8 -33.8 0.8 -94 1 -294 2zM761 371l0 -0.2 188 1 37.9 0.4 11.5 0.4 0 1.6 -45.4 0.5 -192 0.9z"/>
<path fill="#291a10" d="M761 239.8l0 -0.3 56 0.8 84 1.3 154 3 94 1.4 32.6 0.2 -34.6 0.8 -92 1 -294 2zM761 371l188 0.8 31.4 0.4 9.2 0.4 0 1.6 -36.6 0.5 -192 0.9z"/>
<path fill="#23160e" d="M761 240.2l0 -0.3 62 0.9 232 3.9 94 1.3 30.1 0.2 -34.4 0.8 -89.7 0.9 -294 2zM761 371l213 1.2 6.8 0.4 0 1.6 -27.8 0.5 -192 0.8z"/>
<path fill="#1d120b" d="M761 240.6l0 -0.3 70 0.9 224 3.6 94 1.3 26.6 0.1 -33.2 0.8 -87.4 0.9 -294 2zM761 371.4l0 -0.4 206.6 1.2 4.4 0.4 0 1.6 -19 0.5 -192 0.8z"/>
<path fill="#160e09" d="M761 241l0 -0.3 76 1 218 3.3 94 1.2 23.1 0 -7.1 0.1 -1.2 0.3 -23.7 0.4 -85.1 0.9 -294 2zM761 371.4l0 -0.3 200.2 1.1 2 0.4 0 1.6 -10.2 0.4 -192 0.9z"/>
<path fill="#100a06" d="M761 241.4l0 -0.2 138 1.6 156 2.3 104 1.2 3.7 0.3 -107.7 1.3 -294 2zM761 371.4l193.4 0.8 0 2 -1.4 0.4 -66 0.1 -126 0.8z"/>
<path fill="#0a0604" d="M761 241.8l0 -0.2 138 1.5 156 2.2 104 1.1 2.6 0.2 -106.6 1.2 -294 2zM761 371.4l151 0.8 0 2.4 -151 0.8z"/>
<path fill="#000000" d="M761 242.2l138 1.2 158 2.1 103.3 1.1 -59.3 0.5 -8 0.3 -30 0.1 -8 0.3 -160 0.9 -14 0.3 -46 0.1 -14 0.3 -46 0.1 -14 0.3zM761 371.8l0 -0.4 75 0.4 0 3.2 -55 0.1 -20 0.3z"/>
</g></g>
<g clip-path="url(#cdb)" class="dash" filter="url(#db)">
<path d="M765 220 L940.6 229.6 L1080.3 237.8 L1150.2 241.2 L1252 245.7"/>
<path d="M777 256 L946.7 254.3 L1068.5 252.7 L1104.4 251.8 L1154.3 250 L1250 245.7"/>
<path d="M765 365 L874.5 365.5 L999.8 367 L1059.5 368.7 L1111.2 370.7 L1127.1 371 L1153 371"/>
<path d="M765 381 L896.7 379.5 L1050.4 377.1 L1068.3 376.5 L1086.2 375.4 L1106.1 373.8 L1130 371.5"/>
</g>
<g clip-path="url(#cpc)"><g filter="url(#bl)">
<rect x="105.8" y="489.9" width="595.2" height="436" fill="#fec77f"/>
<path fill="#ffc57e" d="M433.3 492.5l0.7 -0.4 5 0 96 -0.1 65 0 3 0.2 0.7 0.3 -1.2 24 -0.5 3.4 -0.5 10.1 -0.5 3.5 -0.5 8.5 -0.5 2.9 -0.5 6.6 -0.5 2.7 -0.6 6.8 -0.4 1.8 -1.5 16.7 -0.6 3 -0.4 6.5 -0.5 2.5 -0.4 6 -0.8 4 -0.3 4.5 -0.5 2.1 -1.5 11.4 -0.5 1.4 -0.5 4.1 -0.5 1.4 -1.4 8.6 -0.6 1.4 -0.4 3.1 -0.6 1.4 -0.5 3.1 -0.5 0.9 -1.5 6.1 -0.7 1.5 -0.3 1.5 -0.5 1 -0.5 2.5 -0.5 0.8 -0.5 2.7 -0.5 0.6 -0.5 2.4 -0.5 0.8 -0.4 1.7 -1.1 3 -0.7 1 -0.2 1 -2.2 4 -3.1 4 -3.8 4 -4.9 4 -4.9 3 -8.7 4.2 -10 3.5 -11 3 -16 3.6 -8 1.3 -10 1.2 -13 1 -10 0.2 -6 0.6 -5.5 -0.1 -9.5 0.8 -17 0.6 -16 0.1 -1 0.3 -12 0.2 -1 0.4 -3 -0.1 -1 -0.3 -3 0.4 -6 0 -2 0.3 -3 -0.2 -2 0.3 -3 -0.3 -2 0.4 -3 -0.4 -1 0.6 -3 -0.2 -2 0.4 -1 -0.3 -1.4 0 -0.6 0.3 -0.6 -0.3 -2.4 0 -1 0.3 -2 -0.3 -2 0.4 -1 -0.4 -3 0.4 -1 -0.4 -1 0.4 -9 0 -1 0.3 -2 -0.2 -1 0.3 -0.7 -0.3 -1.3 0 -1 0.4 -1 -0.4 -1.2 0 -0.8 0.4 -2 -0.4 -1 0.4 -1 -0.4 -1 0.4 -2 -0.2 -2 0.3 -1 -0.5 -1 0.4 -1 0 -1 -0.4 -1 0.5 -4 0 -1 0.2 -2 -0.3 -1 0.4 -0.6 -0.3 -1.4 -0.1 -3 0.3 -0.4 -0.2 -3.6 0 -1 0.3 -0.6 -0.3 -1.4 0 -1 0.3 -1 -0.3 -1 0.2 -2 -0.2 -1 0.3 -1 -0.3 -1 0.2 -0.5 -0.2 -3.5 0 -1 0.3 -0.6 -0.3 -1.4 0.2 -2 -0.2 -1 0.3 -0.6 -0.3 -2.4 0 -1 0.3 -1 -0.3 -1 0.3 -1 -0.3 -3.5 0 -0.5 0.3 -0.5 -0.3 -2.5 0 -1 0.3 -1 -0.3 -1 0.3 -1.3 -0.3 -0.7 0.3 -0.7 -0.3 -1.3 0.3 -1 -0.3 -2 0.2 -0.5 -0.2 -2.5 0 -1 0.4 -1 -0.4 -1 0.4 -0.7 -0.4 -1.3 0.3 -1 -0.3 -1 0.4 -1 -0.4 -1 0.3 -1 -0.3 -1 0.3 -1 -0.3 -3 0.2 -1.4 -0.2 -0.6 0.2 -0.5 -0.2 -1.5 0.2 -2 -0.2 -1 0.3 -0.7 -0.3 -1.3 0.3 -0.6 -0.3 -1.4 0.2 -1 -0.2 -1 0.4 -1 -0.4 -1 0.4 -1 -0.4 -1 0.3 -1.2 -0.3 -0.8 0.3 -1 -0.3 -1 0.3 -1 -0.3 -5.5 0 -0.5 0.2 -1 -0.2 -1 0.3 -1 -0.3 -1 0.3 -1.4 -0.3 -0.6 0.3 -1 -0.3 -2 0.3 -1 -0.3 -2.5 0 -0.5 0.2 -0.5 -0.2 -5.5 0 -1 0.3 -1 -0.3 -3 0.2 -2.5 -0.2 -0.5 0.3 -1 -0.3 -1 0.2 -1 -0.2 -5.6 0 -0.4 0.2 -0.4 -0.2 -4.6 0.2 -1 -0.2 -1 0.2 -0.6 -0.2 -3.4 0 -1 0.2 -2 -0.2 -55 0.1 0 -26.5 12 0.1 9 0.4 81 0 1 -0.2 2 0.1 1 -0.3 1 0.3 2 -0.3 10 -0.3 3 -0.6 1 0.2 2 -0.4 5 0 2 -0.4 5 -0.1 2 -0.5 3 0 1 -0.4 2 -0.2 1 -0.3 4 -0.2 3 -0.7 4.9 -0.3 2.1 -0.7 3.9 -0.3 6.1 -1 5 -1.2 6 -0.8 4 -0.9 2 -0.9 3 -0.6 3.3 -1.1 2.7 -1.4 7 -2.1 4 -1.7 11.9 -3.3 1.1 -0.9 12.4 -3.6 2.6 -1.3 14 -4.7 0.3 -0.5 1.7 -0.8 8.3 -3.2 6.2 -3 0.5 -0.3 0.3 -0.7 6.7 -3.8 4 -2.7 3.3 -2.5 0 -1 0.4 -0.5 3.3 -2.9 4 -4.4 6 -8.2 0.2 -0.5 -0.9 -0.5 0.1 -0.5 1.9 -3 2.9 -6 3.9 -9.5 2.2 -6 0.3 -1.5 0.4 -0.7 2.6 -8.8 0.7 -1.5 0.2 -1.5 3.6 -10.5 2.1 -7.5 2 -10.5 0.3 -3 0.5 -1.9 0.5 -4.6 0.5 -1.9 1.5 -10.1 0.5 -1.6 0.5 -3.9 0.5 -1.5 1.5 -9.5 0.7 -2.5 0.3 -3 0.5 -1.8 0.5 -4.7 0.5 -1.6 0.5 -4.9zM669.2 748l2.8 -0.4 8 -0.1 2 0.1 0.8 0.4 -12.9 6 -10.9 6.5 -0.4 0.5 -9.7 5.5 -1.1 1 -1.9 1 -0.2 0.5 -1.7 0.9 -0.3 0.6 -2.7 1.9 -1.3 1.6 -2.7 2.1 -0.4 0.9 -1.6 1.3 -0.3 0.7 -0.7 0.4 -0.2 0.6 -0.8 0.6 -0.2 0.9 -0.8 0.5 -0.3 1 -0.8 0.5 -0.2 1 -0.7 0.6 -0.2 0.9 -0.8 0.7 -0.4 1.3 -0.6 0.5 -0.4 1.5 -0.6 0.6 -0.5 1.9 -0.5 0.7 -0.4 2.8 -0.6 1.4 -0.4 2.6 0.2 5.5 -0.4 0.5 1.6 2.5 3 2.5 3.9 2 4.1 1.5 5.7 1.5 1.3 0.1 1 0.5 2 0 1 0.5 3 0.2 1 0.4 2.9 0.3 -2.9 0.3 -15 -0.5 -21 -0.9 -21 -1.3 -15 -0.3 -24 -2 -1 -0.4 -3 -0.1 -14 -2.1 -4 -0.9 -5 -1.6 -2.5 -1.2 -2 -1.5 -1.9 -2.5 -0.9 -2 -0.6 -3.5 0.6 -2.5 1.8 -3.5 2.1 -2 5.4 -3.1 15 -7.1 8 -3.6 10 -4 31 -10.5 15 -4.1 14.3 -3.1 2.7 -0.8 11 -2.1 11 -1.4 13.5 -1.2 1.5 -0.3zM307.2 822l0.8 -0.4 6 -0.1 177 0 30 0.1 4 0.4 7 0.2 1.4 0.3 5.6 0.2 1 0.3 5 0.2 1 0.4 3 0 1 0.5 3 0 1 0.5 2 0 1 0.5 3 0 1 0.5 2 0 1 0.5 2 0 1 0.5 2 0 1 0.5 2 0 3 1 1 0 1 0.5 1 0 1 0.5 1 0 5.8 2.9 0.1 0.5 0.9 0.5 0.1 0.5 0.9 0.5 0.1 1 0.9 0.5 0 4 -1 0.5 0 0.5 -1 0.5 0 0.5 -3 1.5 0 0.5 -2.8 1.4 -1 0 -3 1.5 -1 0 -2 1 -1 0 -1 0.5 -3 0.5 -2 1 -1 0 -1 0.5 -1 0 -1 0.5 -1 0 -1 0.5 -1 0 -1 0.5 -1 0 -1 0.5 -1 0 -1 0.5 -1 0 -3 1 -2 0 -3 1 -2 0 -3 1 -2 0 -1 0.5 -2 0.1 -1 0.4 -2 0.1 -1 0.4 -2 0.1 -3 0.9 -2 0 -1 0.5 -3 0.1 -1 0.4 -2 0 -1 0.5 -6.5 0.6 -0.5 0.3 -4 0.2 -1 0.3 -5 0.2 -1 0.4 -5 0.1 -1 0.3 -16 0.7 -1 0.3 -16 0.2 -1 0.3 -8 0.1 -66 0.1 -1 0.3 -74 0.2 -1 0.2 -13 0.2 -60 0.1 -14 0.4 -58 0.1 -14 0.4 -43 0.1 0 -9.4 16 -0.1 1 -0.4 23 -0.1 1 -0.4 27 -0.1 1 -0.4 32 -0.1 1 -0.4 52 -0.1 1 -0.4 39 0 1 -0.5 21 0 1 -0.5 9 0 1 -0.5 4 0 1 -0.5 4 0 1 -0.5 4 0 1 -0.5 4 0 1 -0.5 3 0 1 -0.5 3 0 1 -0.5 3 0 1 -0.5 3 0 1 -0.5 3 0 1 -0.5 3 0 1 -0.5 2 0 1 -0.5 3 0 1 -0.5 2 0 3 -1 2 0 3 -1 1 0 1 -0.5 1 0 1 -0.5 1 0 1 -0.5 1 0 2 -1 1 0 3 -1.5 1 0 3.2 -1.6 0 -0.5 2 -1 0 -0.5 1.9 -1 0.1 -0.5 1 -0.5 0 -0.5 1 -0.5 0 -1 1 -0.5 0 -0.5 1 -0.5 0 -0.5 1 -0.5 0 -3.5 -1 -0.5 -0.1 -0.5 -3.1 -1.5 -3 -0.1 -1 -0.4 -40 -0.1 -1 -0.4 -38 -0.1 -1 -0.4 -24 -0.1 -1 0z"/>
<path fill="#ffc17b" d="M433.4 492.5l1.6 -0.4 8 0 115 -0.1 42 0 3 0.2 0.5 0.3 -2.1 36.5 -2 22 -2.4 20.1 -1.6 17.4 -2 17 -2 13.5 -3 16 -1.9 8.5 -2 7 -2.5 7.5 -1.5 5.5 -3.1 8 -2.2 4 -2.6 3.5 -4.2 4.5 -5 4 -3.1 2 -5.3 2.8 -7 3.1 -10 3.3 -10 2.7 -15 3.3 -6 1 -12 1.5 -13 1 -51 2.2 -13 0.1 -1 0.3 -3 0.1 -9 0.1 -1 0.3 -2 0.1 -2 -0.4 -3 0.4 -11 0 -2 0.4 -3 -0.3 -2 0.4 -3 -0.4 -1 0.5 -3 -0.2 -2 0.5 -1 -0.4 -2 0.3 -1 -0.3 -2 0.1 -1 0.3 -2 -0.3 -2 0.4 -1 -0.4 -3 0.4 -1 -0.4 -1 0.4 -2 -0.2 -2 0.3 -8 -0.1 -1 0.4 -0.6 -0.3 -1.4 0 -1 0.4 -1 -0.4 -1.2 0 -0.8 0.4 -2 -0.4 -1 0.4 -1 -0.4 -1 0.3 -1 0.1 -1 -0.3 -2 0.3 -1 -0.4 -1 0.4 -1 0 -1 -0.4 -1 0.4 -7 0 -1 0.3 -2 -0.3 -3 0.2 -4 -0.1 -1 0.2 -2 -0.2 -1 0.3 -1 -0.3 -4 0.2 -6 -0.2 -1 0.2 -1 -0.2 -3 0 -1 0.2 -0.5 -0.2 -2.5 0 -1 0.3 -1 -0.3 -1 0.3 -1 -0.3 -4 0.2 -3 -0.2 -1 0.3 -1 -0.3 -1 0.2 -1.5 -0.2 -0.5 0.3 -0.5 -0.3 -1.5 0.2 -1 -0.2 -5 0 -1 0.3 -1 -0.3 -1 0.3 -0.6 -0.3 -1.4 0.2 -1 -0.2 -1 0.3 -1 -0.3 -1 0.3 -1 -0.3 -1 0.3 -1 -0.3 -5 0.2 -4 -0.2 -1 0.3 -1 -0.3 -1 0.2 -3 -0.2 -1 0.3 -1 -0.3 -1 0.3 -1 -0.3 -1 0.2 -1.4 -0.2 -0.6 0.3 -1 -0.3 -1 0.3 -1 -0.3 -6 0.2 -1 -0.2 -1 0.2 -1 -0.2 -1 0.2 -1.5 -0.2 -0.5 0.2 -1 -0.2 -2 0.2 -1 -0.2 -9 0 -1 0.2 -1 -0.2 -5.6 0 -0.4 0.2 -1 -0.2 -77 0 0 -26.4 11 0.1 10 0.4 76 0 8 0 1 -0.3 1 0.2 2 -0.3 7 -0.1 1 -0.2 2 0.1 3 -0.6 1 0.1 2 -0.3 12 -0.6 2 -0.4 3 -0.1 1 -0.4 3 -0.5 4 -0.1 3 -0.7 5 -0.4 2 -0.6 10 -1.4 5 -1.2 6 -0.7 4 -1 2 -0.8 6.4 -1.8 2.6 -1.3 8.6 -2.7 1.4 -0.8 13 -3.7 1 -0.8 12.5 -3.7 2.5 -1.3 14 -4.6 0.4 -0.6 1.6 -0.8 10.5 -4.2 4.1 -2 0.8 -1 6.6 -3.8 4 -2.6 3.4 -2.6 0 -1 6.6 -6.5 3.3 -4 3.8 -5.5 0.2 -0.5 -0.9 -0.5 0.2 -0.5 2.5 -4.5 2.9 -6.2 6 -15.8 4.6 -15 2.6 -7.5 2.1 -7.5 2 -10.5 3.3 -21.5 3.7 -19zM669.6 748l2.4 -0.3 8 -0.1 2 0.1 0.6 0.3 -13.6 6.5 -10.6 6.5 -9.6 5.5 -6.8 5 -2.4 2.5 -2.6 2 -0.6 1 -1.4 1.2 -0.4 0.8 -0.6 0.3 -0.2 0.7 -0.8 0.5 -0.3 1 -0.7 0.4 -0.4 1.1 -0.6 0.3 -0.4 1.2 -0.6 0.5 -0.3 1 -0.7 0.6 -0.5 1.4 -0.5 0.4 -0.5 1.6 -0.5 0.4 -1 2.5 -0.6 3.1 -0.4 0.9 -0.5 3.1 0.2 5.5 -0.5 0.5 1.8 2.6 2.9 2.4 4 2 4.1 1.6 5.5 1.4 1.5 0.1 1 0.5 2 0.1 1 0.4 6.4 0.9 -2.4 0.2 -13 -0.4 -23 -1 -20.5 -1.3 -15.5 -0.2 -13 -1 -11 -1.1 -17 -2.4 -5 -1.1 -5 -1.6 -2.3 -1.1 -2 -1.5 -1.9 -2.5 -1 -2.5 -0.6 -3 0.9 -3 1.6 -3 2.1 -2 5.2 -3 13 -6.2 10 -4.6 10 -3.9 31 -10.6 15 -4 17 -4 8 -1.5 10 -1.5 14 -1.5zM307.2 822l0.8 -0.4 7 -0.1 166 0 39 0.1 11 0.5 2.2 0.4 5.8 0.3 1 0.3 5 0.1 1 0.4 3 0.1 1 0.4 3 0.1 1 0.4 2 0 1 0.5 3 0 1 0.5 2 0 1 0.5 2 0 1 0.5 2 0 1 0.5 2 0 5 1.5 1 0 1 0.5 1 0 5.8 2.9 0 0.5 1 0.5 0 0.5 1 0.5 0 1 0.9 0.5 0.1 4 -1 0.5 0 0.5 -1 0.5 -0.1 0.5 -2.9 1.5 -0.1 0.5 -2.7 1.4 -1 0 -3 1.5 -1 0 -2 1 -1 0 -1 0.5 -3 0.5 -2 1 -1 0 -1 0.5 -1 0 -1 0.5 -1 0 -1 0.5 -1 0 -1 0.5 -1 0 -1 0.5 -1 0 -5 1.5 -2 0 -3 1 -2 0 -3 1 -2 0 -1 0.5 -2 0 -1 0.5 -2 0 -1 0.5 -2 0 -3 1 -2 0 -1 0.4 -3 0.1 -1 0.5 -2 0 -1 0.4 -8 1 -3 0.1 -1 0.4 -11 0.6 -1 0.4 -7 0.2 -2 0.3 -7 0.2 -1 0.2 -3 0.2 -13 0.1 -1 0.3 -9 0 -65 0.2 -1 0.2 -15 0.2 -59 0.1 -17 0.4 -57 0.1 -17 0.4 -55 0.1 -16 0.4 -41 0.1 0 -9.4 16 0 1 -0.5 23 0 1 -0.5 27 0 1 -0.5 32 0 1 -0.5 52 0 1 -0.5 39 0 1 -0.5 21 0 1 -0.5 9 0 1 -0.5 4 0 1 -0.5 4 0 1 -0.5 4 0 1 -0.5 4 0 1 -0.5 3 0 1 -0.5 3 0 1 -0.5 3 0 1 -0.5 3 0 1 -0.5 3 0 1 -0.5 3 0 1 -0.5 2 0 1 -0.5 3 0 1 -0.5 2 0 3 -1 2 0 5 -1.5 1 0 1 -0.5 1 0 1 -0.5 1 0 2 -1 1 0 3 -1.5 1 0 3.2 -1.6 0.1 -0.5 1.9 -1 0.1 -0.5 1.9 -1 0 -0.5 1 -0.5 0 -0.5 1 -0.5 0.1 -1 0.9 -0.5 0.1 -0.5 0.9 -0.5 0 -0.5 1.1 -0.5 -0.1 -3.5 -0.9 -0.5 -0.1 -0.5 -3.2 -1.5 -3 -0.1 -1 -0.4 -37 -0.1 -3 0 -1 -0.4 -37 -0.1 -1 0 -1 -0.4 -24 -0.1 -1 0z"/>
<path fill="#ffbd79" d="M433.7 492.5l1.3 -0.3 13 -0.1 87 -0.1 62 0.1 4 0 2.1 0.4 -1.9 33 -2.1 23.5 -6 55 -1.9 13.5 -2.8 15.5 -2.1 9.5 -2 7 -4 13.5 -3.1 8 -1.8 3.5 -3.2 4.5 -4.9 5 -5.1 4 -7.2 4.1 -5 2.2 -6 2.3 -12 3.5 -11 2.7 -12 2.4 -8 1.2 -8 0.8 -17 1.1 -45 2 -13 0.1 -4 0.4 -8 0.1 -4 0.3 -2 -0.3 -5 0.5 -3 -0.2 -8 0.4 -3 -0.2 -2 0.4 -3 -0.3 -1 0.4 -3 -0.3 -2 0.4 -9 -0.1 -2 0.4 -1 -0.4 -3 0.4 -1 -0.4 -2 0.5 -1 -0.4 -2 0.4 -2 -0.2 -7 0.4 -2 -0.2 -1 0.3 -1 -0.3 -2 0.4 -2 -0.4 -1 0.4 -1 -0.3 -2 0.3 -1 -0.3 -2 0.4 -1 -0.4 -2 0.4 -1 -0.4 -1 0.4 -2 -0.2 -19 0.4 -192 -0.1 0 -26.3 21 0.5 86 0 12 -0.6 1 -0.3 5 -0.5 12 -0.6 21 -2.5 1 -0.4 11 -1.6 14 -2.7 8 -2.4 4 -1.7 9 -2.8 1 -0.7 13 -3.7 1 -0.8 13 -3.9 2 -1.1 14 -4.7 1 -0.8 13 -5.3 3.2 -1.6 0.6 -1 9.2 -5.5 4.7 -3.5 -0.1 -0.5 0.2 -0.5 3.2 -3 4.2 -4.5 5.9 -8 0.4 -1 -0.7 -0.5 2.5 -4.5 2.8 -6 6 -15.5 8 -25 2 -8 4.8 -28.5 4.3 -23.5zM671.1 748l6.9 -0.3 4.1 0.3 -10.1 4.8 -5 2.7 -18 10.8 -5 3.5 -6 5.1 -5 5.4 -4 6 -3 5.9 -2 7.8 0 3.5 0.5 2 -0.5 0.4 -0.1 0.6 1.1 1.5 4 3.3 6.1 2.7 4.9 1.5 10.3 2 -0.3 0.1 -3 0.3 -6 -0.2 -23 -0.9 -19 -1.3 -24 -0.7 -13 -1.1 -9 -1 -14 -2.1 -4 -0.9 -5.5 -1.7 -2.2 -1 -2 -1.5 -1.7 -2 -1.1 -2.5 -0.6 -3.5 0.7 -2.5 1.7 -3.5 2.2 -2 5.5 -3.2 20 -9.5 14 -5.5 20 -7 9 -2.8 13 -3.6 15 -3.6 10 -2.1 13 -2 14 -1.5zM307.4 822l1.6 -0.3 7 -0.1 157 0 43 0.1 14 0.5 19 1.6 1 0.4 6 0.5 1 0.5 3 0.1 1 0.4 2 0 1 0.5 2 0 1 0.5 2 0 1 0.5 2 0.1 5 1.4 1 0 1 0.5 1 0.1 5.5 2.7 0.1 0.5 0.9 0.5 0.1 0.5 0.9 0.5 0.1 1 0.9 0.5 0.1 3 -0.1 1 -0.9 0.5 -0.1 0.5 -0.9 0.5 -0.1 0.5 -2.9 1.5 -0.1 0.5 -2.5 1.2 -1 0.1 -3 1.4 -1 0.1 -2 0.9 -5 1.1 -2 0.9 -1 0.1 -1 0.4 -1 0.1 -1 0.5 -1 0 -1 0.5 -1 0 -9 2.4 -2 0.1 -3 1 -2 0.1 -3 0.9 -2 0.1 -1 0.4 -8 1.1 -3 0.8 -6 0.7 -1 0.3 -7 1 -15 1.5 -16 1.1 -11 0.5 -28 0.5 -58 0.1 -25 0.4 -50 0.1 -25 0.4 -178 1.1 0 -9.2 40 -0.6 1 -0.3 27 -0.2 1 -0.3 32 -0.2 1 -0.3 52 -0.2 1 -0.3 39 -0.2 1 -0.3 21 -0.2 1 -0.3 9 -0.1 1 -0.5 4 0 1 -0.5 4 0 1 -0.5 9 -0.5 1 -0.5 3 0 1 -0.4 7 -0.6 1 -0.4 3 -0.1 1 -0.4 3 -0.1 1 -0.5 3 0 1 -0.5 2 0 1 -0.5 3 0 1 -0.5 2 0 3 -0.9 2 -0.1 5 -1.5 1 0 1 -0.4 1 -0.1 1 -0.5 1 0 2 -0.9 1 -0.1 3 -1.4 1 -0.1 3.4 -1.7 0.1 -0.5 1.9 -1 0.1 -0.5 1.9 -1 0.1 -0.5 1.9 -1.5 0.1 -1 1 -0.5 0 -0.5 0.9 -0.5 0.1 -0.5 1 -0.5 -0.1 -3.5 -0.9 -0.5 -0.1 -0.5 -3.4 -1.5 -2 0 -2 -0.5 -33 -0.1 -7 -0.1 -1 -0.3 -34 -0.1 -4 -0.1 -1 -0.4 -23 0 -2 -0.1z"/>
<path fill="#ffb976" d="M434.2 492.5l18.8 -0.4 82 -0.1 60 0.1 6 0.1 1.7 0.3 -1.4 26.5 -2.2 27 -6.4 58.5 -2.5 16.5 -2.5 13.5 -2.6 11 -4.6 15.5 -2.2 6.5 -2.2 5 -2 3.5 -4.1 5 -4 3.8 -4 3 -7 4 -10 4.3 -9.5 2.9 -14.5 3.7 -13 2.5 -7 1 -12 1.2 -13 0.8 -45 2 -13 0.2 -4 0.3 -33 0.7 -2 0.3 -3 -0.3 -1 0.4 -3 -0.3 -2 0.4 -9 0 -2 0.3 -1 -0.3 -3 0.4 -1 -0.4 -2 0.4 -1 -0.3 -2 0.3 -2 -0.3 -1 0.3 -11 0.1 -1 0.2 -2 -0.2 -1 0.3 -1 -0.3 -2 0.3 -1 -0.3 -2 0.4 -1 -0.4 -2 0.4 -1 -0.4 -1 0.4 -2 -0.2 -1 0.2 -18 0.2 -192 0 0 -26.1 20 0.4 40 0.2 50 -0.3 31 -2.2 11 -1.6 4 -0.3 3 -0.7 12 -1.7 13 -2.5 2 -0.8 6 -1.6 4.2 -1.8 8.8 -2.8 1.2 -0.7 12.8 -3.7 1.4 -0.8 12.6 -3.8 2.4 -1.2 12.6 -4.2 2.3 -1.3 10.7 -4.3 5.6 -2.7 0.4 -0.8 9.5 -5.7 4.7 -3.5 -0.4 -0.5 0.2 -0.3 2.5 -2.2 3.9 -4 4 -5 3.1 -4.5 0.3 -1 -0.4 -0.5 5 -10 6 -15.5 8 -25 2 -7.5 2 -11 2.6 -17 4.4 -23.5zM672.7 748l5.3 -0.3 3.5 0.3 -1.4 1 -8.1 3.7 -5 2.7 -17 10.2 -6 4.1 -6 5.1 -5 5.4 -4 5.8 -3.1 6 -2.2 8 0.2 4 0.3 1.5 -0.5 1 1.3 1.8 4 3.2 5.9 2.5 7.1 2 7.4 1.5 -4.4 0.3 -25 -1.1 -21 -1.3 -23 -0.6 -22 -2.1 -14.5 -2.2 -8.5 -2.2 -3 -1.2 -2.2 -1.6 -1.7 -2 -0.9 -2 -0.8 -3.5 0.7 -3 1.3 -3 2.7 -2.5 5 -3 17.7 -8.5 8.2 -3.5 10 -3.7 27 -9.2 16 -4.3 17 -4 8 -1.5 14 -1.9 10 -1.1zM307.6 822l2.4 -0.3 6 -0.1 150 0 44 0.2 19 0.4 14 1.2 10 1.1 4 0.7 3 0.2 4 0.8 2 0.2 1 0.4 2 0.1 1 0.4 2 0.1 7 1.9 1 0.1 5.3 2.6 0.1 0.5 1.9 1.5 0.1 1 0.8 0.5 0.2 3 -0.1 1 -1.9 1.5 -0.2 0.5 -2.8 1.5 -0.2 0.5 -2.2 1.1 -1 0.1 -3 1.4 -1 0.1 -2 0.9 -5 1.1 -2 0.9 -16 4 -2 0.2 -3 0.8 -2 0.2 -3 0.9 -11 1.6 -3 0.8 -15 2.1 -9 1 -22 1.6 -12 0.5 -30 0.4 -332 2.2 0 -9.1 40 -0.6 1 -0.3 27 -0.2 1 -0.3 32 -0.2 1 -0.3 52 -0.2 1 -0.3 39 -0.2 1 -0.3 21 -0.2 1 -0.3 9 -0.2 1 -0.3 4 -0.2 1 -0.3 4 -0.2 1 -0.3 9 -0.7 1 -0.3 3 -0.1 1 -0.4 7 -0.6 1 -0.4 3 -0.1 1 -0.4 3 -0.1 1 -0.4 3 -0.1 1 -0.5 2 0 1 -0.4 3 -0.1 6 -1.4 2 -0.1 10 -2.5 2 -0.9 1 -0.1 3 -1.4 1 -0.1 3.6 -1.8 0.2 -0.5 1.8 -1 0.2 -0.5 1.8 -1 0.1 -0.5 1.9 -1.5 0.2 -1 0.9 -0.5 0.1 -0.5 0.8 -0.5 0.1 -0.5 1.1 -0.5 -0.2 -3.5 -0.8 -0.5 -0.2 -0.5 -3.6 -1.5 -2 0 -2 -0.6 -74 -0.6 -5 -0.1 -1 -0.3 -21 0z"/>
<path fill="#ffb573" d="M435 492.5l22 -0.4 78 -0.1 58 0.1 7 0.1 2.4 0.3 -1.5 27 -2.3 27.5 -6.2 57.5 -2.5 16.5 -2.5 13.5 -2.6 11 -4.6 15.5 -2 6 -1.9 4.5 -2.3 4.2 -3.5 4.3 -4.5 4.5 -4 3 -7 4.1 -9 3.9 -10 3.2 -13 3.3 -10 2.2 -12 1.9 -12 1.2 -15 0.9 -63 2.5 -12 0.2 -4 0.3 -3 -0.2 -3 0.3 -10 0.2 -3 -0.1 -1 0.3 -3 -0.2 -2 0.3 -2 -0.2 -9 0.5 -2 -0.2 -2 0.3 -1 -0.3 -2 0.3 -1 -0.3 -2 0.3 -2 -0.2 -1 0.3 -14 0.1 -1 0.2 -1 -0.2 -2 0.2 -1 -0.2 -2 0.3 -1 -0.3 -2 0.3 -1 -0.3 -1 0.3 -2 -0.2 -1 0.3 -18 0.1 -192 0 0 -25.9 15 0.4 44 0.4 51 -0.4 31 -2.2 4 -0.7 11 -1.2 3 -0.7 6 -0.7 19 -3.5 10 -3.1 4 -1.6 9 -3.1 11 -3.2 2 -0.9 13 -4.1 14 -5 12 -4.9 8 -4 8.8 -5.5 6 -4.5 0 -0.5 4.1 -4 3.9 -4.5 5 -7 0.5 -1 -0.2 -0.5 2.9 -5.5 2.9 -6.5 4.9 -13 1.4 -5 0.6 -1 0.3 -2 0.6 -1 0.5 -2.5 0.6 -1 0.3 -2 0.6 -1 0.3 -1.7 0.7 -1.3 0.3 -1.8 0.7 -1.2 0.3 -1.8 0.7 -1.2 0.3 -1.9 0.7 -1.6 0.4 -2.5 0.7 -1.5 0.2 -2.3 0.8 -2.7 0.5 -4 0.5 -1.5 0.2 -2.7 0.8 -3.3 1.6 -11 4.5 -23.5zM674.2 748l5.8 -0.1 0.8 0.1 0 0.5 -8.8 4 -5 2.7 -17 10.3 -6 4.1 -6 5.1 -5 5.4 -4.1 5.9 -3.2 6 -2.2 8 0.5 5.5 -0.6 1 0.6 1 2 2 2 1.5 4.1 2 7.5 2.5 8.9 2 -2.5 0.2 -12 -0.4 -35 -1.9 -23 -0.7 -20 -1.9 -15.7 -2.3 -8.3 -2.1 -3.5 -1.4 -1.6 -1 -2.4 -2.5 -0.9 -2 -0.8 -3.5 0.7 -3 1.4 -3 2.7 -2.5 4.9 -3 17.6 -8.5 7.9 -3.4 10 -3.7 27 -9.2 16 -4.4 16 -3.7 10 -1.9 10 -1.4 14 -1.5zM307.9 822l9.1 -0.4 149 0.1 41 0.1 22 0.5 16 1.4 14.8 1.8 12.2 2 7.9 2 5.1 2.5 0.2 0.5 1.8 1.5 0.2 1 0.8 0.6 0.2 2.9 -0.2 1 -1.8 1.5 -0.2 0.5 -2.8 1.5 -0.2 0.4 -2.4 1.1 -6.6 2.4 -21 5.6 -4 0.7 -3 0.8 -2 0.2 -3 0.8 -11 1.7 -3 0.8 -15 2.1 -10 1.1 -21 1.5 -13 0.6 -33 0.4 -328 2.2 0 -9 68 -1.2 1 -0.2 32 -0.3 1 -0.2 52 -0.2 1 -0.3 39 -0.2 1 -0.3 21 -0.2 1 -0.3 9 -0.2 1 -0.3 4 -0.2 1 -0.3 4 -0.2 1 -0.3 9 -0.7 1 -0.3 15 -1.7 1 -0.3 3 -0.2 1 -0.3 3 -0.2 4 -0.8 3 -0.2 1 -0.3 2 -0.2 3 -0.7 2 -0.2 10 -2.5 7 -2.5 3.8 -1.9 0.2 -0.4 3.8 -2.6 0.2 -0.5 1.8 -1.5 0.4 -1 1.7 -1.5 0.1 -0.5 1 0.6 2 0.2 0.7 -0.8 -0.7 -0.5 -2 -0.2 0.1 -2.3 -0.3 -1 -1 -1 -3.8 -1.6 -2 0 -2 -0.5 -72 -0.6 -8 -0.4 -19 0z"/>
<path fill="#ffb171" d="M437.1 492.5l23.9 -0.3 74 -0.2 56 0.1 9 0.1 2 0.3 -1.5 27 -2.2 27.5 -6.3 57.5 -2.3 16 -2.6 13.5 -2.6 11.5 -4.4 15 -1.8 5.5 -2.3 5.5 -2.2 4 -3.2 4 -3.9 4 -5.1 4 -6.9 4 -9.7 4.2 -9 2.8 -13.6 3.5 -12 2.5 -10.4 1.6 -11 1 -16 1 -62 2.6 -16 0.4 -3 -0.1 -3 0.3 -13 0.1 -2 0.2 -2 -0.2 -2 0.4 -2 -0.2 -13 0.5 -1 -0.3 -2 0.3 -1 -0.2 -2 0.3 -2 -0.3 -1 0.3 -2 -0.1 -13 0.4 -4 -0.1 -2 0.3 -1 -0.3 -2 0.3 -1 -0.3 -1 0.3 -2 -0.2 -1 0.2 -7 -0.1 -1 0.2 -202 0.1 0 -25.6 55 0.8 52 -0.4 16 -0.9 18 -1.3 27 -3.8 12 -2.1 8 -1.8 16 -5.5 35.5 -11.3 13.6 -5 7.9 -3.3 7.3 -3.7 7.4 -4.5 5.4 -4 4.4 -4 4.5 -5 3.8 -5 3.1 -5 3.1 -6 3.1 -7 3.4 -9 9.2 -28.5 2.1 -8 9 -49.5zM675.5 748l4.3 0 0.8 0.5 -12.6 6 -18 10.9 -6 4.1 -6 5.1 -5 5.3 -4 5.7 -3.5 6.4 -2.3 8 0.6 5.5 -0.6 1 0.8 1.2 4 3.5 3.9 1.8 7.5 2.5 8.4 2 -23.8 -0.7 -26 -1.6 -22 -0.6 -20 -1.9 -15 -2.2 -5 -1.1 -4.5 -1.4 -3.4 -1.5 -1.4 -1 -2.1 -2.5 -0.8 -2 -0.3 -3.5 0.4 -2.5 0.9 -2 1 -1.5 1 -1 4.3 -3 17.2 -8.5 7.7 -3.5 30 -10.8 9 -2.9 13 -3.6 19 -4.5 7 -1.4 10 -1.5 12 -1.4zM308.2 822l8.8 -0.4 143 0.1 42 0.1 26 0.5 17 1.5 14 1.7 11.7 2 5.3 1.2 5.4 1.8 3.6 2 1.4 1.5 1 1.5 0.6 1.5 0.1 1 -0.3 1 -2 2 -3.1 2 -3.7 1.8 -11.6 3.7 -15.2 4 -11.7 2.5 -13.5 2.4 -13 1.8 -12 1.4 -22 1.6 -14 0.5 -35 0.4 -324 2.2 0 -8.8 102 -1.9 52 -0.3 62 -0.9 10 -0.5 20 -2 31 -4 8 -1.4 8.4 -2 6.6 -2.1 5.3 -2.4 4.7 -3.5 4 -4.2 1 0.8 2 0.3 1.4 -0.9 0.6 -0.5 0 -0.5 -2 -0.9 -1 -0.1 -0.5 -0.5 0.2 -1 -0.3 -1 -2.1 -2 -3.3 -1.1 -2 0 -2 -0.5 -71 -0.6 -9 -0.4 -18 0z"/>
<path fill="#ffad6e" d="M439.3 492.5l24.7 -0.3 71 -0.1 55 0 11.7 0.4 -1.1 21 -1.9 25 -5.7 55 -2.7 21 -3.9 21.5 -2.2 9.5 -4.6 15.5 -2 6 -2.2 5 -2.7 4.5 -3.7 4.4 -3.8 3.6 -4 3 -7 4 -9.3 4 -9.4 3 -14.5 3.7 -11.3 2.3 -10.7 1.6 -10 0.9 -16 1 -62 2.6 -39 0.8 -2 0.3 -2 -0.2 -13 0.5 -1 -0.2 -2 0.3 -1 -0.2 -20 0.6 -4 -0.1 -2 0.2 -1 -0.3 -2 0.3 -1 -0.2 -1 0.2 -2 -0.2 -7 0.3 -1 -0.2 -4 0.2 -199 0.2 0 -25.1 55 0.7 52 -0.4 32 -2.1 12 -1.3 18 -2.6 11 -1.9 9 -2.1 15 -5.1 36.9 -11.5 13.1 -4.8 8 -3.3 7.9 -3.9 7.4 -4.5 5.5 -4 4.2 -3.8 4.3 -4.7 4.2 -5.5 3.5 -5.5 2.9 -5.5 3.1 -7 3.2 -8.5 9.5 -29 1.9 -7.5 9.2 -49.5zM676.8 748l2.2 0 1.4 0.5 -8.7 4 -4.7 2.5 -19 11.5 -7 5.3 -5 4.6 -3 3.4 -4 5.6 -3.5 6.1 -2.5 8.5 0.7 5.5 -0.1 0.5 -0.6 0.5 1 1.4 4.2 3.6 3.5 1.5 6.3 2.2 8.9 2.3 -22.9 -0.8 -29 -1.7 -19 -0.4 -19 -1.8 -15.3 -2.3 -8.2 -2 -3.5 -1.3 -2.2 -1.2 -1.7 -1.5 -1.3 -2 -0.5 -2.5 0.7 -4 0 -2.5 1 -1.8 2.6 -2.2 4.8 -3 16.6 -8.2 8 -3.5 9 -3.3 19 -6.7 10 -3.2 15 -4.1 16 -3.7 10 -1.9 12 -1.6 15 -1.6zM308.7 822l8.3 -0.3 139 0 42 0.2 29 0.4 16 1.3 16 2.1 10.5 1.8 6.5 1.5 4.5 1.5 3.8 2 1.1 1 1.1 1.5 0.8 1.5 0.3 1.5 -0.9 1.5 -2.7 2.2 -3.1 1.8 -3.9 1.6 -15 4.7 -16 3.9 -19 3.5 -17 2.5 -11 1.1 -20 1.3 -20 0.7 -352 2.5 0 -8.7 83 -1.6 111 -1.1 22 -0.5 10 -0.4 20 -2 31.3 -4 9.7 -1.7 7.6 -1.8 6.2 -2 4.4 -2 4.3 -3 4.5 -4.5 1 1 2 0.2 2.4 -1.2 1.1 -1 -0.3 -0.5 -1 -0.5 -3.2 -1 0.2 -1 -0.3 -1 -2.1 -2 -3.8 -1.1 -2 0 -2 -0.5 -70 -0.6 -10 -0.5 -17 0z"/>
<path fill="#ffa96c" d="M441.4 492.5l25.6 -0.3 68 -0.1 54 0 12.3 0.4 -1.1 21 -1.8 24.5 -5.8 55.5 -2.6 21 -3.9 21.5 -2.3 9.5 -4.5 15.5 -1.8 5.5 -2.4 5.5 -2.1 3.6 -4 4.9 -4 3.8 -4 3 -7 4 -9.6 4.2 -9.6 3 -13.8 3.5 -12.1 2.5 -10.1 1.5 -26.9 2 -24.9 1.2 -45 1.6 -77 1.7 -1 -0.2 -18 0.4 -8 0 -1 -0.2 -1 0.2 -48 0.1 -141 0.1 0 -24.7 55 0.7 52 -0.4 32 -2 12 -1.4 18.9 -2.6 11.1 -1.9 8 -1.9 15 -4.9 38.3 -11.8 12.7 -4.6 8.4 -3.4 8 -4 7.6 -4.5 5.4 -4 4.5 -4 5 -5.5 3.8 -5 3.2 -5 2.9 -5.5 3.3 -7.5 3.1 -8 9.3 -28.5 2.1 -8 9.3 -49.5zM668.4 748.5l8.6 -0.5 2 0.1 1.2 0.4 -8.6 4 -5.6 3 -16 9.7 -6.9 4.8 -5.2 4.5 -4.9 5.2 -4 5.6 -4 6.9 -2.2 7.8 0.7 5.5 0 0.5 -0.7 0.5 0.3 0.5 1.9 2.1 3 2.4 7.7 3 9.3 2.6 -4 0.2 -44.8 -2.3 -20.2 -0.5 -15 -1.4 -16 -2.1 -9.2 -2 -3.8 -1.2 -3 -1.4 -2 -1.4 -1.2 -1.5 -0.3 -1 0 -3 0.7 -3 0 -4 0.5 -1 1 -1 3.5 -2.5 2.6 -1.5 16.2 -8 10 -4.3 31 -11 12 -3.5 11 -2.8 14 -3.2 10 -1.9 16 -2zM309.2 822l7.8 -0.3 139 0.1 64 0.3 7 0.3 14 1.1 11 1.4 13.8 2.1 9.2 2 5 1.6 4 2.2 1.3 1.2 0.9 1.5 0.9 2.5 -1.1 1.5 -3 2.4 -3 1.6 -3.6 1.5 -14.4 4.5 -16 4 -19 3.6 -17 2.5 -11 1.2 -20 1.3 -20 0.7 -352 2.5 0 -8.6 85 -1.6 125 -1.4 16 -0.6 21 -2.1 30 -3.7 11 -2 7 -1.6 6 -1.9 5 -2.3 4.2 -3 3.8 -3.8 1 1 2 0.3 3.4 -1.5 1.6 -1.5 -1.8 -1 -3.2 -1 -0.4 -0.5 -0.2 -1.5 -2 -2 -3.4 -0.7 -1 -0.4 -2 0 -2 -0.5 -69 -0.6 -11 -0.5 -17 0z"/>
<path fill="#ffa569" d="M443.5 492.5l26.5 -0.3 65 -0.1 53 0 13 0.4 -1.5 27 -2.2 27 -6.2 57.5 -2 14 -2.9 16 -2 9 -5 17.5 -2.1 6 -1.8 4.5 -2.2 4 -3.1 4 -4 4.1 -5 4 -7 4 -10.2 4.4 -9.6 3 -13.7 3.5 -12.3 2.5 -10.5 1.5 -27.4 2 -23.3 1.1 -45 1.6 -77 1.8 -1 -0.2 -18 0.4 -9 -0.2 -1 0.2 -48 0.1 -141 0.1 0 -24.3 55 0.7 52 -0.4 32 -2 12 -1.3 19 -2.6 11 -1.9 8 -1.7 16 -5.2 38 -11.5 13 -4.6 8 -3.2 8.1 -3.9 7.9 -4.6 4.8 -3.4 4.7 -4 4.9 -5 4.7 -6 3 -4.5 3.3 -6 3 -6.5 3.4 -8.5 9.5 -29 2.2 -8 9.5 -50zM669.4 748.5l7.6 -0.4 2 0.1 1 0.3 -8.6 4 -5.4 2.9 -16 9.7 -7 4.8 -5.8 5.1 -4.2 4.5 -4 5.6 -4 6.7 -2.4 8.2 0.8 5.5 0 0.5 -0.7 0.5 0.2 0.5 2.1 2.2 3 2.4 7.5 2.9 9.1 2.5 -2.6 0.3 -23 -1 -21.3 -1.3 -21.7 -0.6 -13 -1.1 -15 -2 -9.7 -1.8 -7.3 -2.4 -2.2 -1.1 -1.9 -1.5 -0.2 -5 0.7 -3 0 -5 0.6 -0.8 2.8 -2.2 3.4 -2 16 -8 7.8 -3.5 33 -11.7 12 -3.5 10 -2.6 15 -3.4 10 -1.9 17 -2.2zM309.7 822l7.3 -0.3 139 0.1 64 0.3 7 0.3 13.3 1.1 10.7 1.3 11 1.7 12 2.5 4.9 1.5 4.7 2.5 1.1 1 1 1.5 0.8 2.5 -1.2 1.5 -2.5 2 -2.8 1.5 -4 1.8 -13 4.2 -15.2 4 -9.8 2.1 -24 3.9 -12 1.4 -17 1.3 -26 1 -352 2.5 0 -8.4 85 -1.6 125 -1.4 15 -0.5 22 -2.1 29.9 -3.7 11.1 -1.9 7 -1.6 6.4 -2 4.5 -2 4.4 -3 3.7 -3.5 1 0.9 2 0.3 4.3 -1.7 1.6 -1 0.8 -1 -6.6 -2.5 -0.1 -1 -0.4 -1 -1.6 -1.5 -1 -0.4 -3 -0.3 -1 -0.4 -2 0 -2 -0.5 -67 -0.6 -13 -0.5 -17 0z"/>
<path fill="#ffa167" d="M445.7 492.5l89.3 -0.4 51 0.1 14.6 0.3 -0.6 12.8 -2 29.4 -6 58.3 -3 23.3 -4 21.8 -2 8.1 -4.9 16.8 -2.1 5.6 -1.8 3.9 -2.2 3.6 -4 4.7 -4 3.7 -5 3.6 -7 3.7 -9 3.8 -9.4 2.9 -11.6 3 -11.8 2.5 -10.2 1.6 -23 1.9 -30 1.6 -36 1.3 -86 2 -77 0.4 -141 0.1 0 -23.9 55 0.7 52 -0.4 32 -1.9 12 -1.3 19.2 -2.6 11.8 -2 8 -1.8 15 -4.8 38.6 -11.4 13 -4.5 8.8 -3.5 8.3 -4 7.8 -4.5 5 -3.5 4.7 -4 5.4 -5.5 4 -5 3.3 -5 3.4 -6 3.2 -7 3 -7.5 9.6 -29 2.3 -8.5 9.5 -49.5zM670.3 748.5l6.7 -0.4 2.8 0.4 -9.6 4.5 -4.2 2.3 -16 9.7 -7 4.9 -5.9 5.1 -4.1 4.4 -4 5.5 -4 6.6 -2.6 8.5 0.9 6 -0.8 0.5 0.2 0.5 2.3 2.4 3 2.3 7.4 2.8 8.8 2.5 -2.2 0.2 -22 -0.9 -21 -1.3 -23 -0.6 -12 -1.1 -14.1 -1.8 -9.9 -1.8 -7.6 -2.2 -3.1 -1.5 -1.3 -1 0 -5.5 0.6 -3 0 -5 0.4 -1.2 2.2 -1.8 3.4 -2 15.9 -8 7.5 -3.4 31.2 -11.1 10.8 -3.3 13 -3.4 15 -3.5 9 -1.7 18 -2.3zM310.3 822l6.7 -0.3 135 0.1 68 0.4 6 0.2 14 1.1 10 1.3 11 1.7 13 2.8 4.1 1.2 4.9 2.5 1.8 2 1 2 0.2 1 -1.4 1.5 -2.6 2 -6.3 3 -12.7 4.2 -15.9 4.3 -9.1 2 -25 4.1 -12 1.4 -18 1.3 -17 0.7 -13 0.2 -346 2.5 0 -8.3 87 -1.6 122 -1.3 16 -0.6 21 -1.9 31 -3.8 11 -1.9 7 -1.5 6 -1.8 4.8 -2 4.2 -2.8 4 -3.5 1 0.9 2 0.2 5.2 -1.8 3.1 -2 0 -0.5 -1.1 -0.5 -6.6 -2 -0.1 -1 -0.5 -1.2 -2 -1.7 -4 -0.3 -1 -0.4 -2 0 -2 -0.6 -66 -0.6 -14 -0.4 -17 0z"/>
<path fill="#fc9d64" d="M447.8 492.5l87.2 -0.4 50 0.1 15.1 0.3 -1.1 22.5 -2 26.4 -3.6 32.1 -1.4 15.7 -3 24.8 -4 22.3 -2 8.7 -5 17 -2 5.7 -2 4.4 -2 3.4 -4 4.8 -4 3.8 -5 3.6 -3 1.8 -6 3 -7.4 3 -9.7 3 -11.7 3 -11.9 2.5 -9.7 1.5 -23.6 2 -29.3 1.5 -35.7 1.3 -86 2.1 -77 0.3 -141 0.1 0 -23.4 55 0.7 52 -0.4 16 -0.8 17 -1.2 32 -3.9 10.5 -1.8 7.5 -1.7 15 -4.6 21.8 -6.2 19.8 -6 13 -4.5 8.4 -3.4 9 -4.5 6.9 -4.1 5.6 -4 5 -4.5 3.8 -4 4.8 -6 3.3 -5 3 -5.5 3.1 -6.5 3.3 -8.5 9.3 -28 2.4 -9 9.5 -49zM671.2 748.5l5.8 -0.3 2.6 0.3 -9.6 4.5 -4 2.2 -16 9.7 -7 4.9 -6 5.2 -4 4.3 -4 5.4 -4.2 6.8 -2.6 8.5 1 6 -0.9 0.5 0.3 0.5 2.4 2.5 3 2.2 7 2.7 8.7 2.6 -1.7 0.2 -19 -0.8 -26 -1.5 -20 -0.5 -12 -1 -11.1 -1.4 -12.9 -2.2 -7 -1.9 -3.3 -1.4 -1.5 -1 0 -6 0.6 -3 0.2 -6.6 1.6 -1.4 3.4 -2 14.7 -7.5 8.3 -3.7 32 -11.5 12 -3.6 13 -3.3 14 -3.2 10 -1.8 17 -2.2zM310.8 822l6.2 -0.2 135 0.1 68 0.3 6 0.2 14 1.2 8 1 11 1.7 13 2.7 6 1.8 3.5 1.7 2.5 2 1.4 3 -0.1 0.5 -0.9 1 -2.4 2 -3 1.7 -4.3 1.8 -12.7 4.3 -15.6 4.2 -8.4 1.9 -25 4.1 -12 1.4 -18 1.3 -15 0.7 -16 0.3 -345 2.5 0 -8.3 87 -1.5 123 -1.3 15 -0.5 22 -2 29.5 -3.6 12 -2 6.5 -1.4 6 -1.7 5 -2.1 4 -2.5 4 -3.5 1 0.9 2 0.3 1 -0.3 6 -2.1 1.9 -1.1 1.2 -1 -0.2 -0.5 -1.2 -0.5 -7.6 -2 -0.1 -1 -0.7 -1.5 -1.8 -1.5 -3.5 -0.1 -6 -1.1 -65 -0.6 -15 -0.5 -17 0z"/>
<path fill="#f59962" d="M450 492.5l108 -0.4 31 0.1 10.6 0.3 -1.6 27.9 -2.1 26.1 -6.2 57.5 -2.7 18.6 -2.4 12.9 -2.1 9 -4.5 15.8 -2.3 6.7 -1.9 4.5 -2.8 4.5 -4 4.7 -4.2 3.8 -4.8 3.4 -6.7 3.6 -9.3 3.9 -12 3.6 -14.3 3.5 -10.6 2 -11.1 1.5 -30 2 -19.2 1 -43.8 1.6 -76 1.7 -77 0.4 -141 0.1 0 -23 55 0.7 53 -0.4 33 -2 32 -4 11 -1.8 7 -1.6 14 -4.3 27 -7.5 16 -4.9 12 -4.1 8.7 -3.4 9.3 -4.5 7.6 -4.5 5.6 -4 4.8 -4.2 5.4 -5.8 3.6 -4.5 3 -4.5 3.1 -5.5 3.1 -6.5 3.6 -9 9.1 -27.5 2.6 -9.5 9.6 -49zM672.2 748.5l4.8 -0.3 2.4 0.3 -9.4 4.4 -4 2.2 -16 9.7 -7 4.9 -6 5.2 -4 4.2 -4 5.5 -4.3 6.9 -2.7 8.5 1.1 6 -0.9 0.5 0.2 0.5 2.5 2.5 3.1 2.3 5.6 2.2 9.7 3 -1.3 0.1 -19 -0.8 -29 -1.6 -17 -0.4 -10 -0.8 -12 -1.4 -12.6 -2.1 -7.4 -1.9 -4.5 -2.1 -0.1 -6.5 0.6 -3 0.2 -7 0.3 -0.5 2.1 -1.5 5.6 -3 11.8 -6 6.6 -3 32.2 -11.5 11.2 -3.4 13 -3.4 15 -3.4 9 -1.7 18 -2.3zM311.4 822l5.6 -0.2 127 0.1 80 0.5 14.4 1.1 8.1 1 12.5 1.9 12 2.6 6 1.7 3.8 1.8 2.6 2 1.5 3 -1.1 1.5 -2.6 2 -3.2 1.7 -4 1.7 -14 4.8 -16.3 4.3 -13.7 2.7 -18 2.9 -12 1.4 -17 1.2 -16 0.7 -16 0.3 -344 2.4 0 -8.1 87 -1.5 124 -1.3 14 -0.5 22 -2 30 -3.6 13 -2.1 6 -1.3 5 -1.5 5 -2 4 -2.4 4 -3.3 1 0.8 2 0.3 2.4 -0.6 6.6 -2.4 1.9 -1.1 1.1 -1 -0.5 -0.5 -1.3 -0.5 -8.4 -2 -1 -2.5 -1.6 -1.5 -4.2 -0.1 -2 -0.6 -2 0 -1 -0.4 -1 -0.1 -65 -0.6 -15 -0.5z"/>
<path fill="#ef955f" d="M452.1 492.5l82.9 -0.4 47 0.1 16.9 0.3 -1.1 20.5 -1.8 25 -5.6 54.5 -3.1 24 -3.5 20 -1.9 8 -4.5 16 -2.3 6.5 -2.2 5 -2.6 4 -3.9 4.5 -3.4 3.2 -5.2 3.8 -8.8 4.6 -9 3.6 -13 3.8 -12.6 3 -10.4 1.9 -7.7 1.1 -11.1 1 -22.2 1.5 -20.3 1 -41.7 1.5 -76 1.8 -77 0.4 -141 0.1 0 -22.6 55 0.7 53 -0.4 33 -2 32 -3.8 10.3 -1.7 7.7 -1.7 15 -4.5 26.8 -7.3 15.3 -4.5 13.3 -4.5 8.6 -3.4 9 -4.3 8 -4.6 5.9 -4.2 4.6 -4 5.3 -5.5 3.6 -4.5 3.6 -5.2 3.2 -5.8 2.7 -5.5 3.7 -9 9.1 -27.5 2.6 -9.5 9.8 -49.5zM673.1 748.5l3.9 -0.2 2.2 0.2 -0.6 0.5 -6.8 3 -5.8 3 -16 9.7 -7 4.9 -6 5.2 -4 4.2 -4.1 5.5 -4.3 7 -2.9 8.5 1.3 6 -1 0.5 0.2 0.5 2.8 2.7 3 2.2 5.4 2.1 9.4 3 -18.8 -0.7 -31 -1.7 -16 -0.3 -10 -0.9 -12 -1.4 -13 -2.2 -7 -1.9 -3.2 -1.4 -0.2 -0.5 0 -6.5 0.7 -3 0.1 -7.5 0.3 -0.5 2.1 -1.5 10.5 -5.5 12.6 -6 32.1 -11.5 11 -3.3 13 -3.4 15 -3.5 9 -1.6 19 -2.4zM311.9 822l5.1 -0.2 128 0.1 79 0.5 13.8 1.1 7.2 0.9 14 2.2 11 2.4 7 2 3.2 1.5 2.8 2.1 1.4 2.9 -1.4 1.6 -2.6 1.9 -3.9 2 -4.9 2 -12.6 4.2 -15.9 4.3 -14.1 2.8 -18 2.9 -11 1.2 -18 1.3 -15 0.7 -17 0.2 -343 2.5 0 -8 88 -1.5 123 -1.2 14 -0.5 22 -2 29 -3.4 14 -2.2 6.1 -1.3 5.2 -1.5 4.7 -1.8 4 -2.4 4 -3.2 1 0.8 2 0.2 4 -0.9 6.1 -2.2 2.7 -1.5 0.9 -1 -2 -1 -9 -2 -0.7 -0.5 -0.2 -1 -0.8 -1.5 -1.1 -1 -4.9 -0.2 -2 -0.5 -2 0 -1 -0.4 -1 -0.1 -64 -0.6 -16 -0.5z"/>
<path fill="#e9915d" d="M454.2 492.5l80.8 -0.4 45 0.1 18.1 0.3 -1 20.5 -1.8 24.5 -5.6 55 -3 24 -3.5 19.5 -2.3 10 -4.2 14.5 -2 6 -2.2 5 -2.9 4.5 -3.6 4.2 -4 3.7 -5 3.5 -8 4.3 -9 3.6 -12.4 3.7 -13.6 3.3 -11 2 -8 1.1 -35.1 2.6 -19.3 1 -39.6 1.5 -76 1.7 -98 0.5 -120 0.1 0 -22.2 55 0.7 53 -0.4 33 -1.9 33 -3.9 9.6 -1.6 7.4 -1.6 58 -16.2 13 -4.3 8.8 -3.4 9.2 -4.3 8.3 -4.7 5.7 -4 4.8 -4 5.4 -5.5 3.7 -4.5 3.2 -4.5 3.8 -6.5 2.9 -6 3.7 -9 9.2 -27.5 2.5 -9 10 -50zM674 748.5l5 0 -0.5 0.5 -6.9 3 -6.6 3.5 -15 9.1 -7 4.9 -6 5.2 -4 4.2 -4.2 5.6 -4.4 7 -3.1 8.5 0.7 1.3 0.8 4.7 -0.9 0.5 0.1 0.5 3 2.8 3 2.1 5.3 2.1 8.1 2.5 -0.4 0.4 -17 -0.6 -31.9 -1.8 -15.1 -0.3 -9 -0.7 -12 -1.5 -12 -1.9 -8 -2.1 -2.7 -1 -0.5 -0.5 0 -7 0.7 -3.5 0.4 -8 2.2 -1.5 10.4 -5.5 11.5 -5.4 32 -11.5 11 -3.3 14 -3.7 15 -3.4 8 -1.5 20 -2.5zM312.5 822l132.5 -0.1 79 0.5 13.2 1.1 8 1 13.8 2.3 11 2.4 6.2 1.8 3.3 1.5 3.3 2.5 1.1 2.5 -2 2 -2.3 1.5 -4 2 -4.6 1.9 -5 1.9 -10.3 3.2 -15.2 4 -17.5 3.2 -14 2.2 -9 1 -19 1.3 -15 0.7 -17 0.2 -342 2.5 0 -7.9 88 -1.5 124 -1.2 15 -0.6 20.8 -1.9 28.2 -3.3 14.2 -2.2 6.8 -1.4 5 -1.5 4.2 -1.6 4.3 -2.5 3.5 -2.8 1 0.7 2 0.3 5 -1.1 7 -2.6 2.6 -1.5 0.9 -1 -0.9 -0.5 -3.3 -1 -8.3 -1.7 -0.5 -0.3 -0.2 -1 -0.8 -1.5 -1 -1 -6.5 -0.3 -1 -0.4 -2 0 -1 -0.5z"/>
<path fill="#e28d5a" d="M456.4 492.5l78.6 -0.4 44 0.1 18.4 0.3 -1 20.5 -1.8 24.5 -5.6 55 -3 24 -3.4 19.5 -2.2 9.5 -4.1 14.5 -2.2 6.5 -2.2 5 -2.6 4 -3.9 4.5 -3.4 3.2 -5.2 3.8 -7.4 4 -8.4 3.6 -11 3.4 -16 4 -11 2.1 -9 1.2 -36.4 2.7 -27.6 1.4 -31 1.1 -85 1.8 -207 0.5 0 -21.7 55 0.6 53 -0.4 33 -1.9 33 -3.8 10 -1.6 7.3 -1.5 58.2 -16 13.5 -4.4 8.3 -3.1 9.7 -4.4 8.2 -4.6 5.9 -4 4.9 -4 5.6 -5.5 3.8 -4.5 3.9 -5.5 3.8 -6.5 2.5 -5 3.3 -8 3.3 -9 6.3 -19.5 2.7 -9.5 9.9 -49.5zM674.8 748.5l3.7 0 -0.1 0.5 -6.9 3 -6.6 3.5 -16.9 10.3 -7 5.2 -5 4.5 -4 4.5 -4 5.6 -3.7 5.9 -0.9 2 -0.4 2 -2 4.5 1 2.1 0.7 3.9 -0.9 0.5 0 0.5 3.2 2.9 3 2.1 13 4.6 -2 0.3 -4 -0.2 -41.6 -2.2 -16.4 -0.3 -6 -0.5 -12 -1.3 -12.1 -1.9 -7.9 -1.7 -5 -1.8 0.1 -7.5 0.6 -3 0.3 -9 11.8 -6.5 11.2 -5.3 32 -11.5 13 -3.9 12 -3.1 15 -3.4 8 -1.5 21 -2.6zM313.1 822l131.9 0 79 0.5 13 1 7.7 1 14.3 2.4 10 2.3 6.3 1.8 3.6 1.5 3.4 2.5 1 2.5 -2.1 2 -3.3 2 -10.6 4.5 -12.3 4 -16 4.2 -17 3.1 -13 2 -9 1 -19 1.3 -16 0.7 -17 0.3 -341 2.4 0 -7.7 89 -1.5 123 -1.2 15 -0.5 21 -1.9 28 -3.3 14 -2.1 7 -1.4 5 -1.4 5 -2 3 -1.7 4 -2.9 1 0.6 2 0.2 5 -0.9 5.5 -1.8 3.5 -1.5 2.5 -1.5 0.6 -0.5 0 -0.5 -4.3 -1.5 -9.8 -2 -0.7 -2 -1.2 -1.5 -7.1 -0.3 -1 -0.4 -2 0 -1 -0.5z"/>
<path fill="#dc8958" d="M458.5 492.5l76.5 -0.3 42 0 19.7 0.3 -1 20.5 -1.8 24.5 -5.8 57.5 -2.7 21 -3.6 21 -2.1 8.5 -4 14.5 -2 6 -2.2 5 -2.9 4.5 -3.6 4.2 -4 3.7 -5 3.6 -8 4.2 -9 3.7 -12 3.6 -14 3.4 -10 1.9 -9 1.3 -38 2.9 -19.6 1 -37.4 1.4 -85 1.9 -207 0.5 0 -21.3 55 0.6 53 -0.4 34 -1.9 34 -4 10 -1.6 6 -1.3 16 -4.4 33 -8.6 14 -4.1 12 -4 8.3 -3.3 9.7 -4.6 7.6 -4.4 5 -3.5 5.9 -5 4.8 -5 4.1 -5 3.6 -5.2 3.5 -6.3 2.9 -6 2.8 -7 9.5 -28 2.6 -9.5 9.9 -49zM675.7 748.5l2.3 0 0.2 0.5 -6.8 3 -6.4 3.4 -17 10.3 -7 5.2 -5 4.5 -4 4.5 -4 5.5 -4.4 7.1 -0.6 2.1 -2.4 5.4 1.4 3.2 0.6 2.8 -0.9 0.5 -0.1 0.5 0.3 0.5 3 2.5 3 2 5.1 2 7.8 2.5 -1.8 0.3 -3 -0.1 -41.5 -2.2 -17.5 -0.4 -6 -0.5 -12 -1.3 -12 -1.9 -8.5 -1.9 -2.9 -1 -0.3 -0.5 0 -7.5 0.6 -2.5 0.4 -10 2.3 -1.5 8.5 -4.5 10.4 -5 32.5 -11.7 12 -3.7 13 -3.4 15 -3.4 9 -1.6 21 -2.6zM313.6 822l142.4 0 68 0.5 18 1.7 16 2.7 7.3 1.6 7.7 2 5 1.8 3.8 2.7 1 2 -0.1 0.5 -1.6 1.5 -3.1 2 -4.1 2 -7.3 3 -14 4.5 -13.1 3.5 -17.5 3.2 -13 2 -9 1.1 -19 1.3 -16 0.7 -17 0.2 -341 2.5 0 -7.6 90 -1.6 122 -1 15 -0.6 21 -1.9 29 -3.3 15 -2.3 6 -1.2 5 -1.5 4 -1.5 3 -1.7 4 -2.8 1 0.5 2 0.3 5 -0.9 8.8 -2.9 3.1 -1.5 2 -1.5 -0.1 -0.5 -2.6 -1 -12.7 -2.5 -0.6 -2 -1.2 -1.5 -7.7 -0.3 -1 -0.4 -2 0 -1 -0.5z"/>
<path fill="#d68555" d="M460.6 492.5l74.4 -0.3 41 0 20 0.3 -1 20.5 -1.8 24.5 -5.8 57.5 -2.6 21 -3.7 21 -1.9 8 -4.3 15.5 -1.8 5.5 -2.2 5 -2.9 4.4 -3.5 4.1 -3.8 3.5 -4.8 3.5 -8.4 4.5 -9.5 3.8 -13 3.9 -15 3.6 -10 1.8 -9 1.1 -41 3 -56 2.3 -80 1.8 -207 0.4 0 -20.8 55 0.6 53 -0.4 34 -1.9 34 -3.8 10 -1.6 6.3 -1.3 15.7 -4.3 31 -7.9 16 -4.5 12 -3.9 9 -3.5 10.5 -4.9 7.5 -4.3 5.3 -3.7 5.7 -4.7 5 -5.1 3.9 -4.7 4.2 -6 3.1 -5.5 2.9 -6 2.9 -7 2.8 -7.5 6.9 -21 2.4 -9 10.2 -49.5zM676.5 748.5l0.9 0 0.7 0.5 -6.9 3 -6.2 3.3 -16 9.7 -7 5 -5 4.4 -4 4.2 -4 5.2 -5.4 8.2 -3.4 8 1.8 4 0.4 2 -1.1 1 2.2 2 4.2 3 5.1 2 7.7 2.5 -3.5 0.2 -41.5 -2.2 -22.5 -0.8 -12 -1.2 -11 -1.7 -9 -1.8 -3.6 -1 -0.9 -0.5 0 -8 0.7 -3.5 0.4 -9 0.5 -1 11.2 -6 8.4 -4 32.3 -11.6 13 -4 13 -3.3 15 -3.4 8 -1.4 21 -2.6zM314.2 822l143.8 0.1 66 0.5 18 1.7 15.9 2.7 6.6 1.5 8.5 2.3 4.8 1.7 3.4 2.5 0.9 1 0.3 1 -1.9 2 -3.3 2 -11.2 4.9 -14.1 4.6 -12.9 3.5 -18 3.3 -13 2 -8 0.9 -19 1.3 -15 0.7 -17 0.3 -342 2.5 0 -7.5 90 -1.6 123 -1 14 -0.5 21 -1.9 28 -3.1 16 -2.4 6 -1.2 4.7 -1.3 4.3 -1.6 3 -1.6 4 -2.8 1 0.5 2 0.3 7 -1.3 8.9 -3 3 -1.5 1.8 -1.5 -0.3 -0.5 -1.1 -0.5 -3.5 -1 -11.6 -2 -0.4 -0.5 -0.4 -1.5 -1.1 -1.5 -8.3 -0.4 -1 -0.3 -2 0 -1 -0.5z"/>
<path fill="#cf8152" d="M462.8 492.5l72.2 -0.3 40 0 20.3 0.3 -1 19.5 -1.8 25 -5.7 57.5 -3 23.5 -3.3 19 -2.1 9 -3.8 13.5 -2 6 -2.1 5 -2.9 4.5 -3.6 4.2 -5 4.5 -4 2.8 -8 4.3 -9 3.7 -13.3 4 -14.7 3.5 -10 1.8 -9 1.2 -19 1.6 -23 1.5 -56.1 2.4 -78.9 1.7 -207 0.5 0 -20.4 55 0.6 53 -0.4 34 -1.8 34 -3.8 10 -1.5 6.8 -1.4 16.2 -4.4 30.8 -7.6 16.1 -4.5 12.1 -3.9 9 -3.4 10.3 -4.7 7.7 -4.3 5.5 -3.7 5 -4 4.7 -4.5 5.2 -6 4 -5.5 3.5 -6 3.2 -6.5 2.9 -7 2.6 -7 6.9 -21 2.6 -9.5 10.2 -49.5zM668.8 749l8.2 -0.5 1 0.5 -6.9 3 -6.6 3.5 -16.5 10 -4 2.8 -4 3.3 -6 5.7 -5 6.4 -5.7 8.3 -3.3 7.5 -0.1 0.5 2.1 4.6 0.3 1.4 -1.2 1 0.4 0.5 6.1 4.5 12.7 4.5 -2.3 0.2 -41.7 -2.2 -22.3 -0.7 -19.4 -2.3 -9.6 -1.7 -7.1 -1.8 -0.2 -8.5 0.6 -3 0.7 -9.5 0.7 -1.5 1.4 -1 4.6 -2.5 10 -5 8.3 -3.3 25 -8.9 11 -3.4 13 -3.6 15 -3.4 10 -1.9 17 -2.2zM314.8 822l145.2 0.1 64 0.5 18 1.7 16 2.9 6 1.4 8 2.1 5.1 1.8 3.6 2.5 0.9 1 0.3 1 -2.2 2 -3.2 2 -10.5 4.7 -14.7 4.8 -12.8 3.5 -17.5 3.3 -13 1.9 -8 0.9 -19 1.4 -15 0.7 -17 0.2 -342 2.6 0 -7.5 91 -1.5 122 -1 14 -0.5 21 -1.8 28.6 -3.2 15.4 -2.2 6.6 -1.3 4.4 -1.2 4.7 -1.8 2.7 -1.5 3.6 -2.4 3 0.7 5 -0.7 4 -1 8.9 -3.1 2.9 -1.5 1.7 -1.5 -1.7 -1 -3.5 -1 -12.3 -2.1 -0.8 -0.4 -0.4 -1.5 -0.9 -1.5 -8.9 -0.4 -1 -0.3 -2 0 -1 -0.6 -63 -0.6 -10 -0.5z"/>
<path fill="#c97d50" d="M464.9 492.5l70.1 -0.3 40 0 19.6 0.3 -1 19.5 -1.8 25 -5.7 57.5 -2.9 23.5 -3.3 19 -1.8 7.5 -4.2 15.5 -1.9 5.5 -2.2 5 -2.8 4.4 -3.5 4.1 -3.8 3.5 -4.8 3.5 -9.9 5.3 -9 3.5 -12 3.6 -15 3.5 -10 1.8 -8 1 -19 1.7 -24 1.7 -23 1.2 -33.8 1.2 -75.2 1.7 -209 0.5 0 -20 55 0.6 54 -0.4 33 -1.8 20 -2 16 -1.9 9 -1.4 6.3 -1.3 15.7 -4.1 31 -7.6 17 -4.6 12 -3.8 9.1 -3.4 10 -4.5 8.2 -4.5 6 -4 5.6 -4.5 5.1 -5 4 -4.5 4 -5.5 3.6 -6 3.2 -6.5 2.9 -7 2.7 -7 6.9 -21 2.7 -9.5 10.4 -50 2.2 -13zM669.5 749l7.5 -0.4 0.8 0.4 -6.8 3 -6.6 3.5 -16.4 9.9 -4 2.8 -4 3.3 -6 5.7 -4.6 5.8 -5.4 8 -0.8 0.5 -3.3 7.5 -0.4 1 2.5 5.1 0.2 0.9 -1.4 1 0.4 0.5 6.2 4.5 12.6 4.5 -2 0.2 -41 -2.2 -23 -0.8 -11 -1.1 -9 -1.3 -9.9 -1.8 -5.2 -1.5 0 -8.5 0.6 -2.5 0.8 -9.5 0.7 -2 0.9 -1 3.2 -2 10.8 -5.5 8.1 -3.2 25 -8.9 9.1 -2.9 13.9 -3.8 17 -4 9 -1.7 18 -2.3zM315.4 822l142.6 0.1 65 0.5 17 1.5 8.5 1.4 12.4 2.5 7.8 2 8.3 2.8 3.2 2.2 1 1 0.4 1 -2.6 2 -3 1.8 -10.3 4.7 -15 5 -12.7 3.5 -17 3.2 -13 2 -8 0.9 -19 1.3 -15 0.7 -17 0.3 -342 2.5 0 -7.3 92 -1.5 121 -0.9 14 -0.5 22 -1.9 27 -3 16 -2.2 7 -1.4 4 -1.1 4.5 -1.6 2.9 -1.5 3.6 -2.4 3 0.7 5 -0.6 9.7 -2.7 6.3 -2.5 2.4 -1.5 0.8 -1 -1.8 -1 -3.6 -1 -13.8 -2.3 -0.3 -0.2 -0.4 -1.5 -0.9 -1.5 -9.4 -0.4 -1 -0.3 -2 -0.1 -1 -0.5 -64 -0.7 -4 -0.5z"/>
<path fill="#c27a4d" d="M467 492.5l68 -0.3 58.9 0.3 -1 19.5 -1.8 25 -5.7 57.5 -2.8 23 -3.3 19 -2.1 9 -3.6 13.5 -2 6 -2.1 5 -2.9 4.5 -3.9 4.5 -4.7 4.2 -4 2.8 -8 4.3 -9 3.8 -13 3.9 -15 3.7 -10 1.8 -9 1.1 -42 3.4 -30.5 1.5 -28.5 1 -73 1.6 -209 0.6 0 -19.6 55 0.6 55 -0.4 32 -1.7 21 -2.1 16 -1.9 10 -1.6 6 -1.3 14 -3.6 35.7 -8.6 14.5 -4 10.8 -3.4 10 -3.7 9.9 -4.4 8.2 -4.5 4.9 -3.2 6.2 -4.8 5.2 -5 5.3 -6 3.9 -5.5 3.8 -6.5 2.8 -6 3.5 -8.5 9.1 -27 2.8 -10.5 10 -48 2.3 -14zM670.1 749l6.9 -0.3 0.7 0.3 -6.9 3 -4.8 2.5 -16 9.6 -7 4.8 -5 4.2 -4 4 -5 6.3 -4 6 -1 1.3 -1.2 0.8 -3.7 8.5 2.9 5.8 -1 1.1 -0.5 0.1 1.6 1.5 5.2 3.5 12.4 4.5 -1.7 0.2 -10 -0.5 -31 -1.7 -23 -0.9 -11 -1.1 -9 -1.3 -11 -2.1 -2.4 -0.6 -0.5 -0.5 0.1 -8.5 0.6 -3 0.7 -9 0.6 -1.5 1.4 -2 1.3 -1 4.3 -2.5 7.1 -3.5 7.8 -3.1 25 -9 9.4 -2.9 13.6 -3.8 17 -3.9 9 -1.7 18 -2.3zM349.9 822.5l2.1 -0.3 7 -0.1 63 0 75 0.2 27 0.4 16 1.5 20.3 3.8 10.9 3 5.8 2.1 2.7 1.9 1.6 2 -5.4 3.5 -10.9 5 -14.9 5 -12.1 3.4 -17 3.2 -13 2 -8 0.9 -19 1.4 -16 0.7 -16 0.3 -342 2.5 0 -7.2 92 -1.5 122 -0.9 14 -0.5 21 -1.8 27.1 -3 14.9 -2 8 -1.4 5 -1.4 4 -1.5 6 -3.5 3 0.5 5 -0.5 11.9 -3.2 6.1 -2.5 2.3 -1.5 0.6 -1 -2 -1 -3.6 -1 -15.1 -2.5 -0.2 -1 -1.1 -2 -9.9 -0.4 -1 -0.4 -2 0 -1 -0.5 -1 0z"/>
<path fill="#bc764b" d="M469.2 492.5l88.8 -0.3 35.2 0.3 -1 19.5 -1.7 24.5 -5.7 57.5 -2.9 23.5 -3.2 19 -1.7 7.5 -4.2 15.5 -1.8 5.5 -2.2 5 -2.8 4.4 -3.5 4.1 -5 4.5 -4.3 3 -9.2 4.8 -9 3.6 -15 4.4 -14 3.2 -9 1.6 -9 1 -21 1.9 -22 1.6 -28 1.3 -28 1.1 -73 1.6 -209 0.6 0 -19.2 55 0.6 55 -0.4 33 -1.7 36 -3.9 10 -1.5 6 -1.2 15 -3.8 35 -8.3 15 -4 13 -4.1 8.6 -3.2 10.4 -4.6 8 -4.4 6.6 -4.5 5.6 -4.5 5.1 -5 4.3 -5 4.6 -6.5 2.9 -5 2.9 -6 3.4 -8.5 9.2 -27 2.8 -10.5 10.1 -48 2.3 -13.5zM670.8 749l5.2 -0.3 1.5 0.3 -6.8 3 -4.8 2.5 -15.9 9.5 -6 4.1 -6 4.9 -4 4 -4.8 6 -4.2 6.2 -2.6 2.3 -3.7 8.5 3 6 -0.7 0.8 -0.8 0.2 1.7 1.5 5.3 3.5 12.2 4.5 -13.4 -0.4 -34 -1.9 -17 -0.5 -18.8 -2.2 -9.2 -1.6 -5.6 -1.4 0 -9 0.5 -2.5 1 -9.5 0.6 -1.5 2.5 -3.5 4.3 -2.5 5.7 -2.8 6 -2.5 27.1 -9.7 11.9 -3.7 12 -3.2 16 -3.7 9 -1.8 18 -2.3zM351.4 822.5l12.6 -0.4 62 0 73 0.3 25 0.3 16 1.5 19 3.6 11.5 3.2 6.5 2.3 2.8 2.2 1.2 1.5 -1.3 0.5 -4.5 3 -10.2 4.7 -15.5 5.3 -11.5 3.3 -18 3.4 -13 2 -7 0.8 -20 1.4 -15 0.7 -17 0.2 -341 2.6 0 -7.1 93 -1.5 121 -0.9 14 -0.5 21 -1.8 25 -2.6 19 -2.5 5 -0.9 6 -1.5 3 -1.1 3.3 -1.5 3.7 -2.3 3 0.5 5 -0.4 12 -3.1 7 -2.7 2 -1.1 1.6 -1.4 -0.1 -0.5 -0.8 -0.5 -4.9 -1.5 -6.8 -1.3 -9.1 -1.2 -1.5 -3 -10.4 -0.5 -1 -0.3 -2 0 -1 -0.5 -1 -0.1z"/>
<path fill="#b67248" d="M471.3 492.5l63.7 -0.3 57.5 0.3 -1 19 -1.7 24.5 -3.3 32 -2.4 26 -2.8 23 -3.1 19 -2.1 9 -3.6 13.5 -1.9 6 -2.2 5 -2.8 4.5 -3.9 4.5 -4.7 4.3 -4 2.8 -9.3 4.9 -8.7 3.5 -15 4.5 -14 3.2 -9 1.6 -9 1.1 -23.1 2.1 -21.9 1.6 -54 2.3 -73 1.7 -209 0.6 0 -18.8 55 0.6 55 -0.4 33 -1.7 21 -2 16 -1.9 9 -1.3 6 -1.2 50.9 -12 15.1 -4 13 -4 9.4 -3.5 9.6 -4.2 8.8 -4.8 7.2 -4.9 5 -4 6 -6 3.9 -4.6 3.9 -5.5 3.8 -6.5 3 -6.5 3.2 -8 9.1 -27 3.1 -12 9.7 -46 2.3 -13.5zM671.5 749l4.5 -0.2 1.4 0.2 -6.8 3 -4.9 2.5 -15.7 9.4 -6 4.1 -6 5 -4 3.9 -4.9 6.1 -4.1 6 -3 2.5 -3.6 8.5 3 6 -0.4 0.7 -1 0.4 1.6 1.4 5.4 3.5 12.2 4.5 -18.2 -0.7 -30 -1.7 -16 -0.5 -19 -2.2 -10.3 -1.9 -2.2 -0.5 -0.9 -0.5 0 -9 0.6 -3 0.9 -9 0.9 -1.7 1.8 -2.3 1.2 -2 8 -4.2 5 -2.1 28.3 -10.2 11.7 -3.6 12 -3.3 15 -3.4 10 -2 19 -2.5zM352.8 822.5l16.2 -0.4 61 0 72 0.3 22 0.3 16 1.6 19 3.7 11 3.1 6.7 2.4 2 1.5 1.9 2 -1.6 0.5 -2.8 2 -3.7 2 -7.5 3.4 -11.4 4.1 -15.6 4.7 -17.4 3.3 -13.6 2.1 -7 0.8 -20 1.5 -15 0.6 -17 0.3 -341 2.5 0 -6.9 93 -1.5 121 -0.8 14 -0.5 21 -1.8 27 -2.9 16 -2 7 -1.2 8 -2.3 4 -1.8 3 -1.9 3 0.5 5 -0.4 13.2 -3.3 7.8 -3 2.3 -1.5 1 -1 -0.2 -0.5 -0.8 -0.5 -4.9 -1.5 -8.3 -1.5 -8.1 -1 -1 -0.5 -1 -2.5 -11 -0.5 -1 -0.3 -2 0 -1 -0.5 -1 -0.1z"/>
<path fill="#af6e46" d="M473.5 492.5l61.5 -0.3 56.8 0.3 -1 19 -1.8 25 -3.2 31 -2.6 28.5 -2.9 23.5 -3.1 18.5 -5.4 21 -1.8 5.5 -2.2 5 -2.8 4.4 -3.5 4.1 -3.7 3.5 -5.6 4 -9.2 4.9 -9 3.6 -15 4.4 -13.2 3.1 -9.8 1.7 -10.9 1.3 -23.1 2.1 -20 1.4 -31 1.6 -26.4 0.9 -68.6 1.5 -209 0.6 0 -18.2 55 0.5 55 -0.4 33 -1.7 37 -3.7 10 -1.5 6 -1.2 50 -11.5 16 -4.2 13 -3.9 9 -3.3 10 -4.3 8.8 -4.7 6.2 -4 6 -4.7 6.6 -6.3 3.9 -4.5 3.9 -5.5 3.9 -6.5 2.6 -5.5 3.7 -9 9.2 -27 3.2 -12.5 9.7 -46 2.4 -14zM672.2 749l5.1 0 -6.8 3 -4.9 2.5 -15.6 9.4 -6.2 4.1 -4.8 4 -5 4.8 -4 4.8 -5 7.2 -3.4 2.7 -3.6 8.5 3 6 0 0.6 -1.2 0.4 0.2 0.3 2.8 2.2 4.1 2.5 11.8 4.5 -18.7 -0.8 -29 -1.6 -15 -0.5 -17 -1.8 -15 -2.8 -0.2 -9.5 0.6 -3 1.1 -9 0.7 -1.5 1.6 -2 2.2 -3.5 5.8 -3 5.2 -2.2 28.6 -10.3 10.4 -3.2 13 -3.6 15 -3.5 10 -2 20 -2.5zM354.3 822.5l20.7 -0.4 59 0.1 71 0.2 19 0.4 16 1.5 19 3.9 11 3.1 6 2.2 1.7 1 2.5 2.5 -1.8 0.5 -4.7 3 -8.7 4.2 -12 4.3 -15 4.6 -17 3.2 -13.4 2.2 -7.6 0.9 -20 1.4 -15 0.7 -17 0.3 -341 2.5 0 -6.8 94 -1.5 121 -0.8 13 -0.5 22 -1.8 25 -2.6 17 -2.1 7 -1.1 8 -2.3 4 -1.8 3 -1.8 3 0.4 5 -0.3 14 -3.4 7.9 -2.9 2.6 -1.5 1.5 -1.5 -1.2 -1 -4.9 -1.5 -8.2 -1.5 -9.7 -1.3 -0.5 -0.2 -0.6 -2 -0.4 -0.5 -0.5 -0.1 -11 -0.4 -1 -0.3 -2 0 -1 -0.6 -1 0z"/>
<path fill="#a96a43" d="M475.6 492.5l59.4 -0.3 56.1 0.3 -1 19 -1.8 25 -3.2 31 -2.5 28.5 -2.8 23 -3.2 18.5 -5.5 22 -1.9 5.5 -2 4.5 -2.6 4 -3.8 4.5 -5.1 4.5 -4.4 3 -8.4 4.5 -8.9 3.6 -15 4.5 -14 3.3 -9 1.6 -11 1.3 -26 2.4 -17.9 1.3 -30.1 1.5 -27 1 -68 1.5 -209 0.6 0 -17.8 55 0.5 56 -0.4 35 -1.8 22 -2.1 15 -1.8 11 -1.8 44.3 -9.9 13.7 -3.2 14.2 -3.8 11.8 -3.7 11.5 -4.3 9.8 -4.5 7.1 -4 6.6 -4.5 5.4 -4.5 6.5 -6.5 4.1 -5 6 -9.5 2.7 -5.5 4.3 -10.5 8.6 -25.5 3.3 -12.5 9.9 -46.5 2.4 -14zM672.9 749l4.2 0 -11.6 5.5 -13.5 8 -8 5.3 -5 4.1 -4 3.7 -3.8 4.4 -6.2 8.5 -3.8 3 -3.6 8.5 3.3 6.5 -1.2 0.5 0.2 0.5 2.7 2 4.2 2.5 10.9 4 0.4 0.5 -47.1 -2.5 -15 -0.4 -17 -1.9 -9.8 -1.7 -4.2 -1 0.1 -9.5 1.7 -12 0.8 -1.5 1.6 -2 2.8 -4.5 3 -1.5 6 -2.6 28 -10.1 11 -3.5 13 -3.5 15 -3.5 10 -2 23 -2.9zM355.9 822.5l22.1 -0.3 52 0 93 0.5 17 1.7 19 3.9 10.8 3.2 5.4 2 1.8 0.8 2.8 2.7 -2 0.5 -4.8 3 -8.2 4 -13.9 5 -12.9 4 -17 3.3 -13.9 2.2 -7.1 0.8 -20 1.5 -15 0.7 -17 0.2 -341 2.6 0 -6.7 95 -1.5 120 -0.7 13 -0.5 22 -1.8 25 -2.6 10 -1.4 9 -0.9 6 -1 7.6 -2.2 3.4 -1.5 3 -1.8 3 0.4 5 -0.2 8.6 -1.9 7.5 -2 4.4 -1.5 3.4 -1.5 2.4 -1.5 1.4 -1.5 -0.4 -0.5 -2.3 -1 -4 -1.1 -7.7 -1.4 -11.3 -1.5 -0.6 -2 -0.4 -0.5 -1 -0.1 -11 -0.4 -3 -0.3 -1 -0.6 -1 0z"/>
<path fill="#a36641" d="M477.7 492.5l57.3 -0.3 55.4 0.3 -1.1 20 -1.7 24 -3 29.5 -2.6 28.8 -2.9 24.2 -3.1 18.5 -5.6 22 -2.2 6.5 -1.9 4 -2.4 3.5 -4.9 5.5 -4.8 4 -4.6 3 -7.7 4 -10.2 4 -13.5 4 -13.2 3.1 -10.8 1.9 -9.2 1.1 -26 2.5 -19 1.4 -50 2.2 -74 1.8 -209 0.6 0 -17.4 55 0.5 56 -0.4 35 -1.8 22 -2 15 -1.7 11.2 -1.8 44.8 -9.8 14 -3.2 14 -3.7 12.4 -3.8 11.6 -4.4 9.1 -4.1 6.9 -3.7 6 -3.9 7 -5.6 4.5 -4.3 4.9 -5.5 3.3 -4.5 4 -6.5 2.7 -5.5 4.2 -10 8.8 -26 3.7 -14 9.9 -46 2.3 -14zM673.6 749l3.3 0 -7.7 3.5 -4.7 2.5 -15.5 9.3 -7 5 -4.9 4.2 -3.1 3.1 -4.1 4.9 -3.4 4.5 -0.5 1 -5.2 4.5 -3.6 8.5 3.3 6.5 -0.9 0.5 0 0.5 2.7 2 4.3 2.5 10.9 4 -0.5 0.3 -15 -0.5 -30.3 -1.8 -15.7 -0.5 -17.8 -2 -11 -2 -0.9 -0.5 0 -9.5 1.9 -12 5.5 -8.5 4.8 -2.5 31.5 -11.5 12 -3.7 13 -3.5 14 -3.2 10 -1.9 22 -2.7zM357.5 822.5l23.5 -0.3 53 0 89 0.6 17 1.7 18 3.7 11.1 3.3 5.4 2 2.5 1.1 2.4 2.4 -2.3 0.5 -4.8 3 -8.2 4 -13.7 5 -12.4 3.9 -18 3.5 -13.3 2.1 -6.7 0.8 -20 1.4 -15 0.7 -17 0.3 -341 2.6 0 -6.7 95 -1.4 120 -0.7 14 -0.5 21 -1.8 25 -2.5 10 -1.4 9 -0.8 6 -1 8 -2.3 6 -3 3 0.3 5 -0.1 9 -1.9 8 -2.1 4.3 -1.4 4.5 -2 2.4 -1.5 1.2 -1.5 -2.8 -1.5 -5.8 -1.5 -7.8 -1.3 -10.3 -1.2 -1.3 -2.5 -1.4 -0.2 -11 -0.4 -3 -0.2 -1 -0.6 -1 0z"/>
<path fill="#9c623e" d="M479.9 492.5l55.1 -0.3 54.7 0.3 -0.7 13.6 -2 29.2 -3.5 33.7 -2.5 28.8 -3 24.2 -2.9 17 -5.1 20 -2 5.8 -2 4.5 -2.8 4.2 -4.5 5 -4 3.5 -5.7 3.8 -7 3.7 -9 3.7 -12.4 3.8 -16.4 4 -11.8 2 -9.4 1.1 -25.1 2.4 -20.2 1.5 -47.7 2.2 -74 1.7 -209 0.7 0 -17 55 0.5 56 -0.4 35 -1.7 37 -3.7 11 -1.6 40.4 -8.7 18.6 -4.1 15 -3.9 12 -3.6 12 -4.4 10 -4.5 7 -3.8 7 -4.6 5.1 -4.1 4.9 -4.5 5 -5.5 4 -5.5 3.7 -6 2.7 -5.5 4 -9.5 9 -26.5 3.7 -14 9.9 -46 2.4 -14zM674.4 749l2 0 -0.6 0.5 -6.7 3 -5.1 2.7 -15 9 -7 5 -5 4.3 -3.9 4 -6.7 8.5 -0.4 0.8 -5.6 4.7 -3.5 8.5 3.2 6.5 -0.8 1 2 1.5 5.2 3 10.9 4 -0.4 0.2 -6 0 -38.5 -2.2 -16.5 -0.5 -18 -2.1 -10.2 -1.9 -0.3 -0.5 0 -9.5 2 -12 5.8 -9 3.4 -2 31.3 -11.4 11 -3.4 13 -3.6 15 -3.4 10 -1.9 23 -2.9zM359.1 822.5l22.9 -0.3 55 0.1 86 0.5 17 1.7 18 3.9 10.4 3.1 5.6 2.1 3 1.3 2.1 2.1 -2.6 0.5 -4.8 3 -8.3 4 -13.5 5 -11.9 3.7 -18 3.6 -13.8 2.2 -6.2 0.7 -21 1.5 -15 0.7 -16 0.2 -341 2.6 0 -6.5 96 -1.4 120 -0.7 13 -0.5 22 -1.8 23.2 -2.3 10.8 -1.5 7 -0.5 8 -1.2 7 -1.8 3 -1.2 4 -2.1 3 0.3 5 -0.2 11 -2.2 8 -2.1 4.4 -1.5 4.3 -2 2.3 -1.5 1 -1 0 -0.5 -2.9 -1.5 -5.8 -1.5 -8.3 -1.4 -10 -1.1 -1.1 -0.5 -1 -2 -0.9 -0.1 -12 -0.5 -3 -0.3 -1 -0.5 -4 -0.2z"/>
<path fill="#965e3c" d="M482 492.5l53 -0.2 53.8 0.2 -1 20 -1.8 24.9 -2.9 28.1 -2.7 30 -2.7 23 -3.2 19.5 -5.4 21.5 -2.1 6 -2 4.2 -2.2 3.3 -4.9 5.5 -4.8 4 -4.6 3 -7.7 4 -9.8 3.9 -13.6 4.1 -13.4 3.2 -10 1.8 -12.5 1.5 -24.5 2.4 -21 1.6 -46 2.1 -74 1.8 -209 0.7 0 -16.6 55 0.5 56 -0.4 35 -1.7 23 -2 15 -1.7 11.3 -1.7 44.7 -9.4 14 -3 14.1 -3.6 12.9 -3.8 11.6 -4.2 10.4 -4.5 6.6 -3.5 7.4 -4.7 6 -4.7 6.4 -6.1 3.9 -4.5 3.4 -4.5 3.7 -6 3 -6 3.8 -9 9.1 -26.5 3.7 -14 10 -46 2.5 -15zM667.3 749.5l7.7 -0.5 0.7 0.5 -5.7 2.5 -5.7 3 -14.3 8.5 -6 4 -5 4.1 -4 3.7 -4.1 4.7 -4.9 6.5 -5.7 4.5 -0.3 0.5 -3.5 8.5 3.2 6.5 -0.8 1 2.1 1.5 5.4 3 10.8 4 -0.2 0.1 -2 0.2 -42 -2.3 -16 -0.5 -16 -1.7 -12.3 -2.3 0 -10 2 -11.5 0.7 -1.5 1.6 -2 4.4 -7 1.5 -1 31.1 -11.3 11 -3.4 12 -3.4 16 -3.7 9 -1.7 17 -2.3zM360.8 822.5l22.2 -0.3 58 0.1 82 0.5 17 1.8 18 3.9 9.8 3 6.2 2.3 3 1.5 1.6 1.7 -2.7 0.5 -7.7 4.5 -7.9 3.5 -11 4 -11.3 3.6 -18 3.6 -14.2 2.3 -5.8 0.7 -21 1.5 -15 0.7 -16 0.2 -341 2.6 0 -6.4 96 -1.4 120 -0.6 13 -0.5 21 -1.7 24 -2.4 11 -1.4 9.7 -0.8 5.3 -0.8 7 -1.8 3 -1.2 4 -2 8 0.1 11 -2.1 8.7 -2.2 4.5 -1.5 3.8 -1.6 3.2 -1.9 1.5 -1.5 -0.1 -0.5 -1.6 -1 -7.1 -2 -9.3 -1.5 -10.6 -1.2 -0.7 -0.3 -0.8 -2 -1.5 -0.2 -12 -0.4 -3 -0.3 -1 -0.6 -4 -0.1z"/>
<path fill="#8f5a39" d="M484.1 492.5l50.9 -0.2 53 0.2 -1 19 -1.7 23.5 -3.2 32 -2.4 28 -2.9 25 -3 18 -5.1 20.5 -1.8 5.5 -2 4.5 -2.6 4 -4.8 5.5 -4 3.5 -5.5 3.6 -7.3 3.9 -8.7 3.6 -14.2 4.4 -14.3 3.5 -8.5 1.6 -11 1.4 -29.6 3 -19.4 1.5 -45 2.1 -74 1.7 -209 0.8 0 -16.2 55 0.5 56 -0.4 35 -1.6 38 -3.6 11 -1.6 41 -8.4 19 -4.1 14 -3.5 12.9 -3.7 11.4 -4 10.7 -4.6 7.5 -3.9 7.1 -4.5 5.9 -4.5 4.9 -4.5 5.5 -6 4.1 -5.5 3.1 -5 3 -6 4.1 -9.5 9.4 -27.5 4 -15.5 9.6 -44.5 2.6 -15.5zM667.8 749.5l7.2 -0.4 0.6 0.4 -5.7 2.5 -5.7 3 -14.2 8.5 -6 4 -5 4 -5 4.8 -8 9.8 -6.2 4.9 -3.7 9 3.3 6.5 -0.8 1 2.1 1.5 5.5 3 10.8 4 -2 0.3 -42 -2.3 -16 -0.5 -17 -2 -8.8 -1.5 -1.3 -0.5 0 -10 2.1 -11.5 0.7 -1.5 7 -10 3.3 -1.4 1 -0.2 26 -9.7 11 -3.4 13 -3.5 15 -3.5 9 -1.8 17 -2.2zM362.5 822.5l20.5 -0.3 62 0.1 78 0.6 17 1.8 18 4 9.1 2.8 6.7 2.5 3 1.5 1.4 1.5 -3 0.5 -7.6 4.5 -7.6 3.4 -11.2 4.1 -10.8 3.5 -18 3.6 -14 2.3 -6 0.7 -21 1.6 -15 0.6 -16 0.3 -341 2.6 0 -6.3 97 -1.4 120 -0.6 13 -0.5 21 -1.7 23 -2.3 11 -1.4 9 -0.6 7 -1.1 7 -1.9 6 -2.7 1 -0.2 2 0.3 5 0 11 -2.1 9.3 -2.2 4.7 -1.5 4.7 -2 3.3 -2 1.4 -1.5 -0.2 -0.5 -1.7 -1 -7 -2 -9.1 -1.5 -12.4 -1.4 -0.9 -2.1 -2.1 -0.3 -12 -0.4 -3 -0.2 -1 -0.6 -4 -0.1z"/>
<path fill="#895637" d="M486.3 492.5l48.7 -0.2 52.1 0.2 -1 19 -1.6 23.5 -3.2 31.5 -2.4 28.5 -2.9 24.5 -2.9 18 -5 20.5 -2 6 -2.3 5 -2.7 4 -4.5 5 -4.8 4 -4.6 3 -8.7 4.5 -8.5 3.4 -13 3.9 -14 3.5 -11 1.9 -10 1.2 -28 3 -19 1.4 -45 2.2 -74 1.8 -209 0.7 0 -15.7 59 0.5 53 -0.4 35 -1.7 23 -1.9 16.7 -1.8 10.3 -1.6 44 -8.8 14.7 -3.1 14.3 -3.5 13 -3.7 12 -4.2 10 -4.2 8.5 -4.4 6.4 -4 5.9 -4.5 6.6 -6 4.9 -5.5 3.4 -4.5 3.4 -5.5 3 -6 3.9 -9 9.4 -27.5 4.1 -15.5 9.8 -45 2.5 -14.5zM668.3 749.5l5.7 -0.3 1 0 0.5 0.3 -5.7 2.5 -5.8 3 -12.6 7.5 -7.4 4.9 -5.1 4.1 -4.9 4.7 -3.3 3.8 -2.7 3.6 -0.6 0.4 -0.4 1 -7.6 6 -3.7 9 3.3 6.5 0.1 0.5 -0.7 0.5 3.6 2.4 4.1 2.1 10.7 4 -1.8 0.2 -43 -2.3 -15 -0.5 -17 -1.9 -8.3 -1.5 -0.6 -0.5 0.1 -10 2.1 -11.5 7.3 -11 1.3 -1 5.1 -1.7 12.9 -5.3 10.1 -3.7 11 -3.4 13 -3.6 15 -3.4 9 -1.8 17 -2.3zM364.3 822.5l18.7 -0.2 65 0.1 75 0.5 17 1.8 18 4.1 13.9 4.7 4.1 1.8 1.9 1.7 -3.3 0.5 -7.6 4.5 -5.5 2.5 -13.2 5 -10.3 3.4 -17.8 3.6 -14.2 2.4 -6 0.7 -21 1.5 -15 0.7 -16 0.2 -341 2.7 0 -6.2 98 -1.4 119 -0.6 13 -0.5 21 -1.6 24 -2.3 10 -1.4 12 -0.9 9 -1.9 9 -3.5 2 0.3 5 0.1 10 -1.8 10 -2.3 7.1 -2.2 6.4 -3 1.9 -1.5 0.7 -1 -0.3 -0.5 -1.8 -1 -6.8 -2 -9.1 -1.5 -13.6 -1.5 -0.7 -1 -0.2 -1 -1.6 -0.2 -16 -0.7 -1 -0.6 -4 -0.2z"/>
<path fill="#835234" d="M488.4 492.5l46.6 -0.2 51.3 0.2 -1 18.5 -1.7 24 -3.2 31.5 -2.3 28 -2.8 25 -2.9 18 -4.9 20 -1.9 6 -2.5 5.5 -3.3 4.5 -3.6 4 -4.1 3.5 -5.2 3.5 -7.4 4 -8.5 3.5 -14.1 4.5 -13.9 3.5 -9 1.6 -11 1.5 -29 3.1 -17 1.4 -47 2.3 -74 1.9 -209 0.7 0 -15.3 59 0.5 53 -0.4 35 -1.6 24 -2 16 -1.7 11 -1.7 48 -9.4 10 -2.1 15 -3.6 13 -3.7 11.8 -4 10.2 -4.2 9.4 -4.8 5.7 -3.5 6.1 -4.5 6.8 -6.1 4.9 -5.4 2.4 -3 4.3 -6.5 2.6 -5 4.6 -10.5 9.6 -28 4.4 -17 9.6 -43.5 2.5 -15zM668.9 749.5l5.1 -0.3 1.4 0.3 -5.7 2.5 -5.8 3 -12.6 7.5 -7.3 4.8 -5.2 4.2 -3.8 3.6 -3.2 3.4 -4.8 6.1 -8 6.4 -3.6 9 3.5 7 -0.8 0.5 3.8 2.5 4.1 2 10.7 4 -1.7 0.2 -43 -2.4 -15 -0.5 -14 -1.5 -10.6 -1.8 0 -10.5 2.3 -11.5 8 -11.5 7.3 -2.7 12.9 -5.8 6.8 -2.5 10.3 -3.2 13.6 -3.8 15.4 -3.6 9 -1.8 18 -2.4zM366 822.5l17 -0.2 69 0.1 71 0.6 17 1.8 18 4.2 13.3 4.5 4.7 2.1 1.5 1.4 -3.4 0.5 -5.8 3.5 -5 2.5 -11.3 4.5 -14 4.8 -18.2 3.7 -13.8 2.3 -6 0.7 -21 1.6 -15 0.6 -16 0.3 -341 2.6 0 -6 98 -1.4 119 -0.5 13 -0.5 21.7 -1.7 21.3 -2 12 -1.5 13 -1 9 -2 8 -3.2 2 0.3 5 0.1 12 -2.1 9.5 -2.1 7.8 -2.5 5.7 -2.8 2.3 -1.7 0.7 -1 -1.3 -1 -2.3 -1 -5.6 -1.5 -8.9 -1.5 -14.9 -1.7 -1 -1.8 -1 -0.2 -17 -0.7 -1 -0.6 -3 -0.2z"/>
<path fill="#7c4e31" d="M490.5 492.5l44.5 -0.2 50.4 0.2 -2.6 42 -3.2 31.5 -2.3 28.5 -2.7 24.5 -2.9 18 -4.9 20.5 -1.8 5.5 -2.5 5.5 -3.5 5 -3.7 4 -3.5 3 -5.8 3.9 -8.8 4.6 -8.2 3.3 -13 4 -14 3.5 -8 1.5 -11 1.5 -29 3.3 -17.1 1.4 -46.9 2.4 -74 1.8 -209 0.8 0 -14.8 59 0.4 53 -0.4 35 -1.5 24 -2 16 -1.6 11 -1.7 44 -8.4 15 -3 15 -3.5 13 -3.7 12 -4 10 -4 10.4 -5.3 4.9 -3 6.2 -4.5 7.4 -6.5 4.6 -5 3.5 -4.5 3.3 -5 2.9 -5.5 4.5 -10.5 9.6 -27.5 4.4 -17 9.7 -44 2.6 -15zM669.5 749.5l4.5 -0.2 1.3 0.2 -5.7 2.5 -5.8 3 -12.6 7.5 -7.2 4.7 -4.2 3.3 -4.8 4.5 -3.4 3.5 -2.6 3.5 -0.7 0.5 -0.3 0.7 -9.4 7.8 -3.6 9 3.5 7 -0.6 0.5 0.1 0.2 3.6 2.3 4.1 2 10.8 4 -1.5 0.2 -8 -0.4 -35 -2 -15 -0.5 -14 -1.5 -7.9 -1.3 -1.5 -0.5 0 -10.5 2.2 -11 0.7 -1.5 6.8 -9.5 0.7 -0.7 9 -3.5 13 -6.3 3.9 -1.5 10.1 -3.2 13 -3.6 15 -3.5 10 -2 18 -2.4zM367.8 822.5l80.2 -0.1 74 0.5 18 1.9 11.7 2.7 7.3 1.9 9 3.1 7.2 3 2 1.5 -3.8 0.5 -8.4 5 -2.3 1 -11.2 4.5 -13.5 4.7 -18.6 3.8 -14.4 2.4 -6 0.7 -21 1.5 -14 0.6 -16 0.2 -341 2.7 0 -5.9 99 -1.4 118 -0.5 13 -0.5 21 -1.6 22 -2 12 -1.5 12 -0.8 5 -0.8 4.6 -1.1 3.4 -1.1 5 -2.2 2 0.4 5 0.1 12.9 -2.2 9.1 -2 8.2 -2.5 5.5 -2.5 3.1 -2 1.1 -1 0 -0.5 -1.5 -1 -5.7 -2 -11 -2 -15.7 -1.7 -0.9 -0.3 -0.6 -1.5 -1.5 -0.3 -17 -0.6 -1 -0.7 -3 -0.1z"/>
<path fill="#764a2f" d="M492.7 492.5l42.3 -0.2 49.6 0.2 -2.6 42 -3.2 31.5 -2.5 30.5 -2.8 24.5 -2.8 17.5 -4.7 19.5 -2 5.7 -2.2 4.8 -3.3 4.5 -4.7 5 -5.7 4.5 -4.2 2.5 -8.9 4.5 -9 3.4 -13.7 4.1 -12.3 2.9 -10 1.8 -25 3 -18 1.9 -15 1.1 -47.1 2.3 -70.9 1.7 -207 0.8 0 -14.4 60 0.4 53 -0.4 34 -1.5 24 -1.9 17 -1.7 10.3 -1.5 48.7 -9.1 11 -2.2 15 -3.5 13 -3.6 12 -3.9 10.5 -4.2 10 -5 5.5 -3.3 6 -4.3 7 -6.1 5.1 -5.3 3.2 -4 3.7 -5.5 2.9 -5.5 4.6 -10.5 9.6 -27.5 4.6 -17.5 6.4 -28 3.4 -16 2.6 -15.5zM670.3 749.5l4.9 0 -5.7 2.5 -5.8 3 -11.9 7 -6.9 4.5 -5.2 4 -4.9 4.5 -3.3 3.5 -3.5 4.5 -5.2 4 -4.6 4 -3.6 9 3.5 7 -0.4 0.5 0.3 0.5 3.3 2 4.2 2 10.8 4 -1.3 0.2 -8 -0.4 -35 -2 -15 -0.6 -15.3 -1.7 -6.1 -1 -0.8 -0.5 0 -10.5 2.4 -11 0.7 -1.5 6.9 -9.5 0.6 -0.5 10.6 -4.3 12.9 -6.7 11.1 -3.6 13 -3.6 15 -3.5 10 -2.1 19 -2.5zM369.7 822.5l87.3 0 65.7 0.5 17.3 1.9 11.2 2.6 7.6 2 9.2 3.2 6.6 2.8 1.4 0.7 0.9 0.8 -4.1 0.5 -7.8 4.7 -2.9 1.3 -11.1 4.5 -13 4.6 -19 3.9 -14 2.3 -5 0.6 -22 1.6 -14 0.7 -16 0.2 -341 2.7 0 -5.9 100 -1.3 118 -0.4 12 -0.5 21 -1.6 24 -2.2 10 -1.3 12 -0.7 5 -0.8 5.9 -1.4 7.1 -2.9 2 0.4 5 0.2 14 -2.4 10 -2.2 8 -2.5 6.7 -3.1 2.3 -1.5 0.9 -1 -0.1 -0.5 -1.6 -1 -6.2 -2.1 -10.4 -1.9 -17.6 -1.8 -0.4 -0.2 -0.6 -1.5 -2 -0.4 -17 -0.5 -1 -0.8 -3 -0.1z"/>
<path fill="#70462c" d="M494.8 492.5l40.2 -0.2 48.7 0.2 -2.6 41.5 -3.1 31.5 -2.5 30.5 -2.8 25 -2.8 17.5 -4.5 19 -2 6 -2.1 4.5 -3.6 5 -4.7 4.9 -5.2 4.1 -5 3 -9.8 4.8 -10.2 3.7 -14.8 4.3 -11 2.4 -10 1.6 -30 3.6 -14 1.4 -13 0.9 -46 2.3 -70 1.7 -207 0.7 0 -13.9 60 0.4 53 -0.4 34 -1.4 26 -2.1 17 -1.7 9 -1.3 49 -8.9 14 -2.9 14 -3.3 14 -3.9 13 -4.4 9 -3.8 8.5 -4.3 6.5 -3.9 4.9 -3.6 7 -6 4.8 -5 3.2 -4 4.1 -6 2.9 -5.5 4.4 -10 9.6 -27.5 5.1 -19 6.2 -27 3.4 -16.5 2.6 -15zM671.3 749.5l3.8 0 -5.7 2.5 -5.8 3 -11.9 7 -7 4.5 -5.1 4 -3.9 3.5 -4.3 4.5 -2.4 3.1 -7.3 5.9 -3.9 3.5 -3.6 9 3.5 7 -0.2 0.5 0.2 0.5 2.4 1.5 5.2 2.5 10.9 4 -9.2 -0.2 -37 -2.2 -13 -0.4 -11.2 -1.2 -9.7 -1.5 0 -11 2.4 -11 0.8 -1.5 6.6 -9 1.1 -0.9 10 -4.2 15 -7.9 21 -6.2 16 -3.7 10 -2 22 -2.8zM371.5 822.5l85.5 0 65.3 0.5 17.7 2 10.8 2.5 7.4 2 9.8 3.4 6 2.6 2.5 1.5 -4.3 0.5 -7.2 4.4 -3.5 1.6 -10.5 4.3 -13 4.7 -19 3.9 -14 2.4 -5 0.6 -22 1.6 -14 0.6 -16 0.3 -341 2.7 0 -5.8 100 -1.3 118 -0.4 12 -0.5 21 -1.5 24 -2.2 10 -1.3 6 -0.1 8 -0.8 9 -1.9 7 -2.8 7 0.6 15.9 -2.6 9.2 -2 8.2 -2.5 7.7 -3.5 2.2 -1.5 0.8 -1 -1 -1 -2.1 -1 -6.9 -2 -12 -1.9 -15.9 -1.6 -0.6 -1.5 -1.5 -0.4 -18 -0.6 -1 -0.7 -1 -0.1z"/>
<path fill="#69422a" d="M497 492.5l85.9 0 -2.6 41 -3.2 32 -2.4 30.5 -3 27 -2.9 17 -4.1 17.5 -1.9 5.5 -2.3 5 -3.3 4.5 -4.7 5 -5.5 4.3 -5 3 -9.4 4.7 -10.6 3.8 -15 4.4 -10 2.2 -11 1.8 -32 3.9 -14 1.3 -16 1.1 -41 1.9 -69 1.7 -207 0.8 0 -13.5 60 0.4 53 -0.4 35 -1.5 25 -1.9 18 -1.7 8 -1.2 50 -8.9 13 -2.6 16 -3.7 13 -3.6 13 -4.4 9.6 -3.9 9.4 -4.7 5.4 -3.3 6.7 -5 6.8 -6 4.2 -4.5 4 -5 3.8 -6 6.6 -14.5 9.8 -28 4.7 -18 6.2 -27 3.5 -16.5 2.6 -15.5zM672.4 749.5l2.4 0 -11.3 5.5 -12 7 -9 6 -8 7 -3.2 3.5 -0.3 0.6 -0.7 0.4 -1.3 1.9 -6.1 4.6 -5.5 5 -3.5 9 3.5 7 0 1 3.6 2.1 5 2.3 2 0.5 8 3.1 -17 -0.7 -30.7 -1.8 -11.3 -0.4 -12 -1.3 -7.8 -1.3 0.1 -11 2.5 -11 0.9 -1.5 7.2 -9.5 11.4 -5 12.7 -7 5.1 -2 15.9 -4.6 16 -3.8 10 -1.9 22 -2.9zM373.3 822.5l86.7 0 62 0.5 18 2 10.3 2.5 7.7 2.1 5.6 1.9 6.5 2.5 6.1 3 -4.5 0.5 -6.7 4.1 -4 1.9 -12.3 5 -10.7 3.9 -19 3.9 -15 2.5 -7 0.8 -19 1.3 -14 0.7 -16 0.2 -341 2.7 0 -5.6 101 -1.3 117 -0.3 12 -0.5 21 -1.5 24 -2.2 10 -1.2 8 -0.3 6 -0.5 8.1 -1.6 4.4 -1.5 3.5 -1.5 7 0.6 17 -2.8 10 -2.1 8 -2.5 8.3 -3.7 2.1 -1.5 0.6 -1 -1.2 -1 -2.1 -1 -7 -2 -12.2 -2 -16.1 -1.5 -1 -0.5 -0.5 -1 -1.9 -0.5 -18 -0.5 -1 -0.8z"/>
<path fill="#633e27" d="M499.1 492.5l82.9 0 -2.5 41 -3.2 32 -2.6 32 -3 27.5 -2.8 16 -4.3 17.5 -1.9 5.5 -2 4 -4.2 5.5 -3.9 4 -5.1 4 -6.5 3.8 -8 3.9 -10.3 3.8 -14.7 4.3 -11 2.5 -10 1.6 -32.8 4.1 -13.2 1.3 -16 1.1 -41 2 -69 1.7 -207 0.8 0 -13.1 60 0.4 53 -0.4 35 -1.4 25 -1.8 18 -1.8 8 -1.1 50 -8.7 14 -2.7 16.7 -3.8 12.7 -3.5 12.6 -4.2 11 -4.5 10 -5.1 6 -3.8 8 -6.3 4.5 -4.1 4.9 -5.5 3.8 -5 2.7 -4.5 6.4 -14 10 -28.5 4.6 -17.5 6.3 -27 3.6 -17 2.7 -16zM673.6 749.5l0.6 0 -0.5 0.5 -5.5 2.5 -6.6 3.5 -11.1 6.5 -6.1 4 -6.9 5.5 -5.1 5 -1.4 2 -0.8 0.5 -0.2 0.5 -8.2 6.5 -4.8 4.5 -3.5 9 3.5 7 0 1 2.5 1.5 5.5 2.6 3 0.9 7.7 3 -16.7 -0.7 -30 -1.8 -12 -0.4 -13 -1.5 -4.1 -0.6 -1.4 -0.5 0 -11 2.7 -11 7.3 -10 1.4 -1 11.8 -5.5 10.4 -6 8.8 -3.5 10.1 -3 18 -4.3 10 -2 22 -2.8zM375.1 822.5l86.9 0.1 60 0.4 18 2.1 9.9 2.4 8.1 2.2 5 1.8 6.5 2.5 6.2 3 -4.6 0.5 -6.1 3.8 -4 1.9 -12.8 5.3 -10.2 3.7 -19 4.1 -15 2.5 -7 0.7 -19 1.4 -14 0.6 -16 0.3 -341 2.7 0 -5.5 102 -1.3 116 -0.3 12 -0.5 21 -1.4 24 -2.2 10 -1.2 7 -0.1 5.9 -0.5 5.1 -0.7 5 -1.2 7 -2.7 7 0.6 18 -2.8 10.3 -2.2 7.7 -2.3 7.7 -3.2 2.6 -1.5 1.6 -1.5 0 -0.5 -0.5 -0.5 -1.7 -1 -2.5 -1 -4.2 -1.2 -6.5 -1.3 -6.5 -0.9 -18 -1.7 -1.1 -0.4 -0.9 -1.3 -0.9 -0.2 -19.1 -0.5 -1 -0.9z"/>
<path fill="#5c3a25" d="M501.2 492.5l79.9 0 -2.4 40.5 -3.2 32 -2.6 32.5 -2.9 27 -2.7 16 -4.2 17.5 -2 5.5 -2.1 4.3 -3.9 5.2 -3.9 4 -5.2 4.1 -6.5 3.9 -8.2 4 -10.3 3.8 -14.3 4.2 -10.7 2.5 -10 1.6 -33 4.3 -14 1.4 -16 1.1 -40 1.9 -69 1.8 -207 0.7 0 -12.6 60 0.4 53 -0.4 35 -1.4 25 -1.7 18 -1.7 9 -1.2 50 -8.5 14 -2.7 16 -3.6 13 -3.5 13 -4.2 11 -4.4 10 -5 6.2 -3.8 6.6 -5 6.2 -5.5 5.1 -5.5 3.8 -5 2.7 -4.5 6.5 -14 10 -28.5 5.4 -20.5 5.7 -24.5 3.7 -17.5 2.6 -15.5zM665.8 750l7.2 -0.4 0.6 0.4 -5.5 2.5 -6.7 3.5 -11.1 6.5 -6.8 4.5 -6.1 5 -7.4 7.5 -8.7 7 -4.7 4.5 -3.5 9 3.8 7.5 -0.3 0.5 5.7 3 3.4 1.5 2.3 0.5 6.3 2.5 -0.3 0.3 -7 -0.1 -38 -2.2 -12 -0.5 -13.4 -1.5 -3.2 -0.5 -0.7 -0.5 0 -11 2.6 -10.5 0.8 -1.5 6.9 -9 0.7 -0.5 12.3 -5.9 10 -5.9 12.9 -5.2 10.1 -2.7 21 -4.7 16 -2.2zM376.9 822.5l88.1 0.1 57 0.5 18 2 7.6 1.9 9.1 2.5 5.8 2 6.4 2.5 6.3 3 -4.2 0.5 -6 3.5 -6.4 3 -13.4 5.5 -8.2 2.9 -18 3.8 -15 2.5 -6 0.7 -20 1.5 -14 0.6 -16 0.2 -341 2.8 0 -5.4 102 -1.3 119 -0.3 31 -1.9 23 -2.1 10 -1.2 11 -0.3 6 -0.7 5 -1.1 4 -1.2 4 -1.7 7 0.6 16.5 -2.4 11.5 -2.3 7 -1.9 7.8 -2.8 5 -2.5 2.2 -2 -0.7 -1 -2.8 -1.5 -6.9 -2 -12 -2 -19.6 -1.8 -0.6 -0.2 -1 -1.5 -20.4 -0.5 -1 -0.9z"/>
<path fill="#563622" d="M503.4 492.5l76.9 0 -2.5 40.5 -3.2 32 -2.9 36.5 -2.5 23.5 -1.3 8.5 -1.6 8 -3.8 16 -1.9 5.5 -2.2 4.5 -4.2 5.5 -3.9 4 -5.1 4 -6.2 3.7 -8 3.9 -10 3.8 -15 4.4 -10 2.3 -11 1.9 -32 4.2 -14 1.4 -16 1.2 -40 2 -69 1.7 -207 0.8 0 -12.2 66 0.4 36 -0.2 17 -0.3 23 -0.9 18 -1.1 26 -2 14 -1.7 57 -9.5 13 -2.6 13.8 -3.2 12.7 -3.5 12.5 -4.1 10 -4 9.8 -4.9 6.2 -3.9 8 -6.1 5.5 -5 4.2 -4.5 3.8 -5 3.1 -5 6.5 -14 9.9 -28 5.5 -21 5.8 -24.5 3.7 -17.5 2.7 -16zM666.5 750l6.5 -0.3 0.5 0.3 -6.6 3 -6.6 3.5 -11 6.5 -6 4 -0.3 0.5 -1.7 1 -0.3 0.5 -2.7 2 -0.3 0.5 -0.8 0.5 -0.2 0.5 -0.9 0.5 -7.4 7 -7.7 6.3 -4.8 4.7 -3.5 9 3.8 7.5 -0.3 0.5 7 3.5 2.8 1.2 2 0.4 2.5 0.9 3.7 1.5 -0.2 0.2 -1 0.1 -6 -0.1 -38 -2.3 -12 -0.4 -16 -2 -0.1 -11.5 2.8 -10.5 0.8 -1.5 7.5 -9.3 9 -4.3 12.7 -7.4 14.2 -6 8.1 -2.2 21 -4.6 17 -2.4zM414.4 823l0.6 -0.5 26 0.1 77 0.4 6 0.3 16 1.9 9.1 2.3 8.9 2.6 4 1.4 6.3 2.5 6.3 3 -3.6 0.4 -1 0.5 -0.7 0.1 -4.8 3 -6.4 3 -13.3 5.5 -7.8 2.8 -18 3.8 -15 2.6 -6 0.7 -20 1.4 -15 0.7 -15 0.2 -341 2.7 0 -5.2 102 -1.3 119 -0.3 31 -1.9 23 -2 10 -1.2 12 -0.3 5 -0.6 5 -1 4 -1.2 4 -1.6 7 0.6 17 -2.5 12.6 -2.4 7.3 -2 8.3 -3 4.8 -2.5 1.3 -1 0.8 -1 -1.7 -1.5 -3.3 -1.5 -5.4 -1.5 -6.7 -1.2 -11 -1.4 -16 -1.3 -0.8 -1.6 -21.2 -0.5z"/>
<path fill="#503220" d="M505.5 492.5l73.9 0 -2.5 40.5 -3.1 31.5 -2.9 37 -2.4 23 -1.4 9 -1.5 8 -3.8 16 -2.2 6 -2.3 4.5 -4.3 5.4 -4.8 4.6 -4.1 3 -5.9 3.5 -9.2 4.5 -9 3.3 -14.2 4.2 -10.7 2.5 -10.1 1.7 -32 4.3 -13.8 1.5 -16.2 1.2 -40 2 -69 1.8 -207 0.8 0 -11.8 66 0.4 53 -0.5 23 -0.8 18 -1.1 26 -2 14 -1.6 57.8 -9.4 14.2 -2.8 12 -2.7 13 -3.5 13 -4.2 13 -5.3 7 -3.5 8.7 -5.5 5.8 -4.5 5.6 -5 4.2 -4.5 3.9 -5 3.2 -5 6.5 -14 9.9 -28 5.6 -21 5.9 -25 3.8 -17.5 2.7 -16zM667.2 750l5.8 -0.3 0.4 0.3 -6.6 3 -7.6 4 -8 4.5 -6 4 -6.1 4.5 -11.1 10 -6.1 5 -5.9 5.7 -3.6 9.3 3.7 7.5 -0.2 0.5 4.7 2.5 4.7 2 3.7 1 5 2 -1 0.3 -6 -0.2 -37 -2.2 -13 -0.5 -8.7 -0.9 -6.2 -1 0.1 -11.5 2.8 -10.5 0.9 -1.5 7.3 -9 9.1 -4.5 11.7 -7.1 16 -6.9 16.2 -4 12.1 -2.5 16.7 -2.3zM414.4 823l0.6 -0.5 45 0.1 59 0.4 5 0.3 16 2 8.7 2.2 12.8 4 8.5 3.5 4 2 -3 0.3 -1 0.6 -1.2 0.1 -4.8 3 -6.5 3 -13.1 5.5 -7.4 2.6 -19 4.1 -14 2.4 -7 0.8 -20 1.4 -14 0.6 -16 0.3 -340 2.7 0 -5.1 103 -1.3 118 -0.2 31 -1.9 23 -1.9 10 -1.2 12 -0.3 7 -0.9 4.9 -1.1 6.1 -2.3 7 0.6 18 -2.5 12.3 -2.3 7.6 -2 8.1 -2.8 5.6 -2.7 2.5 -2 0.1 -0.5 -1 -1 -4.1 -2 -5.1 -1.5 -5.4 -1 -11.6 -1.6 -18 -1.4 -1.2 -1 -0.1 -0.5 -21.7 -0.6z"/>
<path fill="#492e1d" d="M507.6 492.5l71 0 -2.5 41 -3.1 31 -2 27.5 -1.7 18 -2.4 20.5 -3.9 19.5 -1.8 7 -1.9 5.5 -1.9 4 -2.4 3.5 -3.4 4 -4.4 4 -5.2 3.7 -5.8 3.3 -8.2 3.9 -11 3.9 -12 3.6 -13 2.9 -44.2 6.2 -11.8 1.1 -20 1.4 -20 1.1 -24 0.9 -63 1.5 -202 0.8 0 -11.3 66 0.3 53 -0.5 22 -0.8 16 -0.8 26 -1.9 17 -1.8 58 -9.2 15 -2.9 12 -2.7 13 -3.4 13 -4.1 10.7 -4.2 9.5 -4.5 6.6 -4 8.2 -6 5 -4.4 5 -5.2 4 -5 2.8 -4.4 6.9 -14.5 10.1 -28.5 5.6 -21 6 -25 3.8 -18 2.9 -17.5zM668 750l5 -0.2 0.4 0.2 -7.8 3.5 -10.6 5.5 -5.1 3 -8 5.5 -3.4 2.5 -14.5 12.7 -8.3 7.8 -3.7 9.5 3.7 7.5 0 0.5 2.5 1.5 6.8 3 4 1 4.9 2 -0.9 0.3 -6 -0.2 -37 -2.2 -13 -0.5 -11 -1.3 -2.7 -0.6 0.1 -11.5 2.9 -10.5 0.6 -1 6.9 -8.5 1.2 -1 9.6 -5 10.5 -6.5 17 -7.5 14.9 -3.6 12 -2.5 16 -2.1zM414.4 823l0.6 -0.4 45 0.1 55.5 0.3 8.5 0.3 16 2 8.4 2.2 12.7 4 8.4 3.5 4 2 -2.5 0.3 -1 0.6 -1.7 0.1 -4.3 2.7 -9.2 4.3 -10.8 4.5 -7 2.5 -18.3 4 -14.7 2.6 -7 0.7 -20 1.5 -14 0.6 -16 0.2 -340 2.8 0 -5 104 -1.3 116 -0.1 31 -1.8 24 -2 10 -1.2 12 -0.2 9.3 -1.3 4.7 -1.3 4 -1.6 1 -0.1 6 0.7 20 -2.7 12 -2.2 7 -1.8 8.7 -3 6.3 -3 2.3 -2 -0.1 -0.5 -1 -1 -2.8 -1.5 -4.4 -1.5 -7.1 -1.5 -12.9 -1.7 -18 -1.4 -1.3 -0.4 -0.6 -1 -22.1 -0.6z"/>
<path fill="#432a1b" d="M509.8 492.5l67.9 0 -2.5 40.5 -3 31 -2 27.5 -1.8 20.5 -2.6 20.5 -3.6 18 -1.7 6.5 -1.9 5.5 -2 4 -2.4 3.5 -3.5 4 -3.8 3.5 -3.9 2.9 -7 4.1 -8.2 4 -11 4 -11.8 3.5 -10.6 2.5 -7.4 1.4 -34 4.8 -13 1.5 -17.2 1.3 -39.8 2.1 -49 1.4 -28 0.5 -199 0.7 0 -10.8 66 0.3 53 -0.5 24 -0.8 18 -1 26 -1.9 14 -1.6 58 -8.9 13 -2.4 14 -3.1 13.4 -3.5 12.6 -3.9 10.7 -4.1 10.3 -4.9 8.4 -5.1 6 -4.5 5.8 -5 4.8 -5 3.6 -4.5 2.9 -4.5 7 -14.5 5.3 -15.5 4.9 -13 5.6 -21 6.1 -25.5 3.9 -18 2.7 -16.5zM668.8 750l4.5 0 -10.3 4.6 -8.4 4.4 -5.3 3 -8 5.5 -3.3 2.4 -15 13.1 -7.8 7.5 -3.6 9.5 3.8 8 2.5 1.5 6.9 3 4.2 1 4.7 2 -0.7 0.2 -6 -0.1 -37 -2.2 -13 -0.6 -11.5 -1.3 -0.9 -0.5 0 -11.5 3.1 -10.5 0.6 -1 7.6 -9 10.1 -5.5 9.4 -6 18.8 -8.5 12.5 -3 10.3 -2.2 7 -1.1 14 -1.8zM414.5 823l0.5 -0.4 45 0.1 51.9 0.3 11.1 0.3 16 1.9 3.5 0.8 15.5 4.5 9 3.6 6 2.9 -2 0.2 -1 0.6 -2.2 0.2 -3.8 2.4 -9.7 4.6 -10.6 4.5 -6.7 2.4 -18.7 4.1 -14.3 2.5 -7 0.8 -20 1.4 -14 0.7 -16 0.2 -340 2.8 0 -5 105 -1.2 115 -0.1 31 -1.7 24 -2 10 -1.2 8 0 6 -0.3 8.8 -1.4 8.2 -2.6 6 0.7 20.2 -2.6 13.8 -2.5 9 -2.5 7.2 -2.5 5.8 -2.7 1.8 -1.3 0.7 -1 -0.6 -1 -1.3 -1 -3.3 -1.5 -5.1 -1.5 -7.2 -1.4 -13.7 -1.6 -17.3 -1.2 -0.8 -0.3 -0.6 -1 -22.6 -0.6z"/>
<path fill="#3d2618" d="M511.9 492.5l65 0 -2.5 40 -3 31.5 -2 27.5 -1.8 20.5 -2.5 20.5 -3.7 18.5 -2.1 7.5 -1.9 5 -1.9 3.5 -3.4 4.5 -4.1 4.2 -3 2.5 -4 2.8 -6.9 4 -8.1 3.7 -11 4 -11 3.2 -13 3 -30 4.5 -15.8 2.1 -10.3 1 -21.2 1.5 -17.7 1 -28 1 -62 1.5 -199 0.7 0 -10.4 66 0.3 53 -0.5 24 -0.8 18 -1 26 -1.8 14 -1.4 58 -8.7 13 -2.4 15 -3.2 15 -3.9 15 -4.8 10.2 -4.1 8.8 -4.3 7 -4.4 6 -4.4 5.2 -4.4 5.4 -5.5 3.7 -4.5 3 -4.5 2.6 -5 4.4 -9.5 5.7 -16.5 4.5 -12 5.9 -21.5 6.1 -25.5 3.8 -18 2.8 -16.5zM669.7 750l3.5 0 -10.3 4.5 -10.6 5.5 -3.5 2 -7.8 5.2 -3.3 2.3 -13.7 12.1 -9.2 8.9 -3.6 9.5 4 8 0.4 0.5 1.9 1 4.6 2 3.8 1.5 3.1 0.6 4.6 1.9 -6.6 0 -50 -2.7 -11 -1.3 -0.2 -12 3.5 -11 7.6 -9 11.2 -6.5 7.9 -5.2 19 -8.7 11.9 -3.1 10.1 -2.1 7 -1.1 15 -1.9zM414.5 823l0.5 -0.4 45 0.1 48.1 0.3 14.9 0.3 16 2 3.2 0.7 15.8 4.7 9 3.6 5.5 2.7 -1.5 0.2 -1 0.6 -2.8 0.2 -3.2 2.2 -10.2 4.8 -10.5 4.5 -6.3 2.3 -19.1 4.2 -14.2 2.5 -7.7 0.8 -19 1.4 -14 0.6 -16 0.3 -340 2.7 0 -4.8 106 -1.2 114 0 31 -1.8 25 -2 9 -1 12 -0.1 9 -1.1 3.4 -0.8 6.6 -2.2 6 0.7 21 -2.6 15 -2.7 9.7 -2.7 8.4 -3 4.8 -2.5 1.2 -1 0.6 -1 -0.7 -1 -1.3 -1 -3.1 -1.5 -5.6 -1.6 -7.3 -1.4 -12.8 -1.5 -19.9 -1.4 -0.4 -0.1 -0.6 -1 -23 -0.7z"/>
<path fill="#362216" d="M514 492.5l62 0 -2.4 40 -3.1 31.5 -1.9 27 -1.7 20.5 -2.5 20.5 -3.3 17 -1.7 7 -1.5 4.5 -1.7 4 -2.2 3.5 -3.7 4.5 -4.7 4.5 -3.6 2.7 -7.2 4.3 -7.8 3.8 -8.3 3.2 -14.7 4.5 -10.3 2.5 -8.7 1.6 -37 5.4 -14.5 1.5 -14.5 1.1 -36.9 1.9 -51.1 1.5 -25 0.4 -199 0.8 0 -10 66 0.3 53 -0.5 24 -0.7 18 -1 26 -1.7 14 -1.4 59 -8.7 15 -2.7 13 -2.7 14 -3.6 13.1 -4 12.9 -4.9 9 -4.3 7.8 -4.8 5.5 -4 5.4 -4.5 5.6 -5.5 4.1 -5 2.9 -4.5 6.8 -14 10.9 -30.5 4 -14.5 4.8 -19.5 4.6 -20 2.7 -13.5 2.8 -17.5zM670.6 750l2.5 0 -10.6 4.5 -10.8 5.5 -3.5 2 -11.2 7.5 -14 12.4 -8.6 8.6 -3.5 9.5 4.2 8.5 9.9 4.3 4 0.8 4.4 1.9 -14.4 -0.4 -27 -1.7 -15 -0.7 -10 -1.2 0.1 -12 3.6 -11 7.8 -9 7.5 -4.3 10.9 -7.2 18.3 -8.5 16.5 -4.5 7.8 -1.5 12.5 -1.8 9 -1zM414.6 823l0.4 -0.3 45 0.1 44.2 0.2 18.8 0.4 16 1.9 3 0.7 16.5 5 8.4 3.5 5 2.5 -0.9 0.1 -1 0.6 -3.2 0.3 -3 2 -10.4 5 -10.5 4.5 -5.9 2.2 -19 4.2 -14.7 2.6 -8.3 0.9 -18 1.2 -14 0.7 -16 0.2 -340 2.8 0 -4.7 107 -1.2 113 0 31 -1.7 25 -2 9 -1 9 0 6 -0.2 7 -1.1 5 -1.3 4 -1.5 6 0.8 21 -2.5 16 -2.7 9.8 -2.7 8.7 -3 5.1 -2.5 2.2 -2 -0.3 -1 -1 -1 -3.6 -2 -4.8 -1.5 -7.7 -1.5 -14.4 -1.6 -20.4 -1.4 -1.1 -1 -0.5 -0.1 -23 -0.6z"/>
<path fill="#301e13" d="M516.2 492.5l58.9 0 -2.1 35.9 -3.6 38.1 -1.4 21.9 -1.9 22.6 -2.1 18.5 -3.9 21 -2.1 7.5 -1.9 5 -1.1 2.2 -3 4.3 -4 4.5 -4 3.5 -4.4 3 -6.6 3.9 -8 3.8 -10.6 3.8 -10.4 3.1 -13 3.1 -36.7 5.8 -11.8 1.5 -31.8 2.5 -46.7 2 -58 1.3 -199 0.8 0 -9.5 66 0.3 53 -0.5 24 -0.7 18 -0.9 26 -1.7 15 -1.5 58 -8.2 14 -2.5 14.2 -2.9 14.2 -3.5 13.6 -4.1 13 -4.8 9.7 -4.6 7.3 -4.4 6.4 -4.6 6 -5 4.5 -4.5 4.1 -4.9 3.1 -4.6 6.9 -14.2 11.3 -31.8 3.7 -13.5 6.1 -24.5 3.7 -16.5 2.5 -12.5 2.8 -17.5zM671.7 750l0.8 0 -5.5 2.6 -4.9 1.9 -12.7 6.5 -12.4 8 -14.2 12.5 -8.8 9 -3.5 9.5 4.2 8.5 10.3 4.4 4 0.8 4.3 1.8 -14.3 -0.4 -27 -1.7 -15 -0.7 -8.8 -1.2 0.1 -12 3.7 -10.9 7.5 -8.6 7.5 -4.5 11 -7.5 18 -8.4 16 -4.6 7.8 -1.5 12.2 -1.7 9 -1zM414.6 823l0.4 -0.3 46 0.1 62 0.6 13.1 1.6 5.6 1 16.4 5 8.3 3.5 5.1 2.5 -1.5 0.7 -3.7 0.3 -3.1 2 -10.3 5 -10.3 4.5 -5.6 2.1 -19 4.2 -15.1 2.7 -25.9 2.1 -15 0.7 -17.5 0.2 -337.5 2.8 0 -4.6 108 -1.2 112 0 31 -1.6 25 -2 9 -1 9 0.1 6 -0.2 7 -1 5 -1.3 4 -1.5 6 0.9 21 -2.5 16 -2.5 10.9 -2.9 9.1 -3 5.3 -2.5 2 -1.5 0.7 -1 -0.4 -1 -0.9 -1 -3.4 -2 -4.5 -1.5 -7.8 -1.5 -15 -1.7 -21 -1.4 -1 -0.1 -1 -0.8 -1 -0.1 -23 -0.6z"/>
<path fill="#291a10" d="M518.3 492.5l55.4 0 -2.2 36.5 -3.3 36 -1.7 25 -2 25 -2.2 17.5 -3.3 17.5 -2 7.5 -2 5.2 -1.8 3.3 -3.4 4.5 -3.8 4 -3 2.5 -4.3 3 -6.8 4 -7.9 3.8 -10.2 3.7 -10.8 3.3 -13.4 3.2 -44.6 7 -15.2 1.5 -20.8 1.5 -32 1.5 -52 1.5 -46 0.5 -172 0.6 0 -9.1 66 0.3 53 -0.4 24 -0.8 18 -0.8 26 -1.6 15 -1.5 59 -8.1 13 -2.3 15 -3 15 -3.6 13 -3.9 13 -4.7 9.9 -4.6 7.6 -4.5 6.3 -4.5 6.2 -5 4.5 -4.5 5 -6 2.5 -3.9 6.7 -13.6 11.5 -32 4.2 -15.5 5.6 -22.5 3.9 -17 2.5 -12.5 2.8 -18zM664.8 750.5l6.2 -0.4 0.7 0.4 -10 4 -11.9 6 -13.5 8.5 -13 11.5 -9.7 10 -3.5 9.5 4.2 8.5 10.7 4.5 4 0.7 4.2 1.8 -14.2 -0.4 -27 -1.8 -15 -0.7 -5.8 -0.6 -1.7 -0.5 0 -11.5 3.6 -11 7.9 -8.9 8.1 -5.1 9.3 -6.5 17.7 -8.5 16.8 -5 4.3 -1 6.8 -1.1 12 -1.6zM414.7 823l0.3 -0.2 46 0 62 0.6 12.7 1.6 5.7 1 16.6 5.1 13 5.9 -1 0.7 -4.1 0.3 -3.2 2 -10.2 5 -10.2 4.5 -5.3 2 -19 4.2 -15.5 2.8 -25.5 2.1 -16 0.7 -21 0.2 -333 2.7 0 -4.4 108 -1.2 113 0.1 31 -1.7 24 -1.9 9 -1 7 0.2 7 -0.2 8.6 -1.1 2.4 -0.6 6 -2 6 0.9 21 -2.4 16 -2.3 11.9 -3.1 9.6 -3 5.5 -2.5 2.3 -1.5 1.2 -1.5 -0.4 -1 -1.1 -1 -4.4 -2.5 -5 -1.5 -7.6 -1.3 -16.3 -1.7 -20.7 -1.2 -1 -0.3 -0.6 -0.5 -1.4 -0.2 -23 -0.6z"/>
<path fill="#23160e" d="M520.5 492.5l51.2 0 -2.3 39 -3 31.5 -1.9 29 -1.9 24.5 -1.9 15.5 -3.3 17.5 -1.5 6 -1.9 5.5 -1.7 3.5 -2.5 3.5 -3.4 4 -3.8 3.5 -5.5 4 -6.8 4 -7.3 3.5 -10.6 4 -10.4 3.2 -13.5 3.3 -44.5 7.3 -11.3 1.2 -23.7 1.8 -33 1.7 -54 1.5 -54 0.5 -161 0.6 0 -8.7 71 0.3 52 -0.5 22 -0.7 28 -1.4 20 -1.4 13 -1.4 56 -7.5 15 -2.6 13 -2.6 15 -3.6 13 -3.8 13.2 -4.7 10 -4.5 7.6 -4.5 6.5 -4.5 6.2 -5 4.7 -4.5 4.2 -5 2.8 -4 3.2 -6 4.1 -8.5 11.5 -32 3.9 -14 6.1 -24.5 4 -17.5 2.5 -12.5 2.8 -17.5zM665.4 750.5l5.6 -0.3 0.6 0.3 -10.3 4 -12.1 6 -13.6 8.5 -12.6 11.1 -9.8 10.4 -3.5 9.5 4.2 8.5 10.9 4.5 4.2 0.8 2.9 1.2 0.1 0.4 1 0.1 -14 -0.5 -35 -2.2 -7 -0.2 -5.4 -0.6 -0.9 -0.5 0 -11.5 3.7 -11 7.7 -8.5 9.1 -6 7.8 -5.6 18 -8.8 18.3 -5.6 5.1 -1 11.6 -1.6zM414.7 823l0.3 -0.2 46 0 61 0.6 9.7 1.1 9.5 1.5 16.8 5.3 12.5 5.7 -0.5 0.6 -4.5 0.4 -3.3 2 -10.2 5 -10.1 4.5 -4.9 1.9 -19 4.3 -15.8 2.8 -26.2 2.1 -16 0.6 -24.9 0.3 -328.1 2.7 0 -4.3 109 -1.2 64 -0.1 48 0.2 31 -1.6 24 -1.8 9 -1 7 0.2 9 -0.3 8 -1.2 7 -2.3 6 0.9 21 -2.3 16 -2.2 14.9 -3.7 9.1 -2.9 6.6 -3.1 1.9 -1.5 0.6 -1 -0.4 -1 -1.5 -1.5 -3.9 -2 -4.6 -1.5 -6.7 -1.3 -16.9 -1.7 -24.1 -1.4 -1.1 -0.6 -1.9 -0.2 -23 -0.6z"/>
<path fill="#1d120b" d="M522.6 492.5l47.2 0 -2.4 39 -3 31 -3.6 53.5 -1.6 15 -3.4 18.5 -1.7 6.5 -2.1 5.5 -2.3 4 -2.7 3.6 -3.2 3.4 -4.8 4.1 -5.1 3.4 -6.1 3.5 -7.8 3.6 -9 3.4 -10 3.2 -13 3.2 -44 7.6 -14.2 1.5 -22.8 1.8 -31 1.5 -59 1.7 -210 1 0 -8.2 73 0.3 52 -0.6 24 -0.7 26 -1.3 19 -1.3 13 -1.4 55.8 -7.3 15.2 -2.5 13 -2.6 14.3 -3.4 13.7 -3.9 14 -4.9 9.3 -4.2 7.9 -4.5 6.5 -4.5 6.4 -5 4.7 -4.5 4.3 -5 3.1 -4.5 7.1 -14 5.6 -16 4.3 -11 1.7 -5 3.9 -14 6.3 -25 4 -17.5 2.5 -12.5 2.8 -18zM666.1 750.5l4.9 -0.3 0.5 0.3 -10.6 4 -12.3 6 -13.7 8.5 -12 10.5 -10.1 11 -3.4 9.5 4.2 8.5 11 4.5 4.4 0.8 2.7 1.2 -0.7 0.4 -12 -0.4 -35 -2.3 -7 -0.2 -4.8 -0.5 -0.3 -0.5 0 -11.5 3.9 -11 8 -8.5 16.1 -11.5 17.2 -8.5 20.8 -6.5 17.4 -2.5zM414.8 823l52.2 -0.1 56 0.6 17 2.3 6 1.7 12 4 11 5 1 0.5 0.2 0.5 -5.2 0.5 -3.3 2 -10.1 5 -10 4.5 -4.6 1.8 -20 4.5 -15.2 2.7 -25.8 2 -16 0.7 -30.3 0.3 -322.7 2.7 0 -4.2 109 -1.2 64 -0.1 48 0.3 28 -1.4 27 -2 9 -1 8 0.3 8 -0.3 8 -1.2 7 -2.2 6 0.9 21 -2.2 16 -2 16.1 -3.9 9.9 -3 4 -1.6 2.8 -1.4 1.9 -1.5 0.9 -1.5 -0.3 -1 -1.3 -1.5 -3 -1.8 -6 -2 -6.8 -1.2 -16.2 -1.6 -26.6 -1.4 -1 -0.5 -2.4 -0.3z"/>
<path fill="#160e09" d="M524.7 492.5l43.1 0 -2.4 38.5 -2.9 31 -3.5 55.5 -1.8 15.5 -3 16.5 -1.8 6.5 -1.7 4.5 -1.7 3.3 -3.5 4.7 -3.3 3.5 -5.2 4.4 -6 3.9 -6 3.3 -6 2.8 -9 3.4 -10 3.3 -13 3.3 -43 7.7 -11.6 1.4 -25.4 2.1 -31 1.6 -63 1.8 -206 1 0 -7.7 97 0.1 45 -0.9 30 -1.4 22 -1.3 38 -4.4 39 -5.3 13 -2.3 16 -3.4 12 -3 13 -3.9 12 -4.5 9 -4.3 6 -3.5 8.1 -5.7 5.6 -4.5 4.7 -4.5 3.4 -4 3.2 -4.5 7.3 -14.5 5.4 -15.5 4.3 -11 1.9 -5.5 4.3 -15.5 5.9 -23.5 4.1 -17.5 2.4 -12.5 3 -18.5zM666.8 750.5l4.2 -0.2 0.4 0.2 -10.9 4 -13.4 6.5 -12.9 8 -11.9 10.5 -9.6 10.5 -3.7 10 4.2 8.5 11.1 4.5 4.7 0.9 2.6 1.1 -0.6 0.3 -11.2 -0.3 -35.8 -2.3 -6.6 -0.2 -4.3 -0.5 0 -12 3.8 -10.5 7.8 -8.5 16.3 -12 17 -8.4 20.5 -6.6 17.2 -2.5zM414.8 823l52.2 -0.1 55.6 0.6 18.1 2.5 17.3 5.6 8.6 3.9 3.5 2 -5.5 0.5 -13.4 7 -9.9 4.5 -4.3 1.7 -20 4.5 -15.6 2.8 -26.4 2 -15 0.7 -353 2.9 0 -4 110 -1.2 63 -0.1 48 0.3 28 -1.4 25 -1.8 12 -1.1 7 0.3 6.6 -0.1 8.4 -1 8 -2.4 6 0.9 37 -4 19.3 -4.5 11.5 -3.5 2.4 -1 2.6 -1.5 1.6 -1.5 0.8 -1.5 -0.3 -1 -1 -1.5 -2.9 -2 -4.2 -1.5 -8.8 -1.7 -17 -1.5 -27 -1.4 -4 -0.6z"/>
<path fill="#100a06" d="M526.9 492.5l38.9 0 -2.4 38.5 -3 33.5 -3.3 54.5 -1.5 13 -2.7 16 -2 7.5 -1.7 4.5 -1.9 3.5 -3.4 4.5 -3.3 3.5 -4.7 4 -6.1 4 -6.1 3.5 -7.7 3.5 -10 3.7 -12 3.7 -10 2.4 -41 7.6 -13.3 1.6 -24.2 2 -35.5 1.8 -38 1.2 -25 0.5 -200 0.9 0 -7.2 101 0.1 42 -0.9 29 -1.3 22 -1.3 39 -4.3 35 -4.6 17 -2.9 16 -3.3 12.8 -3.2 12.2 -3.6 10.7 -3.9 10.3 -4.7 6 -3.4 9 -6.2 5.3 -4.2 4.7 -4.5 4.7 -5.5 2.3 -3.5 7.1 -14 5.8 -16.5 4 -10 1.8 -5.5 4 -14 6.5 -25.5 4 -17.5 2.6 -13 2.9 -18.5zM667.5 750.5l3.8 0 -11.2 4 -13.7 6.5 -12.9 8 -11.9 10.5 -9.3 10.5 -3.7 10 4.3 8.5 0.6 0.5 10.5 4 5 0.9 2.4 1.1 -0.4 0.2 -4 0 -16 -0.7 -1 -0.2 -6 -0.2 -10 -0.9 -15.4 -0.7 -4.2 -0.5 -0.1 -12 3.9 -10.5 7.8 -8.2 15.4 -11.8 16.7 -8.5 20.9 -6.9 13 -2.1zM414.9 823l52.1 -0.1 55.2 0.6 18.3 2.5 17.5 5.8 12 5.7 -5.9 0.5 -13.3 7 -13.8 6.1 -20 4.5 -16 2.9 -26.1 2 -14.9 0.6 -353 3 0 -3.9 56 -0.8 58 -0.4 59 -0.1 48 0.4 31 -1.6 22 -1.5 12 -1.2 8 0.4 7 -0.2 7 -0.9 3.7 -0.8 4.3 -1.5 6 0.8 37 -3.6 20.7 -4.7 12.7 -3.5 2.6 -1.1 2.2 -1.4 1.5 -1.5 1 -2 -0.4 -1.5 -0.9 -1.5 -1.4 -1.2 -2 -1.2 -4 -1.2 -8 -1.4 -19 -1.5 -28 -1.2 -4 -0.6z"/>
<path fill="#0a0604" d="M529 492.5l34.8 0 -2.3 38 -3.1 33.5 -3 54.5 -1.7 15 -2.7 15.5 -1.6 6 -1.7 4.5 -2 3.5 -3.4 4.5 -3.3 3.5 -4.7 4 -8.3 5.4 -4.8 2.6 -9.2 4.1 -10 3.5 -9 2.7 -10 2.5 -40 7.8 -12 1.5 -23 2 -33.3 1.9 -54.7 1.7 -113 0.8 -100 0.3 0 -6.7 101 0.1 43 -0.9 30 -1.3 21 -1.2 38 -4.1 39 -5 13 -2.3 16.9 -3.4 12.4 -3 12.7 -3.7 11 -3.9 6 -2.5 4.9 -2.4 6.1 -3.5 8.8 -6 5.1 -4 4.7 -4.5 4.8 -5.5 2.4 -3.5 7.1 -14 5.8 -16.5 4.2 -10.5 1.7 -5 4.6 -16 6 -24 4.1 -17.5 2.6 -13 2.9 -18.5zM668.3 750.5l2.9 0 -10.2 3.5 -14 6.4 -13.5 8.1 -12.5 10.9 -9.2 10.6 -3.6 10 4.3 8.5 0.6 0.5 10.9 4.2 2 0.5 3 0.3 2.3 1 -6.3 0.1 -13.8 -0.6 -1.2 -0.3 -6 -0.2 -2 -0.3 -6 -0.2 -2 -0.4 -18.4 -1.1 0 -12 4 -10.5 7.8 -8 15.1 -12 16.5 -8.5 20 -6.7 13.4 -2.3zM414.9 823l51.1 0 55.9 0.5 18.3 2.5 17.8 5.9 11.5 5.6 -4.5 0.2 -1.3 0.3 -13.3 7 -9.7 4.5 -3.9 1.5 -19.5 4.5 -16.6 3 -26.5 2 -14.2 0.6 -152 1.1 -13.8 0.3 -44.2 0.2 -13.4 0.3 -43.6 0.2 -13.5 0.3 -72.5 0.6 0 -3.8 82 -1 91 -0.2 48 0.3 29 -1.4 26 -1.8 10 -1 8 0.5 7 -0.2 8 -1 8 -2.2 5 0.9 37 -3.4 20 -4.3 16 -3.8 2.8 -1.2 2.2 -1.5 1.7 -2 0.9 -2 -0.3 -1.5 -0.9 -1.5 -1.2 -1.5 -1.4 -1 -3.8 -1.5 -5.6 -1 -11.4 -1 -42 -1.9 -3 -0.4z"/>
<path fill="#000000" d="M531.1 492.5l30.7 0 -0.7 13 -1.9 28 -2.7 29.5 -2.9 56.5 -1.5 13.5 -2.6 15.5 -1.5 5.5 -1.8 5 -2.2 3.8 -3.2 4.2 -2.8 3 -4.7 4 -7.5 5 -5.8 3.3 -9 4.1 -10 3.6 -9 2.8 -11 2.7 -38 7.8 -11 1.4 -26 2.3 -25 1.6 -8 0.1 -3 0.4 -2 -0.3 -2 0.3 -6 0.1 -2 0.3 -2 -0.2 -1 0.2 -13 0.3 -1 0.3 -2 -0.3 -1 0.3 -8 -0.1 -4 0.4 -2 -0.2 -1 0.3 -1 -0.2 -2 0.3 -1 -0.3 -2 0.3 -32 0.2 -1 0.2 -3 -0.3 -3 0.1 -1 0.2 -1 -0.3 -1 0.3 -1 -0.2 -6 0.3 -5 -0.2 -1 0.2 -71 0.4 -84 0.1 0 -6.1 97 0.1 48 -0.9 27 -1.1 24 -1.3 38 -4 39 -4.9 13 -2.2 17 -3.4 13 -3.1 12.7 -3.7 11.4 -4 9.9 -4.4 6 -3.4 9.3 -6.2 6.3 -5 4.6 -4.5 3.9 -4.5 2.4 -3.5 2.7 -5 4.9 -10 5.2 -15 4.4 -11 1.7 -5 4.6 -16 6.4 -25 3.9 -17 2.6 -13 3 -19zM669.1 750.5l2 0 -10.1 3.2 -14 6.4 -14.3 8.4 -12 10.5 -9.3 11 -3.7 10 4 8 1.3 1.2 8 3.1 5 1.5 3 0.2 2.1 1 -6.1 0 -4 -0.3 -8.8 -0.2 -2.2 -0.4 -6 -0.1 -1 -0.4 -6.5 -0.1 -1.5 -0.4 -18.1 -1.1 -0.1 -12 3.9 -10 8.3 -8.5 14 -11.5 16 -8.5 20.3 -7 10.4 -2 2.3 -0.2 0.7 -0.3 8.3 -0.6 2 -0.4 5 -0.2zM415 823l51 0 13 0.4 42.4 0.1 0.6 0.3 4.1 0.2 0.9 0.4 2.9 0.1 1.1 0.4 9 1.1 17.7 6 11.4 5.5 -5.1 0.2 -12.1 6.3 -12.7 6 -2.8 1 -8.3 2 -16.1 3.5 -8.5 1.5 -2.5 0.2 -1 0.3 -10 0.6 -2 0.4 -5 0.2 -2 0.3 -6 0.2 -1.6 0.3 -9.4 0.2 -4 0.3 -100 0.6 -11.6 0.4 -46.4 0.1 -11.7 0.4 -46.3 0.1 -11 0.4 -46 0.1 -10.7 0.4 -45.3 0.1 -10.9 0.4 -13.1 0 0 -3.6 82 -1 91 -0.1 47 0.4 31 -1.5 28 -2 7 -0.8 9 0.6 7 -0.2 8 -1.1 7 -2 5 0.9 37 -3.2 28 -5.9 6.7 -1 4.4 -1 2.6 -1 2.6 -1.5 1.6 -2 0.8 -2.5 0 -1.5 -0.5 -2 -1.6 -2.5 -1.4 -1 -2.2 -0.9 -5 -1.1 -13 -0.9 -45.5 -1.6 -1.5 -0.3 -8.7 -0.2 -2.3 -0.3z"/>
</g></g>
<g clip-path="url(#cdc)" class="dash" filter="url(#db)">
<path d="M106 683.2 L157.9 684 L209.7 683.7 L223.7 683.1 L243.5 681.7 L253.5 680.6 L267.3 678.7 L283.1 676.1 L290.8 674.4 L294.6 673.3 L307.8 668.6 L334.4 660.2 L347.7 655.6 L362.6 649.8 L367.9 647.2 L373.2 644.3 L380 639.9 L384.6 636.2 L388.8 632.1 L392.6 627.4 L396.1 622.4 L399.1 617.3 L402.5 610.1 L405.5 602.6 L409.4 591.3 L416.7 568.5 L418.2 562.7 L419.8 554.9 L423.4 533.3 L427.4 511.7 L430.5 492"/>
<path d="M106 715 L229.9 714.8 L319.8 714.3 L405.7 712.3 L477.6 709.7 L493.5 708.7 L503.4 707.9 L513.3 706.5 L523.2 704.8 L536.9 701.9 L548.5 699 L556.2 696.5 L565.4 692.7 L570.9 690.1 L576.4 687.1 L581.3 683.6 L583.8 681 L587 676.1 L589.6 670.4 L591.6 664.7 L593 658.9 L594.5 651 L597.7 631.2 L601.6 599.5 L607.6 539.9 L609.3 514 L610.3 492"/>
<path d="M106 869 L453.6 867.8 L467.6 867.7 L483.6 866.9 L503.5 865.5 L517.4 863.8 L543 859.4 L558.7 856.1 L574.1 851.8 L579.9 849.8 L583.6 848.3 L587.1 846.5 L590.6 844.3 L594 841.4 L594.9 839.8 L594.9 838.2 L594.4 836.3 L593.4 834.3 L590.9 830.8 L589.5 829.7 L588 828.7 L584.1 827.2 L574.3 824.6 L562.5 822.3 L544.7 820.2 L528.7 818.9 L504.8 818.2 L468.8 817.7 L366.9 817.6 L356.9 818.2 L345 819.5 L335.3 822 L333.3 822.3 L321.5 823.2 L311.4 823.5"/>
<path d="M106 855.7 L189.9 854.1 L293.7 852.4 L321.7 851.6 L335.6 850.8 L357.5 848.5 L379.3 845.7 L389.1 844.1 L398.9 841.9 L406.6 839.5 L411.9 837.1 L415.3 834.9 L421.7 829.6 L423.4 828.1 L423.7 826.9 L422.2 825.7 L419.9 824.8 L414.1 824.5 L342 823.5 L312 823.8"/>
<path d="M520.5 797.5 L521.9 793.5 L524 790.5 L525.5 789.3 L530.8 786.4 L550.6 777.3 L557.9 774.2 L570.9 769.4 L593.4 761.8 L602.9 759.1 L614.4 756.2 L628 753.1 L637.7 751.4 L649.5 749.8 L663.3 748.4 L671.2 747.8 L685 747.4"/>
<path d="M520.5 797.5 L520.9 799.6 L522.3 803.2 L523.4 804.7 L524.9 806.2 L526.7 807.4 L530.2 808.7 L533.8 809.8 L543.8 811.6 L557.8 813.3 L567.7 814.2 L607.4 816.8 L629.2 817.7 L665 818.6"/>
<path d="M685 747.4 L675.8 751.2 L668.8 754.7 L650 765.9 L643.6 770.3 L637.6 775.6 L634.8 778.5 L632.4 781.5 L628.2 788.3 L626.6 791.9 L626 793.8 L624.6 801.8 L624.5 803.6 L624.7 805.3 L625.6 807.1 L627 808.7 L630.4 811.6 L632.1 812.5 L635.4 814 L643.2 816.2 L655.1 817.9 L665 818.6"/>
</g>
<g clip-path="url(#cpd)"><g filter="url(#bl)">
<rect x="759" y="489.9" width="593.8" height="436" fill="#fec77f"/>
<path fill="#ffc57e" d="M761 689.8l0 -0.3 6 0 2 0.4 8 0 2 0.4 10 0 2 0.4 8 0 2 0.4 10 0 2 0.4 8 0 2 0.4 8 0 2 0.4 10 0 2 0.4 8 0 2 0.4 8 0 2 0.4 10 0 2 0.4 8 0 2 0.4 10 0 2 0.4 8 0 2 0.4 10 0 2 0.4 8 0 2 0.4 10 0 2 0.4 8 0 2 0.4 10 0 2 0.4 8 0 2 0.3 10 0.1 2 0.4 20 0.4 2 0.3 10 0.1 2 0.3 22 0.5 2 0.3 18 0.5 2 0.3 14 0.5 2 0.3 6 0.1 2 0.3 6 0.1 2 0.3 6 0.1 2 0.3 6 0.1 2 0.3 8 0.1 2 0.3 6 0.1 2 0.3 6 0.1 2 0.3 6 0.1 2 0.3 8 0.1 2 0.3 12 0.1 2 0.3 10 0.1 2 0.3 12 0.1 2 0.3 10 0.1 2 0.3 12 0.1 2 0.3 10 0.1 1.6 0.3 -1.6 0.3 -58.2 0.5 -5.8 0.3 -80.5 0.5 -9.5 0.3 -40.2 0.1 -9.8 0.3 -124.6 0.5 -13.4 0.3 -60.5 0.1 -13.5 0.3 -56 0.1zM761 856.6l0 -0.3 4 0 2 0.3 18 0.1 2 0.3 42 0.5 2 0.3 40 0.5 2 0.3 20 0.1 2 0.3 40 0.5 2 0.3 40 0.5 2 0.3 20 0.1 2 0.3 18 0.1 2 0.3 20 0.1 2 0.3 18 0 4 0.4 18 0.1 1.5 0.3 -1.5 0.3 -39.3 0.1 -10.7 0.3 -160.9 0.9 -11.1 0.3 -46.2 0.1 -9.8 0.3 -44 0.1z"/>
<path fill="#ffc17b" d="M761 689.8l0 -0.3 6 0 2 0.4 8 0 2 0.4 10 0 2 0.4 8 0 2 0.4 10 0 2 0.4 8 0 2 0.4 8 0 2 0.4 10 0 2 0.4 8 0 2 0.4 8 0 2 0.4 10 0 2 0.4 8 0 2 0.4 10 0 2 0.4 8 0 2 0.4 10 0 2 0.4 8 0 2 0.4 10 0 2 0.4 8 0 2 0.4 20 0.4 2 0.4 10 0 2 0.4 20 0.4 2 0.4 10 0 2 0.4 22 0.4 2 0.4 18 0.4 2 0.4 14 0.4 2 0.4 6 0 2 0.4 6 0 2 0.4 6 0 2 0.3 6 0.1 2 0.3 8 0.1 2 0.3 6 0.1 2 0.3 6 0.1 2 0.3 6 0.1 2 0.3 8 0.1 2 0.3 12 0.1 2 0.3 10 0.1 2 0.3 12 0.1 2 0.3 10 0.1 2 0.3 12 0.1 2 0.4 10 0 1.5 0.3 -1.5 0.3 -58.8 0.5 -7.2 0.3 -79.2 0.5 -10.8 0.3 -39 0.1 -11 0.3 -197.6 0.9 -14.4 0.3 -54 0.1zM761 856.6l0 -0.3 4 0 2 0.4 18 0 2 0.3 42 0.5 2 0.3 40 0.5 2 0.3 20 0.1 2 0.3 40 0.5 2 0.3 40 0.5 2 0.3 20 0.1 2 0.3 18 0.1 2 0.3 20 0.1 2 0.3 18 0.1 4 0.4 18 0 1.3 0.3 -1.3 0.3 -40.4 0.1 -11.6 0.3 -159.8 0.9 -12.2 0.3 -45.1 0.1 -10.9 0.3 -42 0.1z"/>
<path fill="#ffbd79" d="M761 689.8l0 -0.2 6 0 2 0.4 8 0 2 0.4 10 0 2 0.4 8 0 2 0.4 10 0 2 0.4 18 0.4 2 0.4 10 0 2 0.4 8 0 2 0.4 8 0 2 0.3 10 0.1 2 0.4 8 0 2 0.3 10 0.1 2 0.4 8 0 2 0.3 10 0.1 2 0.3 8 0.1 2 0.3 10 0.1 2 0.3 8 0.1 2 0.3 20 0.5 2 0.3 10 0.1 2 0.3 20 0.5 2 0.3 10 0.1 2 0.3 22 0.5 2 0.3 18 0.5 2 0.3 6 0.1 2 0.3 6 0.1 2 0.3 30 1.3 2 0.3 8 0.1 26 1.5 60 1.7 2 0.2 10 0.1 4 0.4 11 0.3 -1 0.2 -70 0.9 -140 1.2 -262 1.3zM761 856.6l0 -0.2 4 0 2 0.3 62 0.9 2 0.3 18 0.1 2 0.3 20 0.1 2 0.3 40 0.5 2 0.3 40 0.5 2 0.3 18 0.1 4 0.3 40 0.5 2 0.2 18 0.1 4 0.3 16 0.1 6 0.4 18.7 0.3 -114.7 1.1 -208 1.3z"/>
<path fill="#ffb976" d="M761 689.8l6 -0.1 2 0.3 8 0.1 2 0.3 10 0.1 2 0.3 8 0.1 2 0.3 10 0.1 2 0.3 18 0.5 2 0.3 10 0.1 2 0.3 8 0.1 2 0.3 8 0.1 2 0.3 10 0.1 2 0.3 8 0.1 2 0.3 10 0.1 2 0.3 8 0.1 2 0.3 10 0.1 2 0.3 8 0.1 2 0.3 10 0.1 2 0.3 8 0.1 2 0.3 20 0.5 2 0.3 10 0.1 2 0.3 20 0.5 2 0.3 44 1.3 2 0.3 8 0.1 84 4.2 62 2 10 0 4 0.5 10.5 0.2 -72.5 1 -142 1.2 -258 1.3zM761 856.6l254 4.6 6 0.3 38 0.4 6 0.5 17.9 0.2 -321.9 2.3z"/>
<path fill="#ffb573" d="M761 689.8l170 6.3 20 0.5 2 0.3 20 0.5 2 0.3 78 2.5 104 4.9 62 1.7 4 0.4 10.1 0.2 -74.1 1 -144 1.2 -254 1.3zM761 856.6l260 4.9 38 0.5 6 0.4 13.5 0.2 -317.5 2.3z"/>
<path fill="#ffb171" d="M761 690.2l0 -0.2 214 7.7 78 2.6 94 4.5 70 2 6 0.5 7.4 0.1 -75.4 1 -144 1.2 -250 1.3zM761 857l0 -0.3 260 4.8 36 0.5 8 0.5 9.6 0.1 -313.6 2.3z"/>
<path fill="#ffad6e" d="M761 690.6l0 -0.4 292 10.2 94 4.4 70 2 10.6 0.6 -74.6 1 -144 1.2 -248 1.3zM761 857l0 -0.3 296 5.3 14.1 0.6 -310.1 2.3z"/>
<path fill="#ffa96c" d="M761 690.6l294 10 92 4.3 70 1.9 8 0.6 -72 0.9 -96 0.9 -296 1.6zM761 857l296 5 10.8 0.6 -306.8 2.2z"/>
<path fill="#ffa569" d="M761 691l0 -0.2 294 9.9 92 4.2 70 2 5.4 0.5 -71.4 0.9 -96 0.8 -294 1.7zM761 857l294 5 9.7 0.6 -303.7 2.2z"/>
<path fill="#ffa167" d="M761 691.4l0 -0.3 294 9.7 92 4.1 70 2 1.7 0.1 1.2 0.4 -68.9 0.9 -96 0.8 -294 1.7zM761 857.4l0 -0.4 294 5 4.5 0.2 2.3 0.4 -300.8 2.2z"/>
<path fill="#fc9d64" d="M761 691.4l294 9.5 94 4.2 69.1 1.9 -0.6 0.4 -34.5 0.5 -128 1.2 -294 1.7zM761 857.4l0 -0.3 297.9 5.1 -0.3 0.4 -3.6 0 -294 2.2z"/>
<path fill="#f59962" d="M761 691.8l0 -0.2 294 9.5 94 4 68.6 1.9 -2.4 0.4 -34.2 0.5 -126 1.1 -294 1.7zM761 857.4l0 -0.2 297.2 5 -1.2 0.3 -4 0.1 -292 2.1z"/>
<path fill="#ef955f" d="M761 692.2l0 -0.3 294 9.3 94 4 68 1.8 -4.1 0.4 -41.9 0.6 -118 1 -292 1.7zM761 857.4l296.4 4.8 -8.4 0.4 -288 2.1z"/>
<path fill="#e9915d" d="M761 692.2l294 9.1 94 3.9 67.4 1.8 -5.7 0.4 -41.7 0.6 -118 1 -290 1.7zM761 857.4l295.7 4.8 -9.6 0.4 -286.1 2.1z"/>
<path fill="#e28d5a" d="M761 692.6l294 8.8 94 3.8 66.7 1.8 -7.1 0.4 -39.6 0.5 -114 1.1 -294 1.7zM761 857.8l0 -0.3 294.9 4.7 -12.5 0.4 -282.4 2.1z"/>
<path fill="#dc8958" d="M761 693l0 -0.3 294 8.8 94 3.8 66.1 1.7 -8.6 0.4 -37.5 0.5 -114 1 -294 1.7zM761 857.8l0 -0.2 294.1 4.6 -28.1 0.5 -266 1.9z"/>
<path fill="#d68555" d="M761 693l294 8.6 94 3.7 65.3 1.7 -9.3 0.4 -36 0.5 -114 1 -294 1.7zM761 857.8l293.2 4.4 -9.2 0.3 -36 0.3 -248 1.8z"/>
<path fill="#cf8152" d="M761 693.4l294 8.4 94 3.6 64.6 1.6 -8.6 0.4 -36 0.5 -114 1 -294 1.7zM761 857.8l292.3 4.4 -10.3 0.3 -54 0.5 -228 1.6z"/>
<path fill="#c97d50" d="M761 693.8l0 -0.2 294 8.3 94 3.5 63.8 1.6 -43.8 0.9 -114 1 -294 1.7zM761 858.2l0 -0.4 291.3 4.4 -71.3 0.8 -220 1.6z"/>
<path fill="#c27a4d" d="M761 694.2l0 -0.4 294 8.2 94 3.5 63 1.5 -43 0.8 -114 1 -294 1.7zM761 858.2l0 -0.3 290.3 4.3 -70.3 0.8 -220 1.5z"/>
<path fill="#bc764b" d="M761 694.2l294 7.9 94 3.4 62.2 1.5 -42.2 0.8 -114 1 -294 1.7zM761 858.2l289.3 4 -69.3 0.8 -220 1.5z"/>
<path fill="#b67248" d="M761 694.6l0 -0.2 294 7.8 94 3.4 61.3 1.4 -41.3 0.8 -114 1 -294 1.7zM761 858.2l288.2 4 -68.2 0.7 -220 1.6z"/>
<path fill="#af6e46" d="M761 695l0 -0.3 294 7.6 94 3.3 60.4 1.4 -40.4 0.8 -114 1 -294 1.7zM761 858.6l0 -0.4 287.1 4 -287.1 2.3z"/>
<path fill="#a96a43" d="M761 695l294 7.4 94 3.3 59.4 1.3 -39.4 0.7 -114 1 -294 1.7zM761 858.6l0 -0.3 286 3.9 -286 2.2z"/>
<path fill="#a36641" d="M761 695.4l0 -0.2 294 7.4 94 3.1 58.4 1.3 -56.4 0.9 -96 0.8 -294 1.7zM761 858.6l0 -0.2 284.7 3.8 -284.7 2.2z"/>
<path fill="#9c623e" d="M761 695.8l0 -0.3 294 7.2 94 3.1 57.3 1.2 -55.3 0.9 -96 0.8 -294 1.7zM761 858.6l283.4 3.6 -283.4 2.2z"/>
<path fill="#965e3c" d="M761 695.8l294 7 94 3 56.3 1.2 -54.3 0.9 -96 0.8 -294 1.7zM761 858.6l282.1 3.6 -282.1 2.2z"/>
<path fill="#8f5a39" d="M761 696.2l294 6.7 94 3 55.1 1.1 -53.1 0.8 -96 0.9 -294 1.6zM761 859l0 -0.3 280.7 3.5 -280.7 2.1z"/>
<path fill="#895637" d="M761 696.6l0 -0.3 294 6.7 94 2.9 53.9 1.1 -51.9 0.8 -96 0.8 -294 1.7zM761 859l0 -0.2 279.1 3.4 -279.1 2.1z"/>
<path fill="#835234" d="M761 696.6l294 6.5 94 2.9 52.7 1 -50.7 0.8 -96 0.8 -294 1.7zM761 859l276.8 3.2 -276.8 2.1z"/>
<path fill="#7c4e31" d="M761 697l294 6.2 94 2.8 51.4 1 -49.4 0.8 -96 0.8 -294 1.7zM761 859l273.7 3.2 -273.7 2.1z"/>
<path fill="#764a2f" d="M761 697.4l0 -0.2 294 6.2 94 2.6 50.1 1 -48.1 0.7 -96 0.9 -294 1.7zM761 859.4l0 -0.4 270.7 3.2 -270.7 2z"/>
<path fill="#70462c" d="M761 697.8l0 -0.4 294 6.1 94 2.6 48.7 0.9 -46.7 0.7 -96 0.8 -294 1.7zM761 859.4l0 -0.3 267.7 3.1 -267.7 2z"/>
<path fill="#69422a" d="M761 697.8l294 5.8 94 2.5 47.3 0.9 -45.3 0.7 -96 0.8 -294 1.7zM761 859.4l0 -0.2 264.8 3 -264.8 2z"/>
<path fill="#633e27" d="M761 698.2l0 -0.2 294 5.7 94 2.5 45.8 0.8 -43.8 0.7 -96 0.8 -294 1.7zM761 859.4l261.8 2.8 -261.8 2z"/>
<path fill="#5c3a25" d="M761 698.6l0 -0.3 294 5.5 94 2.4 44.3 0.8 -42.3 0.6 -96 0.9 -294 1.7zM761 859.4l259 2.8 -259 2z"/>
<path fill="#563622" d="M761 698.6l294 5.3 94 2.4 42.7 0.7 -42.7 0.6 -148 1.2 -240 1.3zM761 859.8l0 -0.3 256.1 2.7 -256.1 1.9z"/>
<path fill="#503220" d="M761 699l0 -0.2 294 5.3 94 2.2 41.1 0.7 -41.1 0.6 -148 1.2 -240 1.3zM761 859.8l0 -0.2 253.3 2.6 -253.3 1.9z"/>
<path fill="#492e1d" d="M761 699.4l0 -0.3 294 5.1 94 2.2 39.4 0.6 -39.4 0.6 -148 1.2 -240 1.3zM761 859.8l250.5 2.4 -250.5 1.9z"/>
<path fill="#432a1b" d="M761 699.4l294 4.9 94 2.1 37.7 0.6 -37.7 0.6 -148 1.2 -240 1.3zM761 859.8l247.8 2.4 -247.8 1.9z"/>
<path fill="#3d2618" d="M761 699.8l294 4.6 94 2.1 36 0.5 -36 0.5 -148 1.2 -240 1.3zM761 860.2l0 -0.4 245.1 2.4 -245.1 1.8z"/>
<path fill="#362216" d="M761 700.2l0 -0.3 294 4.6 94 2 34.2 0.5 -34.2 0.5 -148 1.2 -240 1.3zM761 860.2l0 -0.3 242.4 2.3 -242.4 1.8z"/>
<path fill="#301e13" d="M761 700.2l294 4.4 126.3 2.4 -32.3 0.5 -148 1.2 -240 1.3zM761 860.2l239.7 2 -239.7 1.8z"/>
<path fill="#291a10" d="M761 700.6l294 4.1 124.5 2.3 -30.5 0.5 -148 1.2 -240 1.3zM761 860.2l237.1 2 -237.1 1.8z"/>
<path fill="#23160e" d="M761 701l0 -0.3 294 4.2 122.5 2.1 -28.5 0.5 -148 1.1 -240 1.3zM761 860.6l0 -0.4 234.5 2 -234.5 1.7z"/>
<path fill="#1d120b" d="M761 701.4l0 -0.4 294 4 120.6 2 -26.6 0.4 -148 1.2 -240 1.3zM761 860.6l0 -0.3 231.9 1.9 -231.9 1.7z"/>
<path fill="#160e09" d="M761 701.4l294 3.7 92 1.7 26.6 0.2 -174.4 1.6 -238.2 1.3zM761 860.6l0 -0.2 229.2 1.8 -229.2 1.7z"/>
<path fill="#100a06" d="M761 701.8l0 -0.2 294 3.6 90 1.6 26.6 0.2 -176.8 1.6 -233.8 1.3zM761 860.6l223 1.6 -37 0.1 -11.2 0.3 -42.8 0.1 -132 1.2z"/>
<path fill="#0a0604" d="M761 702.2l0 -0.3 294 3.4 86 1.5 27.8 0.2 -125.8 1.2 -282 1.6zM761 860.6l115.9 0.8 14.1 0.3 45 0.1 0 0.4 -3 0.1 -1.6 0.3 -44.4 0.1 -9.9 0.3 -44.1 0.1 -11.1 0.3 -42.9 0.1 -18 0.3z"/>
<path fill="#000000" d="M761 702.2l290.8 3.2 85.2 1.5 26.3 0.1 -24.3 0.4 -38 0.1 -10 0.3 -38 0.1 -10 0.3 -118 0.5 -16 0.3 -58 0.1 -16 0.3 -58 0.1 -16 0.3zM761 861l0 -0.2 87 0.6 0 1.6 -25 0.1 -4.5 0.3 -45.5 0.1 -12 0.3z"/>
</g></g>
<g clip-path="url(#cdd)" class="dash" filter="url(#db)">
<path d="M765 687 L906.7 692.4 L1072.5 698 L1172.2 702.8 L1260 707.7"/>
<path d="M775 714.5 L896.5 714.3 L1010.1 713.6 L1063.8 712.4 L1145.5 709.6 L1263 707.7"/>
<path d="M765 854 L856.7 857.9 L946.5 860.6 L1036.2 862.2 L1126 862.6"/>
<path d="M763 869.5 L1110 862.6"/>
</g>
<g filter="url(#tb)">
<text x="400.5" y="27.1" class="t" text-anchor="middle">TM</text>
<text x="1052" y="27.1" class="t" text-anchor="middle">TE</text>
<text x="94.6" y="69.1" class="k" text-anchor="end">100</text>
<text x="90.8" y="275.7" class="k" text-anchor="end">50</text>
<text x="82.4" y="471.5" class="k" text-anchor="end">0</text>
<text x="100.6" y="521.4" class="k" text-anchor="end">100</text>
<text x="97.2" y="722.8" class="k" text-anchor="end">50</text>
<text x="88.7" y="920.6" class="k" text-anchor="end">0</text>
<text x="121.4" y="966" class="k" text-anchor="middle">0</text>
<text x="238.4" y="966" class="k" text-anchor="middle">20</text>
<text x="365.1" y="966" class="k" text-anchor="middle">40</text>
<text x="492.2" y="966" class="k" text-anchor="middle">60</text>
<text x="619.3" y="966" class="k" text-anchor="middle">80</text>
<text x="773.2" y="968" class="k" text-anchor="middle">0</text>
<text x="890.2" y="968" class="k" text-anchor="middle">20</text>
<text x="1017.3" y="968" class="k" text-anchor="middle">40</text>
<text x="1144.0" y="968" class="k" text-anchor="middle">60</text>
<text x="1270.7" y="968" class="k" text-anchor="middle">80</text>
<text x="412.5" y="1022.5" class="t" text-anchor="middle" textLength="271.5" lengthAdjust="spacingAndGlyphs">Incidence (degree)</text>
<text x="1064.2" y="1026.5" class="t" text-anchor="middle" textLength="272" lengthAdjust="spacingAndGlyphs">Incidence (degree)</text>
<text transform="translate(30,279) rotate(-90)" class="t" text-anchor="middle">Frequency (THz)</text>
<text transform="translate(30,720.7) rotate(-90)" class="t" text-anchor="middle">Frequency (THz)</text>
<text x="1420.6" y="330.8" class="k" textLength="55.4" lengthAdjust="spacingAndGlyphs">0.05</text>
<text x="1423.0" y="492.7" class="k" textLength="72.4" lengthAdjust="spacingAndGlyphs">0.025</text>
<text x="1421.2" y="656.9" class="k" textLength="14.4" lengthAdjust="spacingAndGlyphs">0</text>
<text x="120.6" y="197.4" class="g" textLength="85.3" lengthAdjust="spacingAndGlyphs">54 THz</text>
<text x="120.3" y="342" class="g" textLength="85.3" lengthAdjust="spacingAndGlyphs">23 THz</text>
<text x="775.6" y="197.3" class="g" textLength="85.3" lengthAdjust="spacingAndGlyphs">54 THz</text>
<text x="774.8" y="346.4" class="g" textLength="85.3" lengthAdjust="spacingAndGlyphs">23 THz</text>
<text x="120.3" y="668" class="g" textLength="85.3" lengthAdjust="spacingAndGlyphs">52 THz</text>
<text x="121.0" y="837.3" class="g" textLength="85.3" lengthAdjust="spacingAndGlyphs">15 THz</text>
<text x="780.0" y="666.3" class="g" textLength="85.3" lengthAdjust="spacingAndGlyphs">52 THz</text>
<text x="780.0" y="834.9" class="g" textLength="85.3" lengthAdjust="spacingAndGlyphs">15 THz</text>
<text x="128.4" y="92.6" class="p">(a)</text>
<text x="193.4" y="97.5" class="e i" style="font-size:37px">d</text>
<text x="213.29999999999998" y="104.7" class="s" textLength="49.6" lengthAdjust="spacingAndGlyphs">hBN</text>
<text x="278.2" y="100.6" class="e" textLength="28.5" lengthAdjust="spacingAndGlyphs">=</text>
<text x="317.40000000000003" y="97.5" class="e" textLength="37.6" lengthAdjust="spacingAndGlyphs">20</text>
<text x="355.3" y="97.5" class="e i" textLength="52.3" lengthAdjust="spacingAndGlyphs">nm</text>
<text x="789.5" y="93.2" class="p">(b)</text>
<text x="875.5" y="96.7" class="e i" style="font-size:35.5px">d</text>
<text x="895.6" y="104.6" class="s" textLength="49.6" lengthAdjust="spacingAndGlyphs">hBN</text>
<text x="961.6999999999999" y="99.8" class="e" textLength="28.5" lengthAdjust="spacingAndGlyphs">=</text>
<text x="1000.2" y="96.7" class="e" textLength="37.6" lengthAdjust="spacingAndGlyphs">20</text>
<text x="1037.5" y="96.7" class="e i" textLength="53.4" lengthAdjust="spacingAndGlyphs">nm</text>
<text x="128.4" y="555.3" class="p">(c)</text>
<text x="196.4" y="557.7" class="e i" style="font-size:37px">d</text>
<text x="216.29999999999998" y="564.0" class="s" textLength="49.6" lengthAdjust="spacingAndGlyphs">hBN</text>
<text x="282.2" y="560.8000000000001" class="e" textLength="28.5" lengthAdjust="spacingAndGlyphs">=</text>
<text x="320.20000000000005" y="557.7" class="e" textLength="37.6" lengthAdjust="spacingAndGlyphs">50</text>
<text x="358.3" y="557.7" class="e i" textLength="53.3" lengthAdjust="spacingAndGlyphs">nm</text>
<text x="788.7" y="561.4" class="p">(d)</text>
<text x="874.5" y="557.4" class="e i" style="font-size:35.5px">d</text>
<text x="895.6" y="565.1" class="s" textLength="49.6" lengthAdjust="spacingAndGlyphs">hBN</text>
<text x="960.6999999999999" y="560.5" class="e" textLength="28.5" lengthAdjust="spacingAndGlyphs">=</text>
<text x="998.9" y="557.4" class="e" textLength="37.6" lengthAdjust="spacingAndGlyphs">50</text>
<text x="1036.4" y="557.4" class="e i" textLength="54.5" lengthAdjust="spacingAndGlyphs">nm</text>
</g>
<g filter="url(#tb)"><rect x="1379.5" y="301.5" width="33.9" height="358.2" fill="url(#cb)"/>
<rect x="1410.8" y="365.0" width="2.6" height="1" fill="#3a2a20"/>
<rect x="1410.8" y="441.3" width="2.6" height="1" fill="#3a2a20"/>
<rect x="1410.8" y="519.2" width="2.6" height="1" fill="#3a2a20"/>
</g>
</svg>
</body></html>
